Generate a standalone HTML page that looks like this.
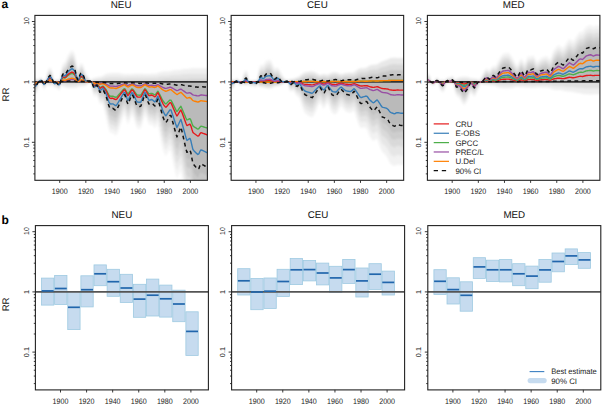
<!DOCTYPE html><html><head><meta charset="utf-8"><style>html,body{margin:0;padding:0;background:#fff;width:602px;height:404px;overflow:hidden}svg{display:block}svg text{font-family:"Liberation Sans",sans-serif;text-rendering:geometricPrecision}</style></head><body>
<svg width="602" height="404" viewBox="0 0 602 404">
<rect width="602" height="404" fill="#fff"/>
<defs>
<clipPath id="ca0"><rect x="34.9" y="15.4" width="172.5" height="164.9"/></clipPath>
<clipPath id="ca1"><rect x="231.15" y="15.4" width="172.5" height="164.9"/></clipPath>
<clipPath id="ca2"><rect x="427.4" y="15.4" width="172.5" height="164.9"/></clipPath>
<filter id="bl" x="-5%" y="-5%" width="110%" height="110%"><feGaussianBlur stdDeviation="0.8"/></filter>
</defs>
<g font-family='"Liberation Sans", sans-serif'>
<g clip-path="url(#ca0)"><g filter="url(#bl)">
<polygon fill="#f0f0f0" points="30.9,78.44 31.9,78.44 32.9,78.44 33.9,78.44 34.9,78.44 35.9,78.46 36.9,78.52 37.9,78.66 38.9,83.39 39.9,83.48 40.9,83.52 41.9,83.57 42.9,79.5 43.9,79.5 44.9,79.54 45.9,79.64 46.9,85.46 47.9,85.65 48.9,85.72 49.9,85.75 50.9,85.73 51.9,85.67 52.9,85.49 53.9,79.94 54.9,79.73 55.9,79.51 56.9,79.36 57.9,79.29 58.9,79.26 59.9,79.29 60.9,86.1 61.9,86.34 62.9,86.6 63.9,86.93 64.9,87.3 65.9,87.63 66.9,87.91 67.9,88.11 68.9,88.25 69.9,88.32 70.9,88.35 71.9,88.36 72.9,88.35 73.9,88.32 74.9,88.25 75.9,88.07 76.9,87.78 77.9,87.38 78.9,86.98 79.9,86.7 80.9,86.56 81.9,86.51 82.9,86.48 83.9,86.4 84.9,86.19 85.9,85.78 86.9,85.16 87.9,84.37 88.9,83.6 89.9,83.07 90.9,82.82 91.9,78.4 92.9,78.22 93.9,78.07 94.9,77.82 95.9,77.49 96.9,77.17 97.9,76.95 98.9,76.84 99.9,76.74 100.9,76.56 101.9,76.21 102.9,75.7 103.9,75.09 104.9,74.48 105.9,73.99 106.9,73.65 107.9,73.46 108.9,73.36 109.9,73.3 110.9,73.23 111.9,73.16 112.9,73.1 113.9,73.06 114.9,73.04 115.9,73.04 116.9,73.05 117.9,73.08 118.9,73.17 119.9,73.34 120.9,73.59 121.9,73.87 122.9,74.12 123.9,74.23 124.9,74.23 125.9,74.18 126.9,74.14 127.9,74.12 128.9,74.13 129.9,74.16 130.9,74.2 131.9,74.2 132.9,74.11 133.9,73.96 134.9,73.83 135.9,73.75 136.9,73.71 137.9,73.7 138.9,73.7 139.9,73.7 140.9,73.7 141.9,73.73 142.9,73.79 143.9,73.91 144.9,74.03 145.9,74.12 146.9,74.14 147.9,74.14 148.9,74.11 149.9,74.04 150.9,73.96 151.9,73.87 152.9,73.82 153.9,73.79 154.9,73.75 155.9,73.65 156.9,73.42 157.9,73.07 158.9,72.65 159.9,72.25 160.9,71.93 161.9,71.7 162.9,71.56 163.9,71.49 164.9,71.47 165.9,71.46 166.9,71.45 167.9,71.44 168.9,71.38 169.9,71.24 170.9,71.01 171.9,70.73 172.9,70.47 173.9,70.29 174.9,70.19 175.9,70.15 176.9,70.13 177.9,70.12 178.9,70.08 179.9,69.97 180.9,69.8 181.9,69.57 182.9,69.36 183.9,69.21 184.9,69.11 185.9,69.06 186.9,69 187.9,68.89 188.9,68.73 189.9,68.58 190.9,68.45 191.9,68.37 192.9,68.31 193.9,68.26 194.9,68.23 195.9,68.21 196.9,68.2 197.9,68.2 198.9,68.2 199.9,68.21 200.9,68.23 201.9,68.25 202.9,68.28 203.9,68.29 204.9,68.29 205.9,68.29 206.9,68.29 207.9,68.29 208.9,68.29 209.9,68.29 210.9,68.29 210.9,73.43 209.9,73.43 208.9,73.43 207.9,73.43 206.9,73.43 205.9,73.43 204.9,73.43 203.9,73.43 202.9,73.42 201.9,73.41 200.9,73.39 199.9,73.38 198.9,73.38 197.9,73.38 196.9,73.38 195.9,73.38 194.9,73.39 193.9,73.41 192.9,73.44 191.9,73.48 190.9,73.53 189.9,73.61 188.9,73.71 187.9,73.8 186.9,73.87 185.9,73.91 184.9,73.94 183.9,74 182.9,74.1 181.9,74.23 180.9,74.37 179.9,74.48 178.9,74.54 177.9,74.57 176.9,74.58 175.9,74.59 174.9,74.61 173.9,74.68 172.9,74.79 171.9,74.95 170.9,75.12 169.9,75.27 168.9,75.35 167.9,75.39 166.9,75.4 165.9,75.4 164.9,75.41 163.9,75.42 162.9,75.47 161.9,75.56 160.9,75.7 159.9,75.9 158.9,76.14 157.9,76.4 156.9,76.63 155.9,76.77 154.9,76.83 153.9,76.85 152.9,76.87 151.9,76.9 150.9,76.96 149.9,77.01 148.9,77.05 147.9,77.07 146.9,77.07 145.9,77.06 144.9,77 143.9,76.93 142.9,76.86 141.9,76.82 140.9,76.8 139.9,76.8 138.9,76.8 137.9,76.8 136.9,76.81 135.9,76.83 134.9,76.88 133.9,76.96 132.9,77.05 131.9,77.11 130.9,77.11 129.9,77.09 128.9,77.07 127.9,77.06 126.9,77.07 125.9,77.09 124.9,77.13 123.9,77.13 122.9,77.06 121.9,76.91 120.9,76.73 119.9,76.57 118.9,76.47 117.9,76.41 116.9,76.39 115.9,76.39 114.9,76.39 113.9,76.4 112.9,76.42 111.9,76.46 110.9,76.51 109.9,76.55 108.9,76.59 107.9,76.65 106.9,76.77 105.9,76.98 104.9,77.29 103.9,77.66 102.9,78.04 101.9,78.36 100.9,78.58 99.9,78.69 98.9,78.75 97.9,78.82 96.9,78.95 95.9,79.15 94.9,79.36 93.9,79.51 92.9,79.61 91.9,79.72 90.9,82.47 89.9,82.63 88.9,82.96 87.9,83.44 86.9,83.93 85.9,84.31 84.9,84.57 83.9,84.7 82.9,84.75 81.9,84.77 80.9,84.8 79.9,84.89 78.9,85.06 77.9,85.31 76.9,85.56 75.9,85.74 74.9,85.85 73.9,85.9 72.9,85.91 71.9,85.92 70.9,85.91 69.9,85.89 68.9,85.85 67.9,85.77 66.9,85.64 65.9,85.47 64.9,85.26 63.9,85.03 62.9,84.82 61.9,84.66 60.9,84.51 59.9,80.27 58.9,80.25 57.9,80.27 56.9,80.32 55.9,80.42 54.9,80.55 53.9,80.68 52.9,84.13 51.9,84.24 50.9,84.28 49.9,84.3 48.9,84.28 47.9,84.23 46.9,84.12 45.9,80.5 44.9,80.43 43.9,80.41 42.9,80.41 41.9,82.94 40.9,82.91 39.9,82.88 38.9,82.83 37.9,79.88 36.9,79.79 35.9,79.76 34.9,79.75 33.9,79.75 32.9,79.75 31.9,79.75 30.9,79.75"/>
<polygon fill="#e3e3e3" points="30.9,79.75 31.9,79.75 32.9,79.75 33.9,79.75 34.9,79.75 35.9,79.76 36.9,79.79 37.9,79.88 38.9,82.83 39.9,82.88 40.9,82.91 41.9,82.94 42.9,80.41 43.9,80.41 44.9,80.43 45.9,80.5 46.9,84.12 47.9,84.23 48.9,84.28 49.9,84.3 50.9,84.28 51.9,84.24 52.9,84.13 53.9,80.68 54.9,80.55 55.9,80.42 56.9,80.32 57.9,80.27 58.9,80.25 59.9,80.27 60.9,84.51 61.9,84.66 62.9,84.82 63.9,85.03 64.9,85.26 65.9,85.47 66.9,85.64 67.9,85.77 68.9,85.85 69.9,85.89 70.9,85.91 71.9,85.92 72.9,85.91 73.9,85.9 74.9,85.85 75.9,85.74 76.9,85.56 77.9,85.31 78.9,85.06 79.9,84.89 80.9,84.8 81.9,84.77 82.9,84.75 83.9,84.7 84.9,84.57 85.9,84.31 86.9,83.93 87.9,83.44 88.9,82.96 89.9,82.63 90.9,82.47 91.9,79.72 92.9,79.61 93.9,79.51 94.9,79.36 95.9,79.15 96.9,78.95 97.9,78.82 98.9,78.75 99.9,78.69 100.9,78.58 101.9,78.36 102.9,78.04 103.9,77.66 104.9,77.29 105.9,76.98 106.9,76.77 107.9,76.65 108.9,76.59 109.9,76.55 110.9,76.51 111.9,76.46 112.9,76.42 113.9,76.4 114.9,76.39 115.9,76.39 116.9,76.39 117.9,76.41 118.9,76.47 119.9,76.57 120.9,76.73 121.9,76.91 122.9,77.06 123.9,77.13 124.9,77.13 125.9,77.09 126.9,77.07 127.9,77.06 128.9,77.07 129.9,77.09 130.9,77.11 131.9,77.11 132.9,77.05 133.9,76.96 134.9,76.88 135.9,76.83 136.9,76.81 137.9,76.8 138.9,76.8 139.9,76.8 140.9,76.8 141.9,76.82 142.9,76.86 143.9,76.93 144.9,77 145.9,77.06 146.9,77.07 147.9,77.07 148.9,77.05 149.9,77.01 150.9,76.96 151.9,76.9 152.9,76.87 153.9,76.85 154.9,76.83 155.9,76.77 156.9,76.63 157.9,76.4 158.9,76.14 159.9,75.9 160.9,75.7 161.9,75.56 162.9,75.47 163.9,75.42 164.9,75.41 165.9,75.4 166.9,75.4 167.9,75.39 168.9,75.35 169.9,75.27 170.9,75.12 171.9,74.95 172.9,74.79 173.9,74.68 174.9,74.61 175.9,74.59 176.9,74.58 177.9,74.57 178.9,74.54 179.9,74.48 180.9,74.37 181.9,74.23 182.9,74.1 183.9,74 184.9,73.94 185.9,73.91 186.9,73.87 187.9,73.8 188.9,73.71 189.9,73.61 190.9,73.53 191.9,73.48 192.9,73.44 193.9,73.41 194.9,73.39 195.9,73.38 196.9,73.38 197.9,73.38 198.9,73.38 199.9,73.38 200.9,73.39 201.9,73.41 202.9,73.42 203.9,73.43 204.9,73.43 205.9,73.43 206.9,73.43 207.9,73.43 208.9,73.43 209.9,73.43 210.9,73.43 210.9,78.27 209.9,78.27 208.9,78.27 207.9,78.27 206.9,78.27 205.9,78.27 204.9,78.27 203.9,78.27 202.9,78.27 201.9,78.26 200.9,78.25 199.9,78.25 198.9,78.25 197.9,78.25 196.9,78.25 195.9,78.25 194.9,78.25 193.9,78.26 192.9,78.27 191.9,78.29 190.9,78.31 189.9,78.35 188.9,78.39 187.9,78.43 186.9,78.46 185.9,78.48 184.9,78.49 183.9,78.51 182.9,78.56 181.9,78.61 180.9,78.67 179.9,78.72 178.9,78.75 177.9,78.76 176.9,78.76 175.9,78.77 174.9,78.78 173.9,78.8 172.9,78.85 171.9,78.92 170.9,79 169.9,79.06 168.9,79.09 167.9,79.11 166.9,79.11 165.9,79.12 164.9,79.12 163.9,79.12 162.9,79.14 161.9,79.18 160.9,79.24 159.9,79.33 158.9,79.43 157.9,79.54 156.9,79.64 155.9,79.7 154.9,79.73 153.9,79.74 152.9,79.74 151.9,79.76 150.9,79.78 149.9,79.81 148.9,79.82 147.9,79.83 146.9,79.83 145.9,79.82 144.9,79.8 143.9,79.77 142.9,79.74 141.9,79.72 140.9,79.71 139.9,79.71 138.9,79.71 137.9,79.71 136.9,79.72 135.9,79.73 134.9,79.75 133.9,79.78 132.9,79.82 131.9,79.85 130.9,79.85 129.9,79.84 128.9,79.83 127.9,79.82 126.9,79.83 125.9,79.84 124.9,79.85 123.9,79.86 122.9,79.82 121.9,79.76 120.9,79.68 119.9,79.62 118.9,79.57 117.9,79.55 116.9,79.54 115.9,79.54 114.9,79.54 113.9,79.54 112.9,79.55 111.9,79.57 110.9,79.59 109.9,79.61 108.9,79.62 107.9,79.65 106.9,79.7 105.9,79.79 104.9,79.92 103.9,80.08 102.9,80.25 101.9,80.38 100.9,80.48 99.9,80.53 98.9,80.55 97.9,80.58 96.9,80.64 95.9,80.72 94.9,80.81 93.9,80.88 92.9,80.92 91.9,80.97 90.9,82.15 89.9,82.21 88.9,82.35 87.9,82.56 86.9,82.77 85.9,82.93 84.9,83.04 83.9,83.1 82.9,83.12 81.9,83.13 80.9,83.14 79.9,83.18 78.9,83.26 77.9,83.36 76.9,83.47 75.9,83.55 74.9,83.59 73.9,83.61 72.9,83.62 71.9,83.62 70.9,83.62 69.9,83.61 68.9,83.59 67.9,83.56 66.9,83.5 65.9,83.43 64.9,83.34 63.9,83.24 62.9,83.15 61.9,83.08 60.9,83.02 59.9,81.2 58.9,81.19 57.9,81.2 56.9,81.22 55.9,81.26 54.9,81.32 53.9,81.38 52.9,82.86 51.9,82.9 50.9,82.92 49.9,82.93 48.9,82.92 47.9,82.9 46.9,82.85 45.9,81.3 44.9,81.27 43.9,81.26 42.9,81.26 41.9,82.35 40.9,82.33 39.9,82.32 38.9,82.3 37.9,81.04 36.9,81 35.9,80.98 34.9,80.98 33.9,80.98 32.9,80.98 31.9,80.98 30.9,80.98"/>
<polygon fill="#d5d5d5" points="30.9,80.98 31.9,80.98 32.9,80.98 33.9,80.98 34.9,80.98 35.9,80.98 36.9,81 37.9,81.04 38.9,82.3 39.9,82.32 40.9,82.33 41.9,82.35 42.9,81.26 43.9,81.26 44.9,81.27 45.9,81.3 46.9,82.85 47.9,82.9 48.9,82.92 49.9,82.93 50.9,82.92 51.9,82.9 52.9,82.86 53.9,81.38 54.9,81.32 55.9,81.26 56.9,81.22 57.9,81.2 58.9,81.19 59.9,81.2 60.9,83.02 61.9,83.08 62.9,83.15 63.9,83.24 64.9,83.34 65.9,83.43 66.9,83.5 67.9,83.56 68.9,83.59 69.9,83.61 70.9,83.62 71.9,83.62 72.9,83.62 73.9,83.61 74.9,83.59 75.9,83.55 76.9,83.47 77.9,83.36 78.9,83.26 79.9,83.18 80.9,83.14 81.9,83.13 82.9,83.12 83.9,83.1 84.9,83.04 85.9,82.93 86.9,82.77 87.9,82.56 88.9,82.35 89.9,82.21 90.9,82.15 91.9,80.97 92.9,80.92 93.9,80.88 94.9,80.81 95.9,80.72 96.9,80.64 97.9,80.58 98.9,80.55 99.9,80.53 100.9,80.48 101.9,80.38 102.9,80.25 103.9,80.08 104.9,79.92 105.9,79.79 106.9,79.7 107.9,79.65 108.9,79.62 109.9,79.61 110.9,79.59 111.9,79.57 112.9,79.55 113.9,79.54 114.9,79.54 115.9,79.54 116.9,79.54 117.9,79.55 118.9,79.57 119.9,79.62 120.9,79.68 121.9,79.76 122.9,79.82 123.9,79.86 124.9,79.85 125.9,79.84 126.9,79.83 127.9,79.82 128.9,79.83 129.9,79.84 130.9,79.85 131.9,79.85 132.9,79.82 133.9,79.78 134.9,79.75 135.9,79.73 136.9,79.72 137.9,79.71 138.9,79.71 139.9,79.71 140.9,79.71 141.9,79.72 142.9,79.74 143.9,79.77 144.9,79.8 145.9,79.82 146.9,79.83 147.9,79.83 148.9,79.82 149.9,79.81 150.9,79.78 151.9,79.76 152.9,79.74 153.9,79.74 154.9,79.73 155.9,79.7 156.9,79.64 157.9,79.54 158.9,79.43 159.9,79.33 160.9,79.24 161.9,79.18 162.9,79.14 163.9,79.12 164.9,79.12 165.9,79.12 166.9,79.11 167.9,79.11 168.9,79.09 169.9,79.06 170.9,79 171.9,78.92 172.9,78.85 173.9,78.8 174.9,78.78 175.9,78.77 176.9,78.76 177.9,78.76 178.9,78.75 179.9,78.72 180.9,78.67 181.9,78.61 182.9,78.56 183.9,78.51 184.9,78.49 185.9,78.48 186.9,78.46 187.9,78.43 188.9,78.39 189.9,78.35 190.9,78.31 191.9,78.29 192.9,78.27 193.9,78.26 194.9,78.25 195.9,78.25 196.9,78.25 197.9,78.25 198.9,78.25 199.9,78.25 200.9,78.25 201.9,78.26 202.9,78.27 203.9,78.27 204.9,78.27 205.9,78.27 206.9,78.27 207.9,78.27 208.9,78.27 209.9,78.27 210.9,78.27 210.9,81.9 209.9,81.9 208.9,81.9 207.9,81.9 206.9,81.9 205.9,81.9 204.9,81.9 203.9,81.9 202.9,81.9 201.9,81.9 200.9,81.9 199.9,81.9 198.9,81.9 197.9,81.9 196.9,81.9 195.9,81.9 194.9,81.9 193.9,81.9 192.9,81.9 191.9,81.9 190.9,81.9 189.9,81.9 188.9,81.9 187.9,81.9 186.9,81.9 185.9,81.9 184.9,81.9 183.9,81.9 182.9,81.9 181.9,81.9 180.9,81.9 179.9,81.9 178.9,81.9 177.9,81.9 176.9,81.9 175.9,81.9 174.9,81.9 173.9,81.9 172.9,81.9 171.9,81.9 170.9,81.9 169.9,81.9 168.9,81.9 167.9,81.9 166.9,81.9 165.9,81.9 164.9,81.9 163.9,81.9 162.9,81.9 161.9,81.9 160.9,81.9 159.9,81.9 158.9,81.9 157.9,81.9 156.9,81.9 155.9,81.9 154.9,81.9 153.9,81.9 152.9,81.9 151.9,81.9 150.9,81.9 149.9,81.9 148.9,81.9 147.9,81.9 146.9,81.9 145.9,81.9 144.9,81.9 143.9,81.9 142.9,81.9 141.9,81.9 140.9,81.9 139.9,81.9 138.9,81.9 137.9,81.9 136.9,81.9 135.9,81.9 134.9,81.9 133.9,81.9 132.9,81.9 131.9,81.9 130.9,81.9 129.9,81.9 128.9,81.9 127.9,81.9 126.9,81.9 125.9,81.9 124.9,81.9 123.9,81.9 122.9,81.9 121.9,81.9 120.9,81.9 119.9,81.9 118.9,81.9 117.9,81.9 116.9,81.9 115.9,81.9 114.9,81.9 113.9,81.9 112.9,81.9 111.9,81.9 110.9,81.9 109.9,81.9 108.9,81.9 107.9,81.9 106.9,81.9 105.9,81.9 104.9,81.9 103.9,81.9 102.9,81.9 101.9,81.9 100.9,81.9 99.9,81.9 98.9,81.9 97.9,81.9 96.9,81.9 95.9,81.9 94.9,81.9 93.9,81.9 92.9,81.9 91.9,81.9 90.9,81.9 89.9,81.9 88.9,81.9 87.9,81.9 86.9,81.9 85.9,81.9 84.9,81.9 83.9,81.9 82.9,81.9 81.9,81.9 80.9,81.9 79.9,81.9 78.9,81.9 77.9,81.9 76.9,81.9 75.9,81.9 74.9,81.9 73.9,81.9 72.9,81.9 71.9,81.9 70.9,81.9 69.9,81.9 68.9,81.9 67.9,81.9 66.9,81.9 65.9,81.9 64.9,81.9 63.9,81.9 62.9,81.9 61.9,81.9 60.9,81.9 59.9,81.9 58.9,81.9 57.9,81.9 56.9,81.9 55.9,81.9 54.9,81.9 53.9,81.9 52.9,81.9 51.9,81.9 50.9,81.9 49.9,81.9 48.9,81.9 47.9,81.9 46.9,81.9 45.9,81.9 44.9,81.9 43.9,81.9 42.9,81.9 41.9,81.9 40.9,81.9 39.9,81.9 38.9,81.9 37.9,81.9 36.9,81.9 35.9,81.9 34.9,81.9 33.9,81.9 32.9,81.9 31.9,81.9 30.9,81.9"/>
<polygon fill="#bababa" points="30.9,81.9 31.9,81.9 32.9,81.9 33.9,81.9 34.9,81.9 35.9,81.9 36.9,81.9 37.9,81.9 38.9,81.9 39.9,81.9 40.9,81.9 41.9,81.9 42.9,81.9 43.9,81.9 44.9,81.9 45.9,81.9 46.9,81.9 47.9,81.9 48.9,81.9 49.9,81.9 50.9,81.9 51.9,81.9 52.9,81.9 53.9,81.9 54.9,81.9 55.9,81.9 56.9,81.9 57.9,81.9 58.9,81.9 59.9,81.9 60.9,81.9 61.9,81.9 62.9,81.9 63.9,81.9 64.9,81.9 65.9,81.9 66.9,81.9 67.9,81.9 68.9,81.9 69.9,81.9 70.9,81.9 71.9,81.9 72.9,81.9 73.9,81.9 74.9,81.9 75.9,81.9 76.9,81.9 77.9,81.9 78.9,81.9 79.9,81.9 80.9,81.9 81.9,81.9 82.9,81.9 83.9,81.9 84.9,81.9 85.9,81.9 86.9,81.9 87.9,81.9 88.9,81.9 89.9,81.9 90.9,81.9 91.9,81.9 92.9,81.9 93.9,81.9 94.9,81.9 95.9,81.9 96.9,81.9 97.9,81.9 98.9,81.9 99.9,81.9 100.9,81.9 101.9,81.9 102.9,81.9 103.9,81.9 104.9,81.9 105.9,81.9 106.9,81.9 107.9,81.9 108.9,81.9 109.9,81.9 110.9,81.9 111.9,81.9 112.9,81.9 113.9,81.9 114.9,81.9 115.9,81.9 116.9,81.9 117.9,81.9 118.9,81.9 119.9,81.9 120.9,81.9 121.9,81.9 122.9,81.9 123.9,81.9 124.9,81.9 125.9,81.9 126.9,81.9 127.9,81.9 128.9,81.9 129.9,81.9 130.9,81.9 131.9,81.9 132.9,81.9 133.9,81.9 134.9,81.9 135.9,81.9 136.9,81.9 137.9,81.9 138.9,81.9 139.9,81.9 140.9,81.9 141.9,81.9 142.9,81.9 143.9,81.9 144.9,81.9 145.9,81.9 146.9,81.9 147.9,81.9 148.9,81.9 149.9,81.9 150.9,81.9 151.9,81.9 152.9,81.9 153.9,81.9 154.9,81.9 155.9,81.9 156.9,81.9 157.9,81.9 158.9,81.9 159.9,81.9 160.9,81.9 161.9,81.9 162.9,81.9 163.9,81.9 164.9,81.9 165.9,81.9 166.9,81.9 167.9,81.9 168.9,81.9 169.9,81.9 170.9,81.9 171.9,81.9 172.9,81.9 173.9,81.9 174.9,81.9 175.9,81.9 176.9,81.9 177.9,81.9 178.9,81.9 179.9,81.9 180.9,81.9 181.9,81.9 182.9,81.9 183.9,81.9 184.9,81.9 185.9,81.9 186.9,81.9 187.9,81.9 188.9,81.9 189.9,81.9 190.9,81.9 191.9,81.9 192.9,81.9 193.9,81.9 194.9,81.9 195.9,81.9 196.9,81.9 197.9,81.9 198.9,81.9 199.9,81.9 200.9,81.9 201.9,81.9 202.9,81.9 203.9,81.9 204.9,81.9 205.9,81.9 206.9,81.9 207.9,81.9 208.9,81.9 209.9,81.9 210.9,81.9 210.9,167.44 209.9,167.44 208.9,167.44 207.9,167.42 206.9,167.13 205.9,166.57 204.9,165.98 203.9,165.4 202.9,164.81 201.9,164.23 200.9,163.82 199.9,165.65 198.9,168.43 197.9,169.35 196.9,168.32 195.9,167.13 194.9,165.95 193.9,164.77 192.9,163.29 191.9,158.32 190.9,152.86 189.9,149.94 188.9,150.65 187.9,151.65 186.9,152.29 185.9,148.72 184.9,144.32 183.9,139.89 182.9,135.46 181.9,131.03 180.9,127.11 179.9,129.28 178.9,131.96 177.9,134.64 176.9,136.86 175.9,133.65 174.9,129.98 173.9,126.31 172.9,122.63 171.9,118.96 170.9,115.57 169.9,115.62 168.9,117.37 167.9,119.23 166.9,121.1 165.9,122.73 164.9,121.46 163.9,119.23 162.9,116.86 161.9,113.39 160.9,109.71 159.9,106.03 158.9,102.34 157.9,99.11 156.9,101.33 155.9,104.48 154.9,105.98 153.9,105.11 152.9,104.05 151.9,103.09 150.9,103.39 149.9,103.79 148.9,103.97 147.9,101.5 146.9,98.81 145.9,96.17 144.9,94.39 143.9,97.08 142.9,100.15 141.9,103.22 140.9,106.09 139.9,106.49 138.9,106.42 137.9,106.3 136.9,105.81 135.9,103.37 134.9,100.76 133.9,98.15 132.9,95.65 131.9,94.72 130.9,96.98 129.9,99.5 128.9,102.02 127.9,104.14 126.9,101.53 125.9,98 124.9,94.71 123.9,94.93 122.9,96.89 121.9,98.98 120.9,101.07 119.9,103.15 118.9,105.24 117.9,107.35 116.9,109.4 115.9,110.55 114.9,109.89 113.9,109.09 112.9,108.34 111.9,108.32 110.9,108.59 109.9,108.08 108.9,105.89 107.9,102.62 106.9,98.92 105.9,95.8 104.9,93.55 103.9,91.39 102.9,89.71 101.9,90.54 100.9,91.57 99.9,92.34 98.9,90.01 97.9,87.41 96.9,85.09 95.9,86.07 94.9,87.98 93.9,88.03 92.9,85.36 91.9,82.61 90.9,81.48 89.9,80.92 88.9,81 87.9,81.02 86.9,80.94 85.9,80.77 84.9,79.5 83.9,76.73 82.9,74.49 81.9,73.03 80.9,73.19 79.9,74.99 78.9,78.44 77.9,80.05 76.9,77.55 75.9,73.61 74.9,69.51 73.9,67.88 72.9,66.52 71.9,66.05 70.9,66.81 69.9,67.69 68.9,68.77 67.9,70.12 66.9,71.66 65.9,73.66 64.9,74.81 63.9,74.16 62.9,73.91 61.9,76.45 60.9,79.83 59.9,84.73 58.9,85.56 57.9,84.3 56.9,82.96 55.9,82.63 54.9,84.16 53.9,83.44 52.9,80.69 51.9,78.26 50.9,76.08 49.9,75.35 48.9,76.64 47.9,78.15 46.9,80.21 45.9,82.24 44.9,84.04 43.9,85.1 42.9,82.59 41.9,80.99 40.9,79.95 39.9,80.7 38.9,81.61 37.9,82.6 36.9,84.67 35.9,86.82 34.9,87.37 33.9,87.4 32.9,87.4 31.9,87.4 30.9,87.4"/>
<polygon fill="#bebebe" points="30.9,87.4 31.9,87.4 32.9,87.4 33.9,87.4 34.9,87.37 35.9,86.82 36.9,84.67 37.9,82.6 38.9,81.61 39.9,80.7 40.9,79.95 41.9,80.99 42.9,82.59 43.9,85.1 44.9,84.04 45.9,82.24 46.9,80.21 47.9,78.15 48.9,76.64 49.9,75.35 50.9,76.08 51.9,78.26 52.9,80.69 53.9,83.44 54.9,84.16 55.9,82.63 56.9,82.96 57.9,84.3 58.9,85.56 59.9,84.73 60.9,79.83 61.9,76.45 62.9,73.91 63.9,74.16 64.9,74.81 65.9,73.66 66.9,71.66 67.9,70.12 68.9,68.77 69.9,67.69 70.9,66.81 71.9,66.05 72.9,66.52 73.9,67.88 74.9,69.51 75.9,73.61 76.9,77.55 77.9,80.05 78.9,78.44 79.9,74.99 80.9,73.19 81.9,73.03 82.9,74.49 83.9,76.73 84.9,79.5 85.9,80.77 86.9,80.94 87.9,81.02 88.9,81 89.9,80.92 90.9,81.48 91.9,82.61 92.9,85.36 93.9,88.03 94.9,87.98 95.9,86.07 96.9,85.09 97.9,87.41 98.9,90.01 99.9,92.34 100.9,91.57 101.9,90.54 102.9,89.71 103.9,91.39 104.9,93.55 105.9,95.8 106.9,98.92 107.9,102.62 108.9,105.89 109.9,108.08 110.9,108.59 111.9,108.32 112.9,108.34 113.9,109.09 114.9,109.89 115.9,110.55 116.9,109.4 117.9,107.35 118.9,105.24 119.9,103.15 120.9,101.07 121.9,98.98 122.9,96.89 123.9,94.93 124.9,94.71 125.9,98 126.9,101.53 127.9,104.14 128.9,102.02 129.9,99.5 130.9,96.98 131.9,94.72 132.9,95.65 133.9,98.15 134.9,100.76 135.9,103.37 136.9,105.81 137.9,106.3 138.9,106.42 139.9,106.49 140.9,106.09 141.9,103.22 142.9,100.15 143.9,97.08 144.9,94.39 145.9,96.17 146.9,98.81 147.9,101.5 148.9,103.97 149.9,103.79 150.9,103.39 151.9,103.09 152.9,104.05 153.9,105.11 154.9,105.98 155.9,104.48 156.9,101.33 157.9,99.11 158.9,102.34 159.9,106.03 160.9,109.71 161.9,113.39 162.9,116.86 163.9,119.23 164.9,121.46 165.9,122.73 166.9,121.1 167.9,119.23 168.9,117.37 169.9,115.62 170.9,115.57 171.9,118.96 172.9,122.63 173.9,126.31 174.9,129.98 175.9,133.65 176.9,136.86 177.9,134.64 178.9,131.96 179.9,129.28 180.9,127.11 181.9,131.03 182.9,135.46 183.9,139.89 184.9,144.32 185.9,148.72 186.9,152.29 187.9,151.65 188.9,150.65 189.9,149.94 190.9,152.86 191.9,158.32 192.9,163.29 193.9,164.77 194.9,165.95 195.9,167.13 196.9,168.32 197.9,169.35 198.9,168.43 199.9,165.65 200.9,163.82 201.9,164.23 202.9,164.81 203.9,165.4 204.9,165.98 205.9,166.57 206.9,167.13 207.9,167.42 208.9,167.44 209.9,167.44 210.9,167.44 210.9,176.88 209.9,176.88 208.9,176.88 207.9,176.86 206.9,176.56 205.9,176 204.9,175.41 203.9,174.83 202.9,174.26 201.9,173.72 200.9,173.36 199.9,175.21 198.9,178.01 197.9,178.93 196.9,177.89 195.9,176.69 194.9,175.48 193.9,174.25 192.9,172.7 191.9,167.62 190.9,162.03 189.9,158.92 188.9,159.39 187.9,160.16 186.9,160.65 185.9,156.99 184.9,152.53 183.9,147.97 182.9,143.33 181.9,138.62 180.9,134.43 179.9,136.38 178.9,138.94 177.9,141.57 176.9,143.78 175.9,140.55 174.9,136.83 173.9,133.04 172.9,129.17 171.9,125.22 170.9,121.55 169.9,121.36 168.9,122.98 167.9,124.79 166.9,126.64 165.9,128.27 164.9,126.99 163.9,124.74 162.9,122.29 161.9,118.7 160.9,114.82 159.9,110.86 158.9,106.85 157.9,103.3 156.9,105.26 155.9,108.24 154.9,109.68 153.9,108.78 152.9,107.7 151.9,106.71 150.9,106.95 149.9,107.29 148.9,107.42 147.9,104.94 146.9,102.25 145.9,99.62 144.9,97.9 143.9,100.68 142.9,103.82 141.9,106.94 140.9,109.82 139.9,110.22 138.9,110.15 137.9,110.04 136.9,109.54 135.9,107.07 134.9,104.4 133.9,101.7 132.9,99.1 131.9,98.12 130.9,100.38 129.9,102.92 128.9,105.46 127.9,107.59 126.9,104.97 125.9,101.41 124.9,98.09 123.9,98.31 122.9,100.35 121.9,102.59 120.9,104.88 119.9,107.14 118.9,109.36 117.9,111.53 116.9,113.6 115.9,114.76 114.9,114.1 113.9,113.28 112.9,112.51 111.9,112.43 110.9,112.65 109.9,112.1 108.9,109.87 107.9,106.52 106.9,102.68 105.9,99.33 104.9,96.76 103.9,94.24 102.9,92.23 101.9,92.78 100.9,93.63 99.9,94.31 98.9,91.94 97.9,89.29 96.9,86.87 95.9,87.7 94.9,89.47 93.9,89.41 92.9,86.68 91.9,83.86 90.9,81.17 89.9,80.53 88.9,80.42 87.9,80.17 86.9,79.79 85.9,79.37 84.9,77.92 83.9,75.05 82.9,72.78 81.9,71.31 80.9,71.44 79.9,73.18 78.9,76.5 77.9,77.91 76.9,75.21 75.9,71.11 74.9,66.92 73.9,65.24 72.9,63.87 71.9,63.39 70.9,64.17 69.9,65.06 68.9,66.18 67.9,67.6 66.9,69.26 65.9,71.4 64.9,72.71 63.9,72.24 62.9,72.14 61.9,74.8 60.9,78.29 59.9,85.64 58.9,86.48 57.9,85.21 56.9,83.84 55.9,83.46 54.9,84.91 53.9,84.11 52.9,79.41 51.9,76.91 50.9,74.7 49.9,73.96 48.9,75.26 47.9,76.8 46.9,78.93 45.9,83.02 44.9,84.85 43.9,85.93 42.9,83.41 41.9,80.42 40.9,79.4 39.9,80.17 38.9,81.1 37.9,83.75 36.9,85.87 35.9,88.04 34.9,88.6 33.9,88.63 32.9,88.63 31.9,88.63 30.9,88.63"/>
<polygon fill="#c8c8c8" points="30.9,88.63 31.9,88.63 32.9,88.63 33.9,88.63 34.9,88.6 35.9,88.04 36.9,85.87 37.9,83.75 38.9,81.1 39.9,80.17 40.9,79.4 41.9,80.42 42.9,83.41 43.9,85.93 44.9,84.85 45.9,83.02 46.9,78.93 47.9,76.8 48.9,75.26 49.9,73.96 50.9,74.7 51.9,76.91 52.9,79.41 53.9,84.11 54.9,84.91 55.9,83.46 56.9,83.84 57.9,85.21 58.9,86.48 59.9,85.64 60.9,78.29 61.9,74.8 62.9,72.14 63.9,72.24 64.9,72.71 65.9,71.4 66.9,69.26 67.9,67.6 68.9,66.18 69.9,65.06 70.9,64.17 71.9,63.39 72.9,63.87 73.9,65.24 74.9,66.92 75.9,71.11 76.9,75.21 77.9,77.91 78.9,76.5 79.9,73.18 80.9,71.44 81.9,71.31 82.9,72.78 83.9,75.05 84.9,77.92 85.9,79.37 86.9,79.79 87.9,80.17 88.9,80.42 89.9,80.53 90.9,81.17 91.9,83.86 92.9,86.68 93.9,89.41 94.9,89.47 95.9,87.7 96.9,86.87 97.9,89.29 98.9,91.94 99.9,94.31 100.9,93.63 101.9,92.78 102.9,92.23 103.9,94.24 104.9,96.76 105.9,99.33 106.9,102.68 107.9,106.52 108.9,109.87 109.9,112.1 110.9,112.65 111.9,112.43 112.9,112.51 113.9,113.28 114.9,114.1 115.9,114.76 116.9,113.6 117.9,111.53 118.9,109.36 119.9,107.14 120.9,104.88 121.9,102.59 122.9,100.35 123.9,98.31 124.9,98.09 125.9,101.41 126.9,104.97 127.9,107.59 128.9,105.46 129.9,102.92 130.9,100.38 131.9,98.12 132.9,99.1 133.9,101.7 134.9,104.4 135.9,107.07 136.9,109.54 137.9,110.04 138.9,110.15 139.9,110.22 140.9,109.82 141.9,106.94 142.9,103.82 143.9,100.68 144.9,97.9 145.9,99.62 146.9,102.25 147.9,104.94 148.9,107.42 149.9,107.29 150.9,106.95 151.9,106.71 152.9,107.7 153.9,108.78 154.9,109.68 155.9,108.24 156.9,105.26 157.9,103.3 158.9,106.85 159.9,110.86 160.9,114.82 161.9,118.7 162.9,122.29 163.9,124.74 164.9,126.99 165.9,128.27 166.9,126.64 167.9,124.79 168.9,122.98 169.9,121.36 170.9,121.55 171.9,125.22 172.9,129.17 173.9,133.04 174.9,136.83 175.9,140.55 176.9,143.78 177.9,141.57 178.9,138.94 179.9,136.38 180.9,134.43 181.9,138.62 182.9,143.33 183.9,147.97 184.9,152.53 185.9,156.99 186.9,160.65 187.9,160.16 188.9,159.39 189.9,158.92 190.9,162.03 191.9,167.62 192.9,172.7 193.9,174.25 194.9,175.48 195.9,176.69 196.9,177.89 197.9,178.93 198.9,178.01 199.9,175.21 200.9,173.36 201.9,173.72 202.9,174.26 203.9,174.83 204.9,175.41 205.9,176 206.9,176.56 207.9,176.86 208.9,176.88 209.9,176.88 210.9,176.88 210.9,186.32 209.9,186.32 208.9,186.32 207.9,186.3 206.9,186 205.9,185.43 204.9,184.84 203.9,184.26 202.9,183.72 201.9,183.21 200.9,182.89 199.9,184.77 198.9,187.58 197.9,188.5 196.9,187.46 195.9,186.26 194.9,185.01 193.9,183.73 192.9,182.1 191.9,176.93 190.9,171.2 189.9,167.9 188.9,168.14 187.9,168.68 186.9,169.01 185.9,165.26 184.9,160.73 183.9,156.05 182.9,151.2 181.9,146.21 180.9,141.74 179.9,143.48 178.9,145.92 177.9,148.51 176.9,150.7 175.9,147.45 174.9,143.68 173.9,139.78 172.9,135.7 171.9,131.48 170.9,127.52 169.9,127.11 168.9,128.59 167.9,130.35 166.9,132.18 165.9,133.8 164.9,132.51 163.9,130.24 162.9,127.73 161.9,124.01 160.9,119.93 159.9,115.69 158.9,111.37 157.9,107.49 156.9,109.18 155.9,112.01 154.9,113.38 153.9,112.46 152.9,111.35 151.9,110.32 150.9,110.51 149.9,110.79 148.9,110.88 147.9,108.38 146.9,105.68 145.9,103.08 144.9,101.41 143.9,104.27 142.9,107.49 141.9,110.65 140.9,113.54 139.9,113.96 138.9,113.89 137.9,113.77 136.9,113.26 135.9,110.77 134.9,108.05 133.9,105.26 132.9,102.56 131.9,101.52 130.9,103.78 129.9,106.35 128.9,108.9 127.9,111.05 126.9,108.41 125.9,104.83 124.9,101.47 123.9,101.68 122.9,103.8 121.9,106.21 120.9,108.69 119.9,111.13 118.9,113.47 117.9,115.7 116.9,117.8 115.9,118.96 114.9,118.3 113.9,117.47 112.9,116.67 111.9,116.55 110.9,116.71 109.9,116.11 108.9,113.84 107.9,110.42 106.9,106.45 105.9,102.87 104.9,99.98 103.9,97.1 102.9,94.74 101.9,95.02 100.9,95.7 99.9,96.29 98.9,93.87 97.9,91.17 96.9,88.65 95.9,89.33 94.9,90.95 93.9,90.8 92.9,88 91.9,85.11 90.9,80.86 89.9,80.13 88.9,79.84 87.9,79.31 86.9,78.64 85.9,77.96 84.9,76.34 83.9,73.38 82.9,71.07 81.9,69.59 80.9,69.7 79.9,71.37 78.9,74.56 77.9,75.78 76.9,72.87 75.9,68.62 74.9,64.33 73.9,62.61 72.9,61.22 71.9,60.74 70.9,61.52 69.9,62.43 68.9,63.58 67.9,65.09 66.9,66.85 65.9,69.14 64.9,70.62 63.9,70.33 62.9,70.38 61.9,73.16 60.9,76.76 59.9,86.55 58.9,87.4 57.9,86.11 56.9,84.72 55.9,84.28 54.9,85.65 53.9,84.78 52.9,78.13 51.9,75.55 50.9,73.32 49.9,72.56 48.9,73.88 47.9,75.45 46.9,77.66 45.9,83.8 44.9,85.66 43.9,86.75 42.9,84.24 41.9,79.85 40.9,78.85 39.9,79.63 38.9,80.59 37.9,84.89 36.9,87.07 35.9,89.27 34.9,89.83 33.9,89.86 32.9,89.86 31.9,89.86 30.9,89.86"/>
<polygon fill="#d4d4d4" points="30.9,89.86 31.9,89.86 32.9,89.86 33.9,89.86 34.9,89.83 35.9,89.27 36.9,87.07 37.9,84.89 38.9,80.59 39.9,79.63 40.9,78.85 41.9,79.85 42.9,84.24 43.9,86.75 44.9,85.66 45.9,83.8 46.9,77.66 47.9,75.45 48.9,73.88 49.9,72.56 50.9,73.32 51.9,75.55 52.9,78.13 53.9,84.78 54.9,85.65 55.9,84.28 56.9,84.72 57.9,86.11 58.9,87.4 59.9,86.55 60.9,76.76 61.9,73.16 62.9,70.38 63.9,70.33 64.9,70.62 65.9,69.14 66.9,66.85 67.9,65.09 68.9,63.58 69.9,62.43 70.9,61.52 71.9,60.74 72.9,61.22 73.9,62.61 74.9,64.33 75.9,68.62 76.9,72.87 77.9,75.78 78.9,74.56 79.9,71.37 80.9,69.7 81.9,69.59 82.9,71.07 83.9,73.38 84.9,76.34 85.9,77.96 86.9,78.64 87.9,79.31 88.9,79.84 89.9,80.13 90.9,80.86 91.9,85.11 92.9,88 93.9,90.8 94.9,90.95 95.9,89.33 96.9,88.65 97.9,91.17 98.9,93.87 99.9,96.29 100.9,95.7 101.9,95.02 102.9,94.74 103.9,97.1 104.9,99.98 105.9,102.87 106.9,106.45 107.9,110.42 108.9,113.84 109.9,116.11 110.9,116.71 111.9,116.55 112.9,116.67 113.9,117.47 114.9,118.3 115.9,118.96 116.9,117.8 117.9,115.7 118.9,113.47 119.9,111.13 120.9,108.69 121.9,106.21 122.9,103.8 123.9,101.68 124.9,101.47 125.9,104.83 126.9,108.41 127.9,111.05 128.9,108.9 129.9,106.35 130.9,103.78 131.9,101.52 132.9,102.56 133.9,105.26 134.9,108.05 135.9,110.77 136.9,113.26 137.9,113.77 138.9,113.89 139.9,113.96 140.9,113.54 141.9,110.65 142.9,107.49 143.9,104.27 144.9,101.41 145.9,103.08 146.9,105.68 147.9,108.38 148.9,110.88 149.9,110.79 150.9,110.51 151.9,110.32 152.9,111.35 153.9,112.46 154.9,113.38 155.9,112.01 156.9,109.18 157.9,107.49 158.9,111.37 159.9,115.69 160.9,119.93 161.9,124.01 162.9,127.73 163.9,130.24 164.9,132.51 165.9,133.8 166.9,132.18 167.9,130.35 168.9,128.59 169.9,127.11 170.9,127.52 171.9,131.48 172.9,135.7 173.9,139.78 174.9,143.68 175.9,147.45 176.9,150.7 177.9,148.51 178.9,145.92 179.9,143.48 180.9,141.74 181.9,146.21 182.9,151.2 183.9,156.05 184.9,160.73 185.9,165.26 186.9,169.01 187.9,168.68 188.9,168.14 189.9,167.9 190.9,171.2 191.9,176.93 192.9,182.1 193.9,183.73 194.9,185.01 195.9,186.26 196.9,187.46 197.9,188.5 198.9,187.58 199.9,184.77 200.9,182.89 201.9,183.21 202.9,183.72 203.9,184.26 204.9,184.84 205.9,185.43 206.9,186 207.9,186.3 208.9,186.32 209.9,186.32 210.9,186.32 210.9,195.75 209.9,195.75 208.9,195.75 207.9,195.73 206.9,195.44 205.9,194.86 204.9,194.27 203.9,193.69 202.9,193.17 201.9,192.7 200.9,192.42 199.9,194.34 198.9,197.15 197.9,198.08 196.9,197.04 195.9,195.82 194.9,194.54 193.9,193.2 192.9,191.5 191.9,186.24 190.9,180.37 189.9,176.89 188.9,176.88 187.9,177.2 186.9,177.37 185.9,173.54 184.9,168.93 183.9,164.13 182.9,159.07 181.9,153.81 180.9,149.06 179.9,150.59 178.9,152.91 177.9,155.44 176.9,157.61 175.9,154.35 174.9,150.54 173.9,146.52 172.9,142.23 171.9,137.74 170.9,133.49 169.9,132.86 168.9,134.2 167.9,135.9 166.9,137.72 165.9,139.34 164.9,138.04 163.9,135.74 162.9,133.17 161.9,129.32 160.9,125.03 159.9,120.53 158.9,115.88 157.9,111.67 156.9,113.11 155.9,115.78 154.9,117.08 153.9,116.13 152.9,115.01 151.9,113.94 150.9,114.06 149.9,114.29 148.9,114.34 147.9,111.82 146.9,109.12 145.9,106.53 144.9,104.92 143.9,107.86 142.9,111.16 141.9,114.36 140.9,117.27 139.9,117.69 138.9,117.62 137.9,117.5 136.9,116.98 135.9,114.47 134.9,111.7 133.9,108.81 132.9,106.02 131.9,104.92 130.9,107.17 129.9,109.77 128.9,112.35 127.9,114.5 126.9,111.85 125.9,108.24 124.9,104.85 123.9,105.06 122.9,107.25 121.9,109.82 120.9,112.5 119.9,115.12 118.9,117.58 117.9,119.88 116.9,122 115.9,123.17 114.9,122.5 113.9,121.67 112.9,120.84 111.9,120.67 110.9,120.78 109.9,120.13 108.9,117.81 107.9,114.33 106.9,110.22 105.9,106.41 104.9,103.2 103.9,99.95 102.9,97.25 101.9,97.26 100.9,97.77 99.9,98.27 98.9,95.8 97.9,93.05 96.9,90.43 95.9,90.97 94.9,92.44 93.9,92.18 92.9,89.33 91.9,86.35 90.9,80.55 89.9,79.73 88.9,79.27 87.9,78.46 86.9,77.49 85.9,76.56 84.9,74.76 83.9,71.71 82.9,69.36 81.9,67.86 80.9,67.95 79.9,69.57 78.9,72.62 77.9,73.64 76.9,70.53 75.9,66.12 74.9,61.74 73.9,59.98 72.9,58.57 71.9,58.09 70.9,58.87 69.9,59.8 68.9,60.99 67.9,62.57 66.9,64.44 65.9,66.87 64.9,68.52 63.9,68.41 62.9,68.62 61.9,71.51 60.9,75.22 59.9,87.45 58.9,88.32 57.9,87.02 56.9,85.6 55.9,85.1 54.9,86.4 53.9,85.45 52.9,76.84 51.9,74.2 50.9,71.93 49.9,71.17 48.9,72.5 47.9,74.1 46.9,76.39 45.9,84.57 44.9,86.48 43.9,87.58 42.9,85.07 41.9,79.28 40.9,78.3 39.9,79.09 38.9,80.09 37.9,86.04 36.9,88.27 35.9,90.49 34.9,91.06 33.9,91.09 32.9,91.09 31.9,91.09 30.9,91.09"/>
<polygon fill="#e0e0e0" points="30.9,91.09 31.9,91.09 32.9,91.09 33.9,91.09 34.9,91.06 35.9,90.49 36.9,88.27 37.9,86.04 38.9,80.09 39.9,79.09 40.9,78.3 41.9,79.28 42.9,85.07 43.9,87.58 44.9,86.48 45.9,84.57 46.9,76.39 47.9,74.1 48.9,72.5 49.9,71.17 50.9,71.93 51.9,74.2 52.9,76.84 53.9,85.45 54.9,86.4 55.9,85.1 56.9,85.6 57.9,87.02 58.9,88.32 59.9,87.45 60.9,75.22 61.9,71.51 62.9,68.62 63.9,68.41 64.9,68.52 65.9,66.87 66.9,64.44 67.9,62.57 68.9,60.99 69.9,59.8 70.9,58.87 71.9,58.09 72.9,58.57 73.9,59.98 74.9,61.74 75.9,66.12 76.9,70.53 77.9,73.64 78.9,72.62 79.9,69.57 80.9,67.95 81.9,67.86 82.9,69.36 83.9,71.71 84.9,74.76 85.9,76.56 86.9,77.49 87.9,78.46 88.9,79.27 89.9,79.73 90.9,80.55 91.9,86.35 92.9,89.33 93.9,92.18 94.9,92.44 95.9,90.97 96.9,90.43 97.9,93.05 98.9,95.8 99.9,98.27 100.9,97.77 101.9,97.26 102.9,97.25 103.9,99.95 104.9,103.2 105.9,106.41 106.9,110.22 107.9,114.33 108.9,117.81 109.9,120.13 110.9,120.78 111.9,120.67 112.9,120.84 113.9,121.67 114.9,122.5 115.9,123.17 116.9,122 117.9,119.88 118.9,117.58 119.9,115.12 120.9,112.5 121.9,109.82 122.9,107.25 123.9,105.06 124.9,104.85 125.9,108.24 126.9,111.85 127.9,114.5 128.9,112.35 129.9,109.77 130.9,107.17 131.9,104.92 132.9,106.02 133.9,108.81 134.9,111.7 135.9,114.47 136.9,116.98 137.9,117.5 138.9,117.62 139.9,117.69 140.9,117.27 141.9,114.36 142.9,111.16 143.9,107.86 144.9,104.92 145.9,106.53 146.9,109.12 147.9,111.82 148.9,114.34 149.9,114.29 150.9,114.06 151.9,113.94 152.9,115.01 153.9,116.13 154.9,117.08 155.9,115.78 156.9,113.11 157.9,111.67 158.9,115.88 159.9,120.53 160.9,125.03 161.9,129.32 162.9,133.17 163.9,135.74 164.9,138.04 165.9,139.34 166.9,137.72 167.9,135.9 168.9,134.2 169.9,132.86 170.9,133.49 171.9,137.74 172.9,142.23 173.9,146.52 174.9,150.54 175.9,154.35 176.9,157.61 177.9,155.44 178.9,152.91 179.9,150.59 180.9,149.06 181.9,153.81 182.9,159.07 183.9,164.13 184.9,168.93 185.9,173.54 186.9,177.37 187.9,177.2 188.9,176.88 189.9,176.89 190.9,180.37 191.9,186.24 192.9,191.5 193.9,193.2 194.9,194.54 195.9,195.82 196.9,197.04 197.9,198.08 198.9,197.15 199.9,194.34 200.9,192.42 201.9,192.7 202.9,193.17 203.9,193.69 204.9,194.27 205.9,194.86 206.9,195.44 207.9,195.73 208.9,195.75 209.9,195.75 210.9,195.75 210.9,205.19 209.9,205.19 208.9,205.19 207.9,205.17 206.9,204.87 205.9,204.3 204.9,203.7 203.9,203.12 202.9,202.62 201.9,202.19 200.9,201.96 199.9,203.9 198.9,206.72 197.9,207.66 196.9,206.61 195.9,205.38 194.9,204.08 193.9,202.68 192.9,200.91 191.9,195.54 190.9,189.55 189.9,185.87 188.9,185.63 187.9,185.72 186.9,185.74 185.9,181.81 184.9,177.13 183.9,172.2 182.9,166.93 181.9,161.4 180.9,156.37 179.9,157.69 178.9,159.89 177.9,162.37 176.9,164.53 175.9,161.25 174.9,157.39 173.9,153.25 172.9,148.76 171.9,143.99 170.9,139.46 169.9,138.6 168.9,139.81 167.9,141.46 166.9,143.26 165.9,144.88 164.9,143.57 163.9,141.24 162.9,138.61 161.9,134.63 160.9,130.14 159.9,125.36 158.9,120.39 157.9,115.86 156.9,117.03 155.9,119.54 154.9,120.77 153.9,119.8 152.9,118.66 151.9,117.55 150.9,117.62 149.9,117.79 148.9,117.8 147.9,115.25 146.9,112.55 145.9,109.98 144.9,108.43 143.9,111.45 142.9,114.83 141.9,118.07 140.9,121 139.9,121.43 138.9,121.35 137.9,121.23 136.9,120.71 135.9,118.17 134.9,115.34 133.9,112.37 132.9,109.47 131.9,108.31 130.9,110.57 129.9,113.19 128.9,115.79 127.9,117.95 126.9,115.29 125.9,111.65 124.9,108.23 123.9,108.44 122.9,110.71 121.9,113.44 120.9,116.31 119.9,119.11 118.9,121.69 117.9,124.05 116.9,126.2 115.9,127.38 114.9,126.71 113.9,125.86 112.9,125 111.9,124.79 110.9,124.84 109.9,124.15 108.9,121.78 107.9,118.23 106.9,113.99 105.9,109.95 104.9,106.42 103.9,102.81 102.9,99.76 101.9,99.5 100.9,99.84 99.9,100.25 98.9,97.73 97.9,94.92 96.9,92.21 95.9,92.6 94.9,93.93 93.9,93.57 92.9,90.65 91.9,87.6 90.9,80.24 89.9,79.34 88.9,78.69 87.9,77.6 86.9,76.34 85.9,75.16 84.9,73.18 83.9,70.04 82.9,67.65 81.9,66.14 80.9,66.21 79.9,67.76 78.9,70.67 77.9,71.5 76.9,68.19 75.9,63.62 74.9,59.15 73.9,57.34 72.9,55.93 71.9,55.43 70.9,56.22 69.9,57.17 68.9,58.4 67.9,60.05 66.9,62.04 65.9,64.61 64.9,66.43 63.9,66.49 62.9,66.86 61.9,69.87 60.9,73.68 59.9,88.36 58.9,89.23 57.9,87.93 56.9,86.48 55.9,85.92 54.9,87.14 53.9,86.12 52.9,75.56 51.9,72.84 50.9,70.55 49.9,69.78 48.9,71.12 47.9,72.75 46.9,75.12 45.9,85.35 44.9,87.29 43.9,88.41 42.9,85.89 41.9,78.71 40.9,77.75 39.9,78.56 38.9,79.58 37.9,87.18 36.9,89.48 35.9,91.71 34.9,92.28 33.9,92.32 32.9,92.32 31.9,92.32 30.9,92.32"/>
<polygon fill="#ebebeb" points="30.9,92.32 31.9,92.32 32.9,92.32 33.9,92.32 34.9,92.28 35.9,91.71 36.9,89.48 37.9,87.18 38.9,79.58 39.9,78.56 40.9,77.75 41.9,78.71 42.9,85.89 43.9,88.41 44.9,87.29 45.9,85.35 46.9,75.12 47.9,72.75 48.9,71.12 49.9,69.78 50.9,70.55 51.9,72.84 52.9,75.56 53.9,86.12 54.9,87.14 55.9,85.92 56.9,86.48 57.9,87.93 58.9,89.23 59.9,88.36 60.9,73.68 61.9,69.87 62.9,66.86 63.9,66.49 64.9,66.43 65.9,64.61 66.9,62.04 67.9,60.05 68.9,58.4 69.9,57.17 70.9,56.22 71.9,55.43 72.9,55.93 73.9,57.34 74.9,59.15 75.9,63.62 76.9,68.19 77.9,71.5 78.9,70.67 79.9,67.76 80.9,66.21 81.9,66.14 82.9,67.65 83.9,70.04 84.9,73.18 85.9,75.16 86.9,76.34 87.9,77.6 88.9,78.69 89.9,79.34 90.9,80.24 91.9,87.6 92.9,90.65 93.9,93.57 94.9,93.93 95.9,92.6 96.9,92.21 97.9,94.92 98.9,97.73 99.9,100.25 100.9,99.84 101.9,99.5 102.9,99.76 103.9,102.81 104.9,106.42 105.9,109.95 106.9,113.99 107.9,118.23 108.9,121.78 109.9,124.15 110.9,124.84 111.9,124.79 112.9,125 113.9,125.86 114.9,126.71 115.9,127.38 116.9,126.2 117.9,124.05 118.9,121.69 119.9,119.11 120.9,116.31 121.9,113.44 122.9,110.71 123.9,108.44 124.9,108.23 125.9,111.65 126.9,115.29 127.9,117.95 128.9,115.79 129.9,113.19 130.9,110.57 131.9,108.31 132.9,109.47 133.9,112.37 134.9,115.34 135.9,118.17 136.9,120.71 137.9,121.23 138.9,121.35 139.9,121.43 140.9,121 141.9,118.07 142.9,114.83 143.9,111.45 144.9,108.43 145.9,109.98 146.9,112.55 147.9,115.25 148.9,117.8 149.9,117.79 150.9,117.62 151.9,117.55 152.9,118.66 153.9,119.8 154.9,120.77 155.9,119.54 156.9,117.03 157.9,115.86 158.9,120.39 159.9,125.36 160.9,130.14 161.9,134.63 162.9,138.61 163.9,141.24 164.9,143.57 165.9,144.88 166.9,143.26 167.9,141.46 168.9,139.81 169.9,138.6 170.9,139.46 171.9,143.99 172.9,148.76 173.9,153.25 174.9,157.39 175.9,161.25 176.9,164.53 177.9,162.37 178.9,159.89 179.9,157.69 180.9,156.37 181.9,161.4 182.9,166.93 183.9,172.2 184.9,177.13 185.9,181.81 186.9,185.74 187.9,185.72 188.9,185.63 189.9,185.87 190.9,189.55 191.9,195.54 192.9,200.91 193.9,202.68 194.9,204.08 195.9,205.38 196.9,206.61 197.9,207.66 198.9,206.72 199.9,203.9 200.9,201.96 201.9,202.19 202.9,202.62 203.9,203.12 204.9,203.7 205.9,204.3 206.9,204.87 207.9,205.17 208.9,205.19 209.9,205.19 210.9,205.19 210.9,214.63 209.9,214.63 208.9,214.63 207.9,214.61 206.9,214.31 205.9,213.73 204.9,213.12 203.9,212.55 202.9,212.07 201.9,211.69 200.9,211.49 199.9,213.46 198.9,216.3 197.9,217.23 196.9,216.18 195.9,214.94 194.9,213.61 193.9,212.16 192.9,210.31 191.9,204.85 190.9,198.72 189.9,194.85 188.9,194.38 187.9,194.24 186.9,194.1 185.9,190.09 184.9,185.33 183.9,180.28 182.9,174.8 181.9,168.99 180.9,163.69 179.9,164.79 178.9,166.87 177.9,169.31 176.9,171.45 175.9,168.15 174.9,164.24 173.9,159.99 172.9,155.29 171.9,150.25 170.9,145.44 169.9,144.35 168.9,145.42 167.9,147.01 166.9,148.8 165.9,150.41 164.9,149.1 163.9,146.75 162.9,144.04 161.9,139.93 160.9,135.24 159.9,130.2 158.9,124.9 157.9,120.05 156.9,120.96 155.9,123.31 154.9,124.47 153.9,123.48 152.9,122.31 151.9,121.17 150.9,121.18 149.9,121.29 148.9,121.26 147.9,118.69 146.9,115.99 145.9,113.44 144.9,111.93 143.9,115.04 142.9,118.49 141.9,121.79 140.9,124.73 139.9,125.16 138.9,125.09 137.9,124.96 136.9,124.43 135.9,121.87 134.9,118.99 133.9,115.93 132.9,112.93 131.9,111.71 130.9,113.97 129.9,116.61 128.9,119.23 127.9,121.4 126.9,118.73 125.9,115.07 124.9,111.61 123.9,111.81 122.9,114.16 121.9,117.05 120.9,120.12 119.9,123.09 118.9,125.8 117.9,128.23 116.9,130.4 115.9,131.59 114.9,130.91 113.9,130.05 112.9,129.17 111.9,128.91 110.9,128.91 109.9,128.16 108.9,125.75 107.9,122.13 106.9,117.76 105.9,113.48 104.9,109.64 103.9,105.67 102.9,102.28 101.9,101.74 100.9,101.9 99.9,102.22 98.9,99.66 97.9,96.8 96.9,93.98 95.9,94.23 94.9,95.41 93.9,94.95 92.9,91.97 91.9,88.85 90.9,79.93 89.9,78.94 88.9,78.11 87.9,76.75 86.9,75.19 85.9,73.75 84.9,71.6 83.9,68.36 82.9,65.94 81.9,64.42 80.9,64.46 79.9,65.95 78.9,68.73 77.9,69.36 76.9,65.85 75.9,61.13 74.9,56.56 73.9,54.71 72.9,53.28 71.9,52.78 70.9,53.57 69.9,54.54 68.9,55.81 67.9,57.53 66.9,59.63 65.9,62.34 64.9,64.33 63.9,64.57 62.9,65.09 61.9,68.22 60.9,72.14 59.9,89.26 58.9,90.15 57.9,88.83 56.9,87.36 55.9,86.75 54.9,87.89 53.9,86.79 52.9,74.28 51.9,71.49 50.9,69.17 49.9,68.39 48.9,69.74 47.9,71.4 46.9,73.85 45.9,86.13 44.9,88.11 43.9,89.23 42.9,86.72 41.9,78.14 40.9,77.2 39.9,78.02 38.9,79.07 37.9,88.33 36.9,90.68 35.9,92.94 34.9,93.51 33.9,93.55 32.9,93.55 31.9,93.55 30.9,93.55"/>
<polygon fill="#f5f5f5" points="30.9,93.55 31.9,93.55 32.9,93.55 33.9,93.55 34.9,93.51 35.9,92.94 36.9,90.68 37.9,88.33 38.9,79.07 39.9,78.02 40.9,77.2 41.9,78.14 42.9,86.72 43.9,89.23 44.9,88.11 45.9,86.13 46.9,73.85 47.9,71.4 48.9,69.74 49.9,68.39 50.9,69.17 51.9,71.49 52.9,74.28 53.9,86.79 54.9,87.89 55.9,86.75 56.9,87.36 57.9,88.83 58.9,90.15 59.9,89.26 60.9,72.14 61.9,68.22 62.9,65.09 63.9,64.57 64.9,64.33 65.9,62.34 66.9,59.63 67.9,57.53 68.9,55.81 69.9,54.54 70.9,53.57 71.9,52.78 72.9,53.28 73.9,54.71 74.9,56.56 75.9,61.13 76.9,65.85 77.9,69.36 78.9,68.73 79.9,65.95 80.9,64.46 81.9,64.42 82.9,65.94 83.9,68.36 84.9,71.6 85.9,73.75 86.9,75.19 87.9,76.75 88.9,78.11 89.9,78.94 90.9,79.93 91.9,88.85 92.9,91.97 93.9,94.95 94.9,95.41 95.9,94.23 96.9,93.98 97.9,96.8 98.9,99.66 99.9,102.22 100.9,101.9 101.9,101.74 102.9,102.28 103.9,105.67 104.9,109.64 105.9,113.48 106.9,117.76 107.9,122.13 108.9,125.75 109.9,128.16 110.9,128.91 111.9,128.91 112.9,129.17 113.9,130.05 114.9,130.91 115.9,131.59 116.9,130.4 117.9,128.23 118.9,125.8 119.9,123.09 120.9,120.12 121.9,117.05 122.9,114.16 123.9,111.81 124.9,111.61 125.9,115.07 126.9,118.73 127.9,121.4 128.9,119.23 129.9,116.61 130.9,113.97 131.9,111.71 132.9,112.93 133.9,115.93 134.9,118.99 135.9,121.87 136.9,124.43 137.9,124.96 138.9,125.09 139.9,125.16 140.9,124.73 141.9,121.79 142.9,118.49 143.9,115.04 144.9,111.93 145.9,113.44 146.9,115.99 147.9,118.69 148.9,121.26 149.9,121.29 150.9,121.18 151.9,121.17 152.9,122.31 153.9,123.48 154.9,124.47 155.9,123.31 156.9,120.96 157.9,120.05 158.9,124.9 159.9,130.2 160.9,135.24 161.9,139.93 162.9,144.04 163.9,146.75 164.9,149.1 165.9,150.41 166.9,148.8 167.9,147.01 168.9,145.42 169.9,144.35 170.9,145.44 171.9,150.25 172.9,155.29 173.9,159.99 174.9,164.24 175.9,168.15 176.9,171.45 177.9,169.31 178.9,166.87 179.9,164.79 180.9,163.69 181.9,168.99 182.9,174.8 183.9,180.28 184.9,185.33 185.9,190.09 186.9,194.1 187.9,194.24 188.9,194.38 189.9,194.85 190.9,198.72 191.9,204.85 192.9,210.31 193.9,212.16 194.9,213.61 195.9,214.94 196.9,216.18 197.9,217.23 198.9,216.3 199.9,213.46 200.9,211.49 201.9,211.69 202.9,212.07 203.9,212.55 204.9,213.12 205.9,213.73 206.9,214.31 207.9,214.61 208.9,214.63 209.9,214.63 210.9,214.63 210.9,224.07 209.9,224.07 208.9,224.07 207.9,224.04 206.9,223.74 205.9,223.16 204.9,222.55 203.9,221.98 202.9,221.52 201.9,221.18 200.9,221.02 199.9,223.02 198.9,225.87 197.9,226.81 196.9,225.75 195.9,224.5 194.9,223.14 193.9,221.64 192.9,219.72 191.9,214.16 190.9,207.89 189.9,203.83 188.9,203.12 187.9,202.76 186.9,202.46 185.9,198.36 184.9,193.53 183.9,188.36 182.9,182.67 181.9,176.58 180.9,171 179.9,171.89 178.9,173.85 177.9,176.24 176.9,178.36 175.9,175.05 174.9,171.09 173.9,166.73 172.9,161.82 171.9,156.51 170.9,151.41 169.9,150.09 168.9,151.04 167.9,152.57 166.9,154.34 165.9,155.95 164.9,154.63 163.9,152.25 162.9,149.48 161.9,145.24 160.9,140.35 159.9,135.03 158.9,129.41 157.9,124.24 156.9,124.88 155.9,127.08 154.9,128.17 153.9,127.15 152.9,125.96 151.9,124.79 150.9,124.74 149.9,124.79 148.9,124.72 147.9,122.13 146.9,119.42 145.9,116.89 144.9,115.44 143.9,118.64 142.9,122.16 141.9,125.5 140.9,128.46 139.9,128.9 138.9,128.82 137.9,128.7 136.9,128.16 135.9,125.57 134.9,122.64 133.9,119.48 132.9,116.39 131.9,115.11 130.9,117.36 129.9,120.04 128.9,122.67 127.9,124.86 126.9,122.17 125.9,118.48 124.9,114.99 123.9,115.19 122.9,117.62 121.9,120.67 120.9,123.93 119.9,127.08 118.9,129.91 117.9,132.4 116.9,134.6 115.9,135.8 114.9,135.12 113.9,134.24 112.9,133.33 111.9,133.02 110.9,132.97 109.9,132.18 108.9,129.72 107.9,126.03 106.9,121.52 105.9,117.02 104.9,112.85 103.9,108.52 102.9,104.79 101.9,103.99 100.9,103.97 99.9,104.2 98.9,101.59 97.9,98.68 96.9,95.76 95.9,95.87 94.9,96.9 93.9,96.33 92.9,93.29 91.9,90.1 90.9,79.62 89.9,78.55 88.9,77.53 87.9,75.89 86.9,74.04 85.9,72.35 84.9,70.02 83.9,66.69 82.9,64.23 81.9,62.69 80.9,62.72 79.9,64.14 78.9,66.79 77.9,67.22 76.9,63.51 75.9,58.63 74.9,53.97 73.9,52.07 72.9,50.63 71.9,50.13 70.9,50.93 69.9,51.9 68.9,53.22 67.9,55.02 66.9,57.22 65.9,60.08 64.9,62.24 63.9,62.66 62.9,63.33 61.9,66.57 60.9,70.6 59.9,90.17 58.9,91.07 57.9,89.74 56.9,88.24 55.9,87.57 54.9,88.63 53.9,87.46 52.9,73 51.9,70.13 50.9,67.79 49.9,67 48.9,68.36 47.9,70.06 46.9,72.58 45.9,86.9 44.9,88.92 43.9,90.06 42.9,87.55 41.9,77.57 40.9,76.65 39.9,77.48 38.9,78.56 37.9,89.47 36.9,91.88 35.9,94.16 34.9,94.74 33.9,94.78 32.9,94.78 31.9,94.78 30.9,94.78"/>
</g></g>
<g clip-path="url(#ca0)" fill="none" stroke-linejoin="round">
<line x1="34.9" y1="81.9" x2="207.4" y2="81.9" stroke="#333" stroke-width="1.6"/>
<polyline stroke="#4daf4a" stroke-width="1.4" points="30.9,84.87 31.9,84.87 32.9,84.87 33.9,84.87 34.9,84.85 35.9,84.56 36.9,83.4 37.9,82.28 38.9,81.74 39.9,81.25 40.9,80.85 41.9,81.41 42.9,82.27 43.9,83.63 44.9,83.05 45.9,82.09 46.9,80.99 47.9,79.87 48.9,79.06 49.9,78.36 50.9,78.76 51.9,79.94 52.9,81.25 53.9,82.73 54.9,83.12 55.9,82.3 56.9,82.47 57.9,83.2 58.9,83.88 59.9,83.43 60.9,80.78 61.9,78.96 62.9,77.58 63.9,77.72 64.9,78.07 65.9,77.45 66.9,76.37 67.9,75.54 68.9,74.81 69.9,74.23 70.9,73.75 71.9,73.34 72.9,73.59 73.9,74.33 74.9,75.21 75.9,77.42 76.9,79.55 77.9,80.9 78.9,80.03 79.9,78.17 80.9,77.2 81.9,77.11 82.9,77.9 83.9,79.11 84.9,80.6 85.9,81.29 86.9,81.38 87.9,81.43 88.9,81.42 89.9,81.37 90.9,81.67 91.9,82.28 92.9,83.77 93.9,85.21 94.9,85.18 95.9,84.15 96.9,83.62 97.9,84.88 98.9,86.28 99.9,87.54 100.9,87.12 101.9,86.56 102.9,86.12 103.9,87.02 104.9,88.19 105.9,89.4 106.9,91.09 107.9,93.09 108.9,94.86 109.9,96.04 110.9,96.31 111.9,96.16 112.9,96.18 113.9,96.58 114.9,97.02 115.9,97.37 116.9,96.75 117.9,95.64 118.9,94.51 119.9,93.38 120.9,92.25 121.9,91.12 122.9,90 123.9,88.94 124.9,88.82 125.9,90.59 126.9,92.5 127.9,93.91 128.9,92.76 129.9,91.4 130.9,90.04 131.9,88.82 132.9,89.32 133.9,90.67 134.9,92.08 135.9,93.49 136.9,94.81 137.9,95.08 138.9,95.14 139.9,95.18 140.9,94.96 141.9,93.41 142.9,91.76 143.9,90.1 144.9,88.64 145.9,89.6 146.9,91.03 147.9,92.48 148.9,93.82 149.9,93.72 150.9,93.5 151.9,93.34 152.9,93.86 153.9,94.43 154.9,94.9 155.9,94.09 156.9,92.39 157.9,91.19 158.9,92.94 159.9,94.93 160.9,96.92 161.9,98.91 162.9,100.78 163.9,102.06 164.9,103.26 165.9,103.95 166.9,103.07 167.9,102.06 168.9,101.05 169.9,100.11 170.9,100.08 171.9,101.91 172.9,103.9 173.9,105.88 174.9,107.86 175.9,109.84 176.9,111.58 177.9,110.38 178.9,108.93 179.9,107.49 180.9,106.32 181.9,108.43 182.9,110.82 183.9,113.22 184.9,115.61 185.9,117.98 186.9,119.91 187.9,119.56 188.9,119.02 189.9,118.64 190.9,120.22 191.9,123.16 192.9,125.85 193.9,126.65 194.9,127.29 195.9,127.93 196.9,128.57 197.9,129.12 198.9,128.63 199.9,127.13 200.9,126.14 201.9,126.36 202.9,126.67 203.9,126.99 204.9,127.3 205.9,127.62 206.9,127.92 207.9,128.08 208.9,128.09 209.9,128.09 210.9,128.09"/>
<polyline stroke="#e41a1c" stroke-width="1.4" points="30.9,85.31 31.9,85.31 32.9,85.31 33.9,85.31 34.9,85.29 35.9,84.95 36.9,83.62 37.9,82.33 38.9,81.72 39.9,81.16 40.9,80.69 41.9,81.34 42.9,82.33 43.9,83.88 44.9,83.22 45.9,82.11 46.9,80.85 47.9,79.57 48.9,78.64 49.9,77.84 50.9,78.29 51.9,79.65 52.9,81.15 53.9,82.86 54.9,83.3 55.9,82.36 56.9,82.56 57.9,83.39 58.9,84.17 59.9,83.66 60.9,80.62 61.9,78.52 62.9,76.94 63.9,77.1 64.9,77.5 65.9,76.79 66.9,75.55 67.9,74.6 68.9,73.76 69.9,73.09 70.9,72.55 71.9,72.07 72.9,72.36 73.9,73.21 74.9,74.22 75.9,76.76 76.9,79.21 77.9,80.75 78.9,79.76 79.9,77.62 80.9,76.5 81.9,76.4 82.9,77.3 83.9,78.69 84.9,80.41 85.9,81.2 86.9,81.31 87.9,81.36 88.9,81.34 89.9,81.29 90.9,81.64 91.9,82.34 92.9,84.05 93.9,85.7 94.9,85.67 95.9,84.48 96.9,83.88 97.9,85.32 98.9,86.93 99.9,88.37 100.9,87.89 101.9,87.25 102.9,86.74 103.9,87.78 104.9,89.12 105.9,90.52 106.9,92.45 107.9,94.75 108.9,96.78 109.9,98.13 110.9,98.45 111.9,98.28 112.9,98.3 113.9,98.76 114.9,99.25 115.9,99.66 116.9,98.95 117.9,97.68 118.9,96.37 119.9,95.08 120.9,93.78 121.9,92.49 122.9,91.2 123.9,89.98 124.9,89.84 125.9,91.88 126.9,94.07 127.9,95.69 128.9,94.37 129.9,92.81 130.9,91.25 131.9,89.85 132.9,90.42 133.9,91.97 134.9,93.59 135.9,95.21 136.9,96.73 137.9,97.03 138.9,97.1 139.9,97.15 140.9,96.89 141.9,95.12 142.9,93.22 143.9,91.31 144.9,89.64 145.9,90.75 146.9,92.39 147.9,94.05 148.9,95.58 149.9,95.47 150.9,95.22 151.9,95.04 152.9,95.63 153.9,96.29 154.9,96.83 155.9,95.9 156.9,93.95 157.9,92.57 158.9,94.57 159.9,96.86 160.9,99.14 161.9,101.42 162.9,103.57 163.9,105.05 164.9,106.43 165.9,107.22 166.9,106.21 167.9,105.05 168.9,103.89 169.9,102.81 170.9,102.78 171.9,104.88 172.9,107.16 173.9,109.43 174.9,111.71 175.9,113.98 176.9,115.98 177.9,114.6 178.9,112.94 179.9,111.28 180.9,109.93 181.9,112.36 182.9,115.11 183.9,117.86 184.9,120.6 185.9,123.33 186.9,125.54 187.9,125.14 188.9,124.52 189.9,124.08 190.9,125.89 191.9,129.28 192.9,132.36 193.9,133.28 194.9,134.01 195.9,134.75 196.9,135.48 197.9,136.12 198.9,135.55 199.9,133.83 200.9,132.69 201.9,132.94 202.9,133.3 203.9,133.67 204.9,134.03 205.9,134.39 206.9,134.74 207.9,134.92 208.9,134.94 209.9,134.94 210.9,134.94"/>
<polyline stroke="#984ea3" stroke-width="1.4" points="30.9,82.78 31.9,82.78 32.9,82.78 33.9,82.78 34.9,82.77 35.9,82.69 36.9,82.34 37.9,82.01 38.9,81.85 39.9,81.71 40.9,81.59 41.9,81.75 42.9,82.01 43.9,82.41 44.9,82.24 45.9,81.96 46.9,81.63 47.9,81.3 48.9,81.06 49.9,80.85 50.9,80.97 51.9,81.32 52.9,81.71 53.9,82.15 54.9,82.26 55.9,82.02 56.9,82.07 57.9,82.28 58.9,82.49 59.9,82.35 60.9,81.57 61.9,81.03 62.9,80.62 63.9,80.66 64.9,80.76 65.9,80.58 66.9,80.26 67.9,80.02 68.9,79.8 69.9,79.63 70.9,79.49 71.9,79.36 72.9,79.44 73.9,79.66 74.9,79.92 75.9,80.57 76.9,81.2 77.9,81.6 78.9,81.35 79.9,80.79 80.9,80.51 81.9,80.48 82.9,80.71 83.9,81.07 84.9,81.52 85.9,81.72 86.9,81.75 87.9,81.76 88.9,81.76 89.9,81.74 90.9,81.83 91.9,82.01 92.9,82.45 93.9,82.88 94.9,82.87 95.9,82.57 96.9,82.41 97.9,82.78 98.9,83.2 99.9,83.57 100.9,83.45 101.9,83.28 102.9,83.15 103.9,83.42 104.9,83.76 105.9,84.12 106.9,84.62 107.9,85.21 108.9,85.74 109.9,86.09 110.9,86.17 111.9,86.13 112.9,86.13 113.9,86.25 114.9,86.38 115.9,86.48 116.9,86.3 117.9,85.97 118.9,85.64 119.9,85.3 120.9,84.97 121.9,84.63 122.9,84.3 123.9,83.98 124.9,83.95 125.9,84.48 126.9,85.04 127.9,85.46 128.9,85.12 129.9,84.72 130.9,84.31 131.9,83.95 132.9,84.1 133.9,84.5 134.9,84.92 135.9,85.33 136.9,85.73 137.9,85.8 138.9,85.82 139.9,85.83 140.9,85.77 141.9,85.31 142.9,84.82 143.9,84.33 144.9,83.9 145.9,84.18 146.9,84.61 147.9,85.04 148.9,85.43 149.9,85.4 150.9,85.34 151.9,85.29 152.9,85.44 153.9,85.61 154.9,85.75 155.9,85.51 156.9,85.01 157.9,84.65 158.9,85.17 159.9,85.76 160.9,86.35 161.9,86.94 162.9,87.49 163.9,87.87 164.9,88.23 165.9,88.43 166.9,88.17 167.9,87.87 168.9,87.57 169.9,87.29 170.9,87.29 171.9,87.83 172.9,88.42 173.9,89 174.9,89.59 175.9,90.18 176.9,90.69 177.9,90.34 178.9,89.91 179.9,89.48 180.9,89.13 181.9,89.76 182.9,90.47 183.9,91.18 184.9,91.89 185.9,92.59 186.9,93.16 187.9,93.06 188.9,92.9 189.9,92.79 190.9,93.25 191.9,94.13 192.9,94.92 193.9,95.16 194.9,95.35 195.9,95.54 196.9,95.73 197.9,95.89 198.9,95.75 199.9,95.3 200.9,95.01 201.9,95.07 202.9,95.17 203.9,95.26 204.9,95.35 205.9,95.45 206.9,95.54 207.9,95.58 208.9,95.59 209.9,95.59 210.9,95.59"/>
<polyline stroke="#ff7f00" stroke-width="1.4" points="30.9,83.17 31.9,83.17 32.9,83.17 33.9,83.16 34.9,83.16 35.9,83.03 36.9,82.54 37.9,82.06 38.9,81.83 39.9,81.62 40.9,81.45 41.9,81.69 42.9,82.06 43.9,82.64 44.9,82.39 45.9,81.98 46.9,81.51 47.9,81.04 48.9,80.69 49.9,80.39 50.9,80.56 51.9,81.06 52.9,81.62 53.9,82.25 54.9,82.42 55.9,82.07 56.9,82.14 57.9,82.45 58.9,82.74 59.9,82.55 60.9,81.42 61.9,80.65 62.9,80.06 63.9,80.12 64.9,80.27 65.9,80.01 66.9,79.55 67.9,79.19 68.9,78.88 69.9,78.63 70.9,78.43 71.9,78.25 72.9,78.36 73.9,78.67 74.9,79.05 75.9,79.99 76.9,80.9 77.9,81.47 78.9,81.1 79.9,80.31 80.9,79.9 81.9,79.86 82.9,80.2 83.9,80.71 84.9,81.35 85.9,81.64 86.9,81.68 87.9,81.7 88.9,81.69 89.9,81.68 90.9,81.8 91.9,82.06 92.9,82.7 93.9,83.31 94.9,83.3 95.9,82.86 96.9,82.63 97.9,83.17 98.9,83.76 99.9,84.3 100.9,84.12 101.9,83.89 102.9,83.7 103.9,84.08 104.9,84.58 105.9,85.1 106.9,85.81 107.9,86.67 108.9,87.42 109.9,87.92 110.9,88.04 111.9,87.98 112.9,87.98 113.9,88.15 114.9,88.34 115.9,88.49 116.9,88.22 117.9,87.75 118.9,87.27 119.9,86.79 120.9,86.31 121.9,85.83 122.9,85.35 123.9,84.9 124.9,84.85 125.9,85.6 126.9,86.41 127.9,87.02 128.9,86.53 129.9,85.95 130.9,85.37 131.9,84.85 132.9,85.06 133.9,85.64 134.9,86.24 135.9,86.84 136.9,87.4 137.9,87.51 138.9,87.54 139.9,87.56 140.9,87.46 141.9,86.8 142.9,86.1 143.9,85.39 144.9,84.77 145.9,85.18 146.9,85.79 147.9,86.41 148.9,86.98 149.9,86.93 150.9,86.84 151.9,86.77 152.9,86.99 153.9,87.24 154.9,87.44 155.9,87.09 156.9,86.37 157.9,85.86 158.9,86.6 159.9,87.45 160.9,88.3 161.9,89.14 162.9,89.94 163.9,90.49 164.9,91 165.9,91.29 166.9,90.92 167.9,90.49 168.9,90.06 169.9,89.66 170.9,89.64 171.9,90.42 172.9,91.27 173.9,92.11 174.9,92.96 175.9,93.8 176.9,94.54 177.9,94.03 178.9,93.41 179.9,92.8 180.9,92.3 181.9,93.2 182.9,94.22 183.9,95.24 184.9,96.26 185.9,97.27 186.9,98.09 187.9,97.94 188.9,97.71 189.9,97.55 190.9,98.22 191.9,99.48 192.9,100.62 193.9,100.96 194.9,101.23 195.9,101.5 196.9,101.78 197.9,102.01 198.9,101.8 199.9,101.16 200.9,100.74 201.9,100.84 202.9,100.97 203.9,101.1 204.9,101.24 205.9,101.37 206.9,101.5 207.9,101.57 208.9,101.57 209.9,101.57 210.9,101.57"/>
<polyline stroke="#377eb8" stroke-width="1.4" points="30.9,86.47 31.9,86.47 32.9,86.47 33.9,86.46 34.9,86.44 35.9,85.98 36.9,84.2 37.9,82.48 38.9,81.66 39.9,80.91 40.9,80.28 41.9,81.15 42.9,82.47 43.9,84.56 44.9,83.67 45.9,82.19 46.9,80.49 47.9,78.79 48.9,77.54 49.9,76.46 50.9,77.07 51.9,78.88 52.9,80.9 53.9,83.18 54.9,83.78 55.9,82.51 56.9,82.78 57.9,83.89 58.9,84.94 59.9,84.25 60.9,80.19 61.9,77.38 62.9,75.26 63.9,75.48 64.9,76.01 65.9,75.06 66.9,73.4 67.9,72.12 68.9,71 69.9,70.11 70.9,69.38 71.9,68.74 72.9,69.13 73.9,70.26 74.9,71.62 75.9,75.02 76.9,78.29 77.9,80.37 78.9,79.03 79.9,76.16 80.9,74.67 81.9,74.54 82.9,75.75 83.9,77.6 84.9,79.91 85.9,80.96 86.9,81.1 87.9,81.17 88.9,81.15 89.9,81.09 90.9,81.55 91.9,82.49 92.9,84.77 93.9,86.99 94.9,86.95 95.9,85.36 96.9,84.55 97.9,86.48 98.9,88.63 99.9,90.56 100.9,89.92 101.9,89.07 102.9,88.38 103.9,89.77 104.9,91.57 105.9,93.43 106.9,96.02 107.9,99.1 108.9,101.82 109.9,103.63 110.9,104.05 111.9,103.83 112.9,103.85 113.9,104.47 114.9,105.13 115.9,105.68 116.9,104.72 117.9,103.02 118.9,101.28 119.9,99.54 120.9,97.81 121.9,96.08 122.9,94.34 123.9,92.71 124.9,92.53 125.9,95.26 126.9,98.19 127.9,100.36 128.9,98.6 129.9,96.51 130.9,94.42 131.9,92.54 132.9,93.31 133.9,95.38 134.9,97.55 135.9,99.72 136.9,101.75 137.9,102.16 138.9,102.25 139.9,102.31 140.9,101.97 141.9,99.6 142.9,97.05 143.9,94.5 144.9,92.27 145.9,93.74 146.9,95.94 147.9,98.17 148.9,100.21 149.9,100.07 150.9,99.73 151.9,99.49 152.9,100.28 153.9,101.16 154.9,101.89 155.9,100.64 156.9,98.03 157.9,96.19 158.9,98.87 159.9,101.93 160.9,104.99 161.9,108.04 162.9,110.91 163.9,112.89 164.9,114.73 165.9,115.79 166.9,114.44 167.9,112.89 168.9,111.34 169.9,109.89 170.9,109.85 171.9,112.66 172.9,115.71 173.9,118.76 174.9,121.8 175.9,124.85 176.9,127.52 177.9,125.67 178.9,123.45 179.9,121.23 180.9,119.43 181.9,122.68 182.9,126.36 183.9,130.03 184.9,133.71 185.9,137.36 186.9,140.32 187.9,139.79 188.9,138.96 189.9,138.37 190.9,140.79 191.9,145.32 192.9,149.45 193.9,150.68 194.9,151.66 195.9,152.64 196.9,153.63 197.9,154.48 198.9,153.72 199.9,151.41 200.9,149.9 201.9,150.23 202.9,150.72 203.9,151.2 204.9,151.69 205.9,152.17 206.9,152.64 207.9,152.88 208.9,152.9 209.9,152.9 210.9,152.9"/>
<polyline stroke="#111" stroke-width="1.5" stroke-dasharray="3.8,3.4" points="30.9,82.23 31.9,82.23 32.9,82.23 33.9,82.23 34.9,82.23 35.9,82.2 36.9,82.07 37.9,81.94 38.9,81.88 39.9,81.83 40.9,81.78 41.9,81.85 42.9,81.94 43.9,82.09 44.9,82.03 45.9,81.92 46.9,81.8 47.9,81.67 48.9,81.58 49.9,81.51 50.9,81.55 51.9,81.68 52.9,81.83 53.9,81.99 54.9,82.04 55.9,81.94 56.9,81.96 57.9,82.04 58.9,82.12 59.9,82.07 60.9,81.78 61.9,81.57 62.9,81.42 63.9,81.44 64.9,81.47 65.9,81.41 66.9,81.29 67.9,81.19 68.9,81.11 69.9,81.05 70.9,80.99 71.9,80.95 72.9,80.98 73.9,81.06 74.9,81.16 75.9,81.4 76.9,81.64 77.9,81.79 78.9,81.69 79.9,81.49 80.9,81.38 81.9,81.37 82.9,81.46 83.9,81.59 84.9,81.76 85.9,81.83 86.9,81.84 87.9,81.85 88.9,81.85 89.9,81.84 90.9,81.87 91.9,81.94 92.9,82.11 93.9,82.27 94.9,82.26 95.9,82.15 96.9,82.09 97.9,82.23 98.9,82.39 99.9,82.53 100.9,82.48 101.9,82.42 102.9,82.37 103.9,82.47 104.9,82.6 105.9,82.73 106.9,82.92 107.9,83.14 108.9,83.34 109.9,83.47 110.9,83.5 111.9,83.48 112.9,83.49 113.9,83.53 114.9,83.58 115.9,83.62 116.9,83.55 117.9,83.43 118.9,83.3 119.9,83.18 120.9,83.05 121.9,82.92 122.9,82.8 123.9,82.68 124.9,82.67 125.9,82.87 126.9,83.08 127.9,83.23 128.9,83.11 129.9,82.96 130.9,82.8 131.9,82.67 132.9,82.72 133.9,82.87 134.9,83.03 135.9,83.19 136.9,83.33 137.9,83.36 138.9,83.37 139.9,83.38 140.9,83.35 141.9,83.18 142.9,83 143.9,82.81 144.9,82.65 145.9,82.76 146.9,82.91 147.9,83.08 148.9,83.22 149.9,83.21 150.9,83.19 151.9,83.17 152.9,83.23 153.9,83.29 154.9,83.34 155.9,83.25 156.9,83.07 157.9,82.93 158.9,83.13 159.9,83.35 160.9,83.57 161.9,83.79 162.9,84 163.9,84.14 164.9,84.27 165.9,84.35 166.9,84.25 167.9,84.14 168.9,84.03 169.9,83.92 170.9,83.92 171.9,84.12 172.9,84.34 173.9,84.56 174.9,84.78 175.9,85 176.9,85.2 177.9,85.06 178.9,84.9 179.9,84.74 180.9,84.61 181.9,84.85 182.9,85.11 183.9,85.38 184.9,85.65 185.9,85.91 186.9,86.12 187.9,86.08 188.9,86.02 189.9,85.98 190.9,86.16 191.9,86.48 192.9,86.78 193.9,86.87 194.9,86.94 195.9,87.01 196.9,87.09 197.9,87.15 198.9,87.09 199.9,86.93 200.9,86.82 201.9,86.84 202.9,86.87 203.9,86.91 204.9,86.94 205.9,86.98 206.9,87.01 207.9,87.03 208.9,87.03 209.9,87.03 210.9,87.03"/>
<polyline stroke="#111" stroke-width="1.5" stroke-dasharray="3.8,3.4" points="30.9,87.4 31.9,87.4 32.9,87.4 33.9,87.4 34.9,87.37 35.9,86.82 36.9,84.67 37.9,82.6 38.9,81.61 39.9,80.7 40.9,79.95 41.9,80.99 42.9,82.59 43.9,85.1 44.9,84.04 45.9,82.24 46.9,80.21 47.9,78.15 48.9,76.64 49.9,75.35 50.9,76.08 51.9,78.26 52.9,80.69 53.9,83.44 54.9,84.16 55.9,82.63 56.9,82.96 57.9,84.3 58.9,85.56 59.9,84.73 60.9,79.83 61.9,76.45 62.9,73.91 63.9,74.16 64.9,74.81 65.9,73.66 66.9,71.66 67.9,70.12 68.9,68.77 69.9,67.69 70.9,66.81 71.9,66.05 72.9,66.52 73.9,67.88 74.9,69.51 75.9,73.61 76.9,77.55 77.9,80.05 78.9,78.44 79.9,74.99 80.9,73.19 81.9,73.03 82.9,74.49 83.9,76.73 84.9,79.5 85.9,80.77 86.9,80.94 87.9,81.02 88.9,81 89.9,80.92 90.9,81.48 91.9,82.61 92.9,85.36 93.9,88.03 94.9,87.98 95.9,86.07 96.9,85.09 97.9,87.41 98.9,90.01 99.9,92.34 100.9,91.57 101.9,90.54 102.9,89.71 103.9,91.39 104.9,93.55 105.9,95.8 106.9,98.92 107.9,102.62 108.9,105.89 109.9,108.08 110.9,108.59 111.9,108.32 112.9,108.34 113.9,109.09 114.9,109.89 115.9,110.55 116.9,109.4 117.9,107.35 118.9,105.24 119.9,103.15 120.9,101.07 121.9,98.98 122.9,96.89 123.9,94.93 124.9,94.71 125.9,98 126.9,101.53 127.9,104.14 128.9,102.02 129.9,99.5 130.9,96.98 131.9,94.72 132.9,95.65 133.9,98.15 134.9,100.76 135.9,103.37 136.9,105.81 137.9,106.3 138.9,106.42 139.9,106.49 140.9,106.09 141.9,103.22 142.9,100.15 143.9,97.08 144.9,94.39 145.9,96.17 146.9,98.81 147.9,101.5 148.9,103.97 149.9,103.79 150.9,103.39 151.9,103.09 152.9,104.05 153.9,105.11 154.9,105.98 155.9,104.48 156.9,101.33 157.9,99.11 158.9,102.34 159.9,106.03 160.9,109.71 161.9,113.39 162.9,116.86 163.9,119.23 164.9,121.46 165.9,122.73 166.9,121.1 167.9,119.23 168.9,117.37 169.9,115.62 170.9,115.57 171.9,118.96 172.9,122.63 173.9,126.31 174.9,129.98 175.9,133.65 176.9,136.86 177.9,134.64 178.9,131.96 179.9,129.28 180.9,127.11 181.9,131.03 182.9,135.46 183.9,139.89 184.9,144.32 185.9,148.72 186.9,152.29 187.9,151.65 188.9,150.65 189.9,149.94 190.9,152.86 191.9,158.32 192.9,163.29 193.9,164.77 194.9,165.95 195.9,167.13 196.9,168.32 197.9,169.35 198.9,168.43 199.9,165.65 200.9,163.82 201.9,164.23 202.9,164.81 203.9,165.4 204.9,165.98 205.9,166.57 206.9,167.13 207.9,167.42 208.9,167.44 209.9,167.44 210.9,167.44"/>
</g>
<rect x="34.9" y="15.4" width="172.5" height="164.9" fill="none" stroke="#222" stroke-width="1.1"/>
<line x1="33.3" y1="173.88" x2="34.9" y2="173.88" stroke="#222" stroke-width="0.9"/><line x1="33.3" y1="166.34" x2="34.9" y2="166.34" stroke="#222" stroke-width="0.9"/><line x1="33.3" y1="160.48" x2="34.9" y2="160.48" stroke="#222" stroke-width="0.9"/><line x1="33.3" y1="155.7" x2="34.9" y2="155.7" stroke="#222" stroke-width="0.9"/><line x1="33.3" y1="151.66" x2="34.9" y2="151.66" stroke="#222" stroke-width="0.9"/><line x1="33.3" y1="148.15" x2="34.9" y2="148.15" stroke="#222" stroke-width="0.9"/><line x1="33.3" y1="145.06" x2="34.9" y2="145.06" stroke="#222" stroke-width="0.9"/><line x1="31.9" y1="142.3" x2="34.9" y2="142.3" stroke="#222" stroke-width="0.9"/><line x1="33.3" y1="124.12" x2="34.9" y2="124.12" stroke="#222" stroke-width="0.9"/><line x1="33.3" y1="113.48" x2="34.9" y2="113.48" stroke="#222" stroke-width="0.9"/><line x1="33.3" y1="105.94" x2="34.9" y2="105.94" stroke="#222" stroke-width="0.9"/><line x1="33.3" y1="100.08" x2="34.9" y2="100.08" stroke="#222" stroke-width="0.9"/><line x1="33.3" y1="95.3" x2="34.9" y2="95.3" stroke="#222" stroke-width="0.9"/><line x1="33.3" y1="91.26" x2="34.9" y2="91.26" stroke="#222" stroke-width="0.9"/><line x1="33.3" y1="87.75" x2="34.9" y2="87.75" stroke="#222" stroke-width="0.9"/><line x1="33.3" y1="84.66" x2="34.9" y2="84.66" stroke="#222" stroke-width="0.9"/><line x1="31.9" y1="81.9" x2="34.9" y2="81.9" stroke="#222" stroke-width="0.9"/><line x1="33.3" y1="63.72" x2="34.9" y2="63.72" stroke="#222" stroke-width="0.9"/><line x1="33.3" y1="53.08" x2="34.9" y2="53.08" stroke="#222" stroke-width="0.9"/><line x1="33.3" y1="45.54" x2="34.9" y2="45.54" stroke="#222" stroke-width="0.9"/><line x1="33.3" y1="39.68" x2="34.9" y2="39.68" stroke="#222" stroke-width="0.9"/><line x1="33.3" y1="34.9" x2="34.9" y2="34.9" stroke="#222" stroke-width="0.9"/><line x1="33.3" y1="30.86" x2="34.9" y2="30.86" stroke="#222" stroke-width="0.9"/><line x1="33.3" y1="27.35" x2="34.9" y2="27.35" stroke="#222" stroke-width="0.9"/><line x1="33.3" y1="24.26" x2="34.9" y2="24.26" stroke="#222" stroke-width="0.9"/><line x1="31.9" y1="21.5" x2="34.9" y2="21.5" stroke="#222" stroke-width="0.9"/><text transform="translate(28.5,20.9) rotate(-90)" text-anchor="middle" font-size="7.3" fill="#222" textLength="7.6" lengthAdjust="spacingAndGlyphs">10</text><text transform="translate(28.5,81.9) rotate(-90)" text-anchor="middle" font-size="7.3" fill="#222">1</text><text transform="translate(28.5,142.3) rotate(-90)" text-anchor="middle" font-size="7.3" fill="#222">0.1</text>
<line x1="59.7" y1="180.3" x2="59.7" y2="182.9" stroke="#222" stroke-width="0.9"/>
<text x="59.7" y="193.9" text-anchor="middle" font-size="8" textLength="15.8" lengthAdjust="spacingAndGlyphs" fill="#222">1900</text>
<line x1="85.84" y1="180.3" x2="85.84" y2="182.9" stroke="#222" stroke-width="0.9"/>
<text x="85.84" y="193.9" text-anchor="middle" font-size="8" textLength="15.8" lengthAdjust="spacingAndGlyphs" fill="#222">1920</text>
<line x1="111.98" y1="180.3" x2="111.98" y2="182.9" stroke="#222" stroke-width="0.9"/>
<text x="111.98" y="193.9" text-anchor="middle" font-size="8" textLength="15.8" lengthAdjust="spacingAndGlyphs" fill="#222">1940</text>
<line x1="138.12" y1="180.3" x2="138.12" y2="182.9" stroke="#222" stroke-width="0.9"/>
<text x="138.12" y="193.9" text-anchor="middle" font-size="8" textLength="15.8" lengthAdjust="spacingAndGlyphs" fill="#222">1960</text>
<line x1="164.26" y1="180.3" x2="164.26" y2="182.9" stroke="#222" stroke-width="0.9"/>
<text x="164.26" y="193.9" text-anchor="middle" font-size="8" textLength="15.8" lengthAdjust="spacingAndGlyphs" fill="#222">1980</text>
<line x1="190.4" y1="180.3" x2="190.4" y2="182.9" stroke="#222" stroke-width="0.9"/>
<text x="190.4" y="193.9" text-anchor="middle" font-size="8" textLength="15.8" lengthAdjust="spacingAndGlyphs" fill="#222">2000</text>
<text x="121.15" y="7.8" text-anchor="middle" font-size="9.8" fill="#111">NEU</text>
<g clip-path="url(#ca1)"><g filter="url(#bl)">
<polygon fill="#e8e8e8" points="227.15,80.24 228.15,80.11 229.15,79.96 230.15,79.85 231.15,79.78 232.15,79.65 233.15,79.79 234.15,79.99 235.15,82.92 236.15,83.11 237.15,83.19 238.15,83.11 239.15,80.78 240.15,80.66 241.15,80.6 242.15,80.73 243.15,84.58 244.15,85.01 245.15,85.32 246.15,85.44 247.15,85.14 248.15,84.73 249.15,80.68 250.15,80.51 251.15,80.47 252.15,80.46 253.15,80.43 254.15,80.33 255.15,80.23 256.15,80.24 257.15,80.41 258.15,85.67 259.15,86.33 260.15,86.86 261.15,87.14 262.15,87.16 263.15,87.22 264.15,87.6 265.15,87.96 266.15,88.25 267.15,88.34 268.15,88.4 269.15,88.44 270.15,88.46 271.15,88.24 272.15,87.88 273.15,87.4 274.15,86.81 275.15,86.45 276.15,86.27 277.15,86.22 278.15,86.15 279.15,85.88 280.15,85.54 281.15,85.06 282.15,84.54 283.15,83.89 284.15,83.28 285.15,82.91 286.15,82.78 287.15,82.75 288.15,82.61 289.15,79.23 290.15,78.9 291.15,78.91 292.15,78.89 293.15,78.82 294.15,78.61 295.15,78.24 296.15,77.85 297.15,77.48 298.15,77.1 299.15,76.58 300.15,75.77 301.15,74.83 302.15,74.02 303.15,73.37 304.15,72.9 305.15,72.51 306.15,72.27 307.15,72.06 308.15,71.87 309.15,71.72 310.15,71.61 311.15,71.52 312.15,71.46 313.15,71.67 314.15,71.97 315.15,72.38 316.15,72.93 317.15,73.58 318.15,74.24 319.15,74.77 320.15,74.95 321.15,74.72 322.15,74.42 323.15,74.14 324.15,74.12 325.15,74.4 326.15,74.67 327.15,74.86 328.15,74.67 329.15,74.09 330.15,73.51 331.15,73 332.15,72.61 333.15,72.48 334.15,72.4 335.15,72.34 336.15,72.38 337.15,72.64 338.15,72.98 339.15,73.41 340.15,73.89 341.15,74.2 342.15,74.08 343.15,73.81 344.15,73.51 345.15,73.22 346.15,73.01 347.15,72.92 348.15,72.85 349.15,72.8 350.15,72.76 351.15,72.79 352.15,72.89 353.15,72.85 354.15,72.59 355.15,71.79 356.15,70.85 357.15,70.01 358.15,69.35 359.15,68.85 360.15,68.47 361.15,68.34 362.15,68.39 363.15,68.42 364.15,68.37 365.15,68.19 366.15,67.87 367.15,67.36 368.15,66.64 369.15,65.97 370.15,65.48 371.15,65.15 372.15,64.9 373.15,64.7 374.15,64.76 375.15,64.86 376.15,64.82 377.15,64.61 378.15,63.87 379.15,63.13 380.15,62.49 381.15,61.96 382.15,61.51 383.15,61.26 384.15,60.95 385.15,60.56 386.15,60.11 387.15,59.65 388.15,59.18 389.15,58.67 390.15,58.24 391.15,58.04 392.15,57.9 393.15,57.79 394.15,57.7 395.15,57.73 396.15,57.9 397.15,58 398.15,58.01 399.15,58.03 400.15,58.03 401.15,58.02 402.15,58.02 403.15,58.02 404.15,58.02 405.15,58.02 406.15,58.02 407.15,58.02 407.15,64.26 406.15,64.26 405.15,64.26 404.15,64.26 403.15,64.26 402.15,64.26 401.15,64.26 400.15,64.28 399.15,64.29 398.15,64.3 397.15,64.3 396.15,64.21 395.15,64.05 394.15,64.01 393.15,64.1 392.15,64.21 391.15,64.33 390.15,64.49 389.15,64.86 388.15,65.31 387.15,65.67 386.15,66 385.15,66.31 384.15,66.58 383.15,66.79 382.15,66.98 381.15,67.37 380.15,67.83 379.15,68.36 378.15,68.96 377.15,69.53 376.15,69.6 375.15,69.54 374.15,69.41 373.15,69.34 372.15,69.53 371.15,69.76 370.15,70.04 369.15,70.44 368.15,70.98 367.15,71.55 366.15,71.9 365.15,72.07 364.15,72.16 363.15,72.17 362.15,72.12 361.15,72.07 360.15,72.2 359.15,72.55 358.15,72.99 357.15,73.54 356.15,74.19 355.15,74.9 354.15,75.49 353.15,75.58 352.15,75.53 351.15,75.39 350.15,75.36 349.15,75.39 348.15,75.43 347.15,75.49 346.15,75.56 345.15,75.74 344.15,75.99 343.15,76.25 342.15,76.49 341.15,76.62 340.15,76.38 339.15,75.99 338.15,75.63 337.15,75.33 336.15,75.08 335.15,75.04 334.15,75.1 333.15,75.17 332.15,75.28 331.15,75.63 330.15,76.07 329.15,76.57 328.15,77.04 327.15,77.15 326.15,76.93 325.15,76.64 324.15,76.35 323.15,76.37 322.15,76.65 321.15,76.95 320.15,77.2 319.15,77.06 318.15,76.65 317.15,76.14 316.15,75.65 315.15,75.21 314.15,74.87 313.15,74.59 312.15,74.39 311.15,74.45 310.15,74.53 309.15,74.62 308.15,74.74 307.15,74.89 306.15,75.05 305.15,75.22 304.15,75.55 303.15,75.94 302.15,76.47 301.15,77.11 300.15,77.83 299.15,78.38 298.15,78.66 297.15,78.85 296.15,79.11 295.15,79.44 294.15,79.76 293.15,79.91 292.15,79.9 291.15,79.86 290.15,79.83 289.15,80.13 288.15,82.35 287.15,82.48 286.15,82.49 285.15,82.56 284.15,82.77 283.15,83.16 282.15,83.57 281.15,83.93 280.15,84.31 279.15,84.61 278.15,84.86 277.15,84.9 276.15,84.87 275.15,84.93 274.15,85.14 273.15,85.61 272.15,86.01 271.15,86.34 270.15,86.55 269.15,86.53 268.15,86.49 267.15,86.44 266.15,86.36 265.15,86.11 264.15,85.8 263.15,85.5 262.15,85.52 261.15,85.57 260.15,85.34 259.15,84.86 258.15,84.29 257.15,80.92 256.15,80.76 255.15,80.76 254.15,80.85 253.15,80.94 252.15,80.94 251.15,80.93 250.15,80.95 249.15,81.11 248.15,83.72 247.15,84.08 246.15,84.36 245.15,84.25 244.15,83.96 243.15,83.6 242.15,81.13 241.15,81.01 240.15,81.07 239.15,81.19 238.15,82.69 237.15,82.78 236.15,82.71 235.15,82.54 234.15,80.66 233.15,80.48 232.15,80.35 231.15,80.48 230.15,80.52 229.15,80.59 228.15,80.69 227.15,80.77"/>
<polygon fill="#d8d8d8" points="227.15,80.77 228.15,80.69 229.15,80.59 230.15,80.52 231.15,80.48 232.15,80.35 233.15,80.48 234.15,80.66 235.15,82.54 236.15,82.71 237.15,82.78 238.15,82.69 239.15,81.19 240.15,81.07 241.15,81.01 242.15,81.13 243.15,83.6 244.15,83.96 245.15,84.25 246.15,84.36 247.15,84.08 248.15,83.72 249.15,81.11 250.15,80.95 251.15,80.93 252.15,80.94 253.15,80.94 254.15,80.85 255.15,80.76 256.15,80.76 257.15,80.92 258.15,84.29 259.15,84.86 260.15,85.34 261.15,85.57 262.15,85.52 263.15,85.5 264.15,85.8 265.15,86.11 266.15,86.36 267.15,86.44 268.15,86.49 269.15,86.53 270.15,86.55 271.15,86.34 272.15,86.01 273.15,85.61 274.15,85.14 275.15,84.93 276.15,84.87 277.15,84.9 278.15,84.86 279.15,84.61 280.15,84.31 281.15,83.93 282.15,83.57 283.15,83.16 284.15,82.77 285.15,82.56 286.15,82.49 287.15,82.48 288.15,82.35 289.15,80.13 290.15,79.83 291.15,79.86 292.15,79.9 293.15,79.91 294.15,79.76 295.15,79.44 296.15,79.11 297.15,78.85 298.15,78.66 299.15,78.38 300.15,77.83 301.15,77.11 302.15,76.47 303.15,75.94 304.15,75.55 305.15,75.22 306.15,75.05 307.15,74.89 308.15,74.74 309.15,74.62 310.15,74.53 311.15,74.45 312.15,74.39 313.15,74.59 314.15,74.87 315.15,75.21 316.15,75.65 317.15,76.14 318.15,76.65 319.15,77.06 320.15,77.2 321.15,76.95 322.15,76.65 323.15,76.37 324.15,76.35 325.15,76.64 326.15,76.93 327.15,77.15 328.15,77.04 329.15,76.57 330.15,76.07 331.15,75.63 332.15,75.28 333.15,75.17 334.15,75.1 335.15,75.04 336.15,75.08 337.15,75.33 338.15,75.63 339.15,75.99 340.15,76.38 341.15,76.62 342.15,76.49 343.15,76.25 344.15,75.99 345.15,75.74 346.15,75.56 347.15,75.49 348.15,75.43 349.15,75.39 350.15,75.36 351.15,75.39 352.15,75.53 353.15,75.58 354.15,75.49 355.15,74.9 356.15,74.19 357.15,73.54 358.15,72.99 359.15,72.55 360.15,72.2 361.15,72.07 362.15,72.12 363.15,72.17 364.15,72.16 365.15,72.07 366.15,71.9 367.15,71.55 368.15,70.98 369.15,70.44 370.15,70.04 371.15,69.76 372.15,69.53 373.15,69.34 374.15,69.41 375.15,69.54 376.15,69.6 377.15,69.53 378.15,68.96 379.15,68.36 380.15,67.83 381.15,67.37 382.15,66.98 383.15,66.79 384.15,66.58 385.15,66.31 386.15,66 387.15,65.67 388.15,65.31 389.15,64.86 390.15,64.49 391.15,64.33 392.15,64.21 393.15,64.1 394.15,64.01 395.15,64.05 396.15,64.21 397.15,64.3 398.15,64.3 399.15,64.29 400.15,64.28 401.15,64.26 402.15,64.26 403.15,64.26 404.15,64.26 405.15,64.26 406.15,64.26 407.15,64.26 407.15,69.77 406.15,69.77 405.15,69.77 404.15,69.77 403.15,69.77 402.15,69.77 401.15,69.77 400.15,69.8 399.15,69.82 398.15,69.85 397.15,69.86 396.15,69.78 395.15,69.62 394.15,69.59 393.15,69.67 392.15,69.77 391.15,69.88 390.15,70.01 389.15,70.33 388.15,70.71 387.15,70.98 386.15,71.2 385.15,71.39 384.15,71.54 383.15,71.67 382.15,71.8 381.15,72.14 380.15,72.54 379.15,72.98 378.15,73.44 377.15,73.87 376.15,73.82 375.15,73.68 374.15,73.52 373.15,73.44 372.15,73.62 371.15,73.83 370.15,74.06 369.15,74.39 368.15,74.82 367.15,75.25 366.15,75.45 365.15,75.51 364.15,75.51 363.15,75.47 362.15,75.42 361.15,75.36 360.15,75.48 359.15,75.82 358.15,76.21 357.15,76.64 356.15,77.13 355.15,77.64 354.15,78.04 353.15,78 352.15,77.86 351.15,77.69 350.15,77.64 349.15,77.67 348.15,77.71 347.15,77.76 346.15,77.82 345.15,77.97 344.15,78.18 343.15,78.4 342.15,78.61 341.15,78.76 340.15,78.58 339.15,78.27 338.15,77.97 337.15,77.7 336.15,77.46 335.15,77.43 334.15,77.48 333.15,77.55 332.15,77.64 331.15,77.95 330.15,78.34 329.15,78.75 328.15,79.14 327.15,79.18 326.15,78.92 325.15,78.61 324.15,78.33 323.15,78.34 322.15,78.62 321.15,78.92 320.15,79.17 319.15,79.09 318.15,78.77 317.15,78.41 316.15,78.04 315.15,77.71 314.15,77.42 313.15,77.16 312.15,76.98 311.15,77.03 310.15,77.1 309.15,77.18 308.15,77.28 307.15,77.38 306.15,77.49 305.15,77.62 304.15,77.88 303.15,78.2 302.15,78.63 301.15,79.12 300.15,79.64 299.15,79.98 298.15,80.04 297.15,80.06 296.15,80.22 295.15,80.5 294.15,80.77 293.15,80.86 292.15,80.8 291.15,80.71 290.15,80.64 289.15,80.92 288.15,82.13 287.15,82.24 286.15,82.23 285.15,82.24 284.15,82.32 283.15,82.51 282.15,82.73 281.15,82.93 280.15,83.23 279.15,83.5 278.15,83.73 277.15,83.74 276.15,83.64 275.15,83.58 274.15,83.66 273.15,84.02 272.15,84.36 271.15,84.66 270.15,84.86 269.15,84.84 268.15,84.81 267.15,84.77 266.15,84.71 265.15,84.48 264.15,84.21 263.15,83.97 262.15,84.07 261.15,84.18 260.15,84 259.15,83.56 258.15,83.08 257.15,81.37 256.15,81.22 255.15,81.22 254.15,81.3 253.15,81.39 252.15,81.37 251.15,81.34 250.15,81.33 249.15,81.48 248.15,82.82 247.15,83.14 246.15,83.4 245.15,83.3 244.15,83.03 243.15,82.73 242.15,81.48 241.15,81.37 240.15,81.43 239.15,81.55 238.15,82.33 237.15,82.43 236.15,82.36 235.15,82.21 234.15,81.24 233.15,81.09 232.15,80.97 231.15,81.09 230.15,81.12 229.15,81.15 228.15,81.19 227.15,81.23"/>
<polygon fill="#c8c8c8" points="227.15,81.23 228.15,81.19 229.15,81.15 230.15,81.12 231.15,81.09 232.15,80.97 233.15,81.09 234.15,81.24 235.15,82.21 236.15,82.36 237.15,82.43 238.15,82.33 239.15,81.55 240.15,81.43 241.15,81.37 242.15,81.48 243.15,82.73 244.15,83.03 245.15,83.3 246.15,83.4 247.15,83.14 248.15,82.82 249.15,81.48 250.15,81.33 251.15,81.34 252.15,81.37 253.15,81.39 254.15,81.3 255.15,81.22 256.15,81.22 257.15,81.37 258.15,83.08 259.15,83.56 260.15,84 261.15,84.18 262.15,84.07 263.15,83.97 264.15,84.21 265.15,84.48 266.15,84.71 267.15,84.77 268.15,84.81 269.15,84.84 270.15,84.86 271.15,84.66 272.15,84.36 273.15,84.02 274.15,83.66 275.15,83.58 276.15,83.64 277.15,83.74 278.15,83.73 279.15,83.5 280.15,83.23 281.15,82.93 282.15,82.73 283.15,82.51 284.15,82.32 285.15,82.24 286.15,82.23 287.15,82.24 288.15,82.13 289.15,80.92 290.15,80.64 291.15,80.71 292.15,80.8 293.15,80.86 294.15,80.77 295.15,80.5 296.15,80.22 297.15,80.06 298.15,80.04 299.15,79.98 300.15,79.64 301.15,79.12 302.15,78.63 303.15,78.2 304.15,77.88 305.15,77.62 306.15,77.49 307.15,77.38 308.15,77.28 309.15,77.18 310.15,77.1 311.15,77.03 312.15,76.98 313.15,77.16 314.15,77.42 315.15,77.71 316.15,78.04 317.15,78.41 318.15,78.77 319.15,79.09 320.15,79.17 321.15,78.92 322.15,78.62 323.15,78.34 324.15,78.33 325.15,78.61 326.15,78.92 327.15,79.18 328.15,79.14 329.15,78.75 330.15,78.34 331.15,77.95 332.15,77.64 333.15,77.55 334.15,77.48 335.15,77.43 336.15,77.46 337.15,77.7 338.15,77.97 339.15,78.27 340.15,78.58 341.15,78.76 342.15,78.61 343.15,78.4 344.15,78.18 345.15,77.97 346.15,77.82 347.15,77.76 348.15,77.71 349.15,77.67 350.15,77.64 351.15,77.69 352.15,77.86 353.15,78 354.15,78.04 355.15,77.64 356.15,77.13 357.15,76.64 358.15,76.21 359.15,75.82 360.15,75.48 361.15,75.36 362.15,75.42 363.15,75.47 364.15,75.51 365.15,75.51 366.15,75.45 367.15,75.25 368.15,74.82 369.15,74.39 370.15,74.06 371.15,73.83 372.15,73.62 373.15,73.44 374.15,73.52 375.15,73.68 376.15,73.82 377.15,73.87 378.15,73.44 379.15,72.98 380.15,72.54 381.15,72.14 382.15,71.8 383.15,71.67 384.15,71.54 385.15,71.39 386.15,71.2 387.15,70.98 388.15,70.71 389.15,70.33 390.15,70.01 391.15,69.88 392.15,69.77 393.15,69.67 394.15,69.59 395.15,69.62 396.15,69.78 397.15,69.86 398.15,69.85 399.15,69.82 400.15,69.8 401.15,69.77 402.15,69.77 403.15,69.77 404.15,69.77 405.15,69.77 406.15,69.77 407.15,69.77 407.15,74.77 406.15,74.77 405.15,74.77 404.15,74.77 403.15,74.77 402.15,74.77 401.15,74.77 400.15,74.8 399.15,74.84 398.15,74.87 397.15,74.9 396.15,74.83 395.15,74.67 394.15,74.64 393.15,74.73 392.15,74.82 391.15,74.91 390.15,75.01 389.15,75.29 388.15,75.61 387.15,75.8 386.15,75.91 385.15,75.99 384.15,76.04 383.15,76.1 382.15,76.17 381.15,76.46 380.15,76.81 379.15,77.16 378.15,77.51 377.15,77.8 376.15,77.64 375.15,77.43 374.15,77.24 373.15,77.15 372.15,77.32 371.15,77.52 370.15,77.71 369.15,77.97 368.15,78.29 367.15,78.6 366.15,78.68 365.15,78.62 364.15,78.55 363.15,78.47 362.15,78.4 361.15,78.34 360.15,78.46 359.15,78.78 358.15,79.12 357.15,79.46 356.15,79.8 355.15,80.13 354.15,80.36 353.15,80.18 352.15,79.97 351.15,79.77 350.15,79.72 349.15,79.75 348.15,79.78 347.15,79.82 346.15,79.86 345.15,79.99 344.15,80.17 343.15,80.35 342.15,80.54 341.15,80.7 340.15,80.58 339.15,80.34 338.15,80.09 337.15,79.85 336.15,79.62 335.15,79.59 334.15,79.64 333.15,79.7 332.15,79.78 331.15,80.06 330.15,80.39 329.15,80.72 328.15,81.03 327.15,81.02 326.15,80.72 325.15,80.41 324.15,80.11 323.15,80.13 322.15,80.4 321.15,80.7 320.15,80.97 319.15,80.93 318.15,80.7 317.15,80.46 316.15,80.22 315.15,79.98 314.15,79.74 313.15,79.5 312.15,79.32 311.15,79.37 310.15,79.44 309.15,79.5 308.15,79.57 307.15,79.64 306.15,79.71 305.15,79.79 304.15,80 303.15,80.25 302.15,80.58 301.15,80.94 300.15,81.29 299.15,81.42 298.15,81.29 297.15,81.16 296.15,81.23 295.15,81.46 294.15,81.69 293.15,81.73 292.15,81.61 291.15,81.47 290.15,81.39 289.15,81.65 288.15,81.92 287.15,82.03 286.15,82 285.15,81.96 284.15,81.92 283.15,81.92 282.15,81.96 281.15,82.03 280.15,82.25 279.15,82.49 278.15,82.7 277.15,82.68 276.15,82.52 275.15,82.36 274.15,82.32 273.15,82.58 272.15,82.86 271.15,83.14 270.15,83.33 269.15,83.32 268.15,83.28 267.15,83.25 266.15,83.2 265.15,83 264.15,82.77 263.15,82.59 262.15,82.76 261.15,82.92 260.15,82.78 259.15,82.38 258.15,81.98 257.15,81.78 256.15,81.64 255.15,81.64 254.15,81.72 253.15,81.8 252.15,81.76 251.15,81.71 250.15,81.69 249.15,81.81 248.15,82.01 247.15,82.28 246.15,82.54 245.15,82.44 244.15,82.19 243.15,81.95 242.15,81.8 241.15,81.7 240.15,81.75 239.15,81.87 238.15,81.99 237.15,82.1 236.15,82.04 235.15,81.91 234.15,81.78 233.15,81.64 232.15,81.53 231.15,81.64 230.15,81.65 229.15,81.65 228.15,81.65 227.15,81.65"/>
<polygon fill="#bababa" points="227.15,81.65 228.15,81.65 229.15,81.65 230.15,81.65 231.15,81.64 232.15,81.53 233.15,81.64 234.15,81.78 235.15,81.91 236.15,82.04 237.15,82.1 238.15,81.99 239.15,81.87 240.15,81.75 241.15,81.7 242.15,81.8 243.15,81.95 244.15,82.19 245.15,82.44 246.15,82.54 247.15,82.28 248.15,82.01 249.15,81.81 250.15,81.69 251.15,81.71 252.15,81.76 253.15,81.8 254.15,81.72 255.15,81.64 256.15,81.64 257.15,81.78 258.15,81.98 259.15,82.38 260.15,82.78 261.15,82.92 262.15,82.76 263.15,82.59 264.15,82.77 265.15,83 266.15,83.2 267.15,83.25 268.15,83.28 269.15,83.32 270.15,83.33 271.15,83.14 272.15,82.86 273.15,82.58 274.15,82.32 275.15,82.36 276.15,82.52 277.15,82.68 278.15,82.7 279.15,82.49 280.15,82.25 281.15,82.03 282.15,81.96 283.15,81.92 284.15,81.92 285.15,81.96 286.15,82 287.15,82.03 288.15,81.92 289.15,81.65 290.15,81.39 291.15,81.47 292.15,81.61 293.15,81.73 294.15,81.69 295.15,81.46 296.15,81.23 297.15,81.16 298.15,81.29 299.15,81.42 300.15,81.29 301.15,80.94 302.15,80.58 303.15,80.25 304.15,80 305.15,79.79 306.15,79.71 307.15,79.64 308.15,79.57 309.15,79.5 310.15,79.44 311.15,79.37 312.15,79.32 313.15,79.5 314.15,79.74 315.15,79.98 316.15,80.22 317.15,80.46 318.15,80.7 319.15,80.93 320.15,80.97 321.15,80.7 322.15,80.4 323.15,80.13 324.15,80.11 325.15,80.41 326.15,80.72 327.15,81.02 328.15,81.03 329.15,80.72 330.15,80.39 331.15,80.06 332.15,79.78 333.15,79.7 334.15,79.64 335.15,79.59 336.15,79.62 337.15,79.85 338.15,80.09 339.15,80.34 340.15,80.58 341.15,80.7 342.15,80.54 343.15,80.35 344.15,80.17 345.15,79.99 346.15,79.86 347.15,79.82 348.15,79.78 349.15,79.75 350.15,79.72 351.15,79.77 352.15,79.97 353.15,80.18 354.15,80.36 355.15,80.13 356.15,79.8 357.15,79.46 358.15,79.12 359.15,78.78 360.15,78.46 361.15,78.34 362.15,78.4 363.15,78.47 364.15,78.55 365.15,78.62 366.15,78.68 367.15,78.6 368.15,78.29 369.15,77.97 370.15,77.71 371.15,77.52 372.15,77.32 373.15,77.15 374.15,77.24 375.15,77.43 376.15,77.64 377.15,77.8 378.15,77.51 379.15,77.16 380.15,76.81 381.15,76.46 382.15,76.17 383.15,76.1 384.15,76.04 385.15,75.99 386.15,75.91 387.15,75.8 388.15,75.61 389.15,75.29 390.15,75.01 391.15,74.91 392.15,74.82 393.15,74.73 394.15,74.64 395.15,74.67 396.15,74.83 397.15,74.9 398.15,74.87 399.15,74.84 400.15,74.8 401.15,74.77 402.15,74.77 403.15,74.77 404.15,74.77 405.15,74.77 406.15,74.77 407.15,74.77 407.15,125.4 406.15,125.4 405.15,125.4 404.15,125.4 403.15,125.4 402.15,125.4 401.15,125.39 400.15,125.2 399.15,124.97 398.15,124.74 397.15,124.56 396.15,125.02 395.15,125.96 394.15,126.14 393.15,125.64 392.15,125.09 391.15,124.54 390.15,123.89 389.15,122.18 388.15,120.26 387.15,119.09 386.15,118.4 385.15,117.94 384.15,117.61 383.15,117.28 382.15,116.84 381.15,115.06 380.15,112.93 379.15,110.78 378.15,108.65 377.15,106.89 376.15,107.9 375.15,109.14 374.15,110.33 373.15,110.87 372.15,109.82 371.15,108.64 370.15,107.42 369.15,105.87 368.15,103.9 367.15,102.01 366.15,101.54 365.15,101.92 364.15,102.35 363.15,102.79 362.15,103.22 361.15,103.58 360.15,102.87 359.15,100.91 358.15,98.84 357.15,96.78 356.15,94.72 355.15,92.69 354.15,91.3 353.15,92.38 352.15,93.66 351.15,94.88 350.15,95.22 349.15,95.04 348.15,94.82 347.15,94.6 346.15,94.33 345.15,93.55 344.15,92.45 343.15,91.33 342.15,90.2 341.15,89.22 340.15,89.97 339.15,91.43 338.15,92.93 337.15,94.42 336.15,95.82 335.15,96 334.15,95.67 333.15,95.31 332.15,94.85 331.15,93.14 330.15,91.11 329.15,89.07 328.15,87.18 327.15,87.29 326.15,89.08 325.15,91.01 324.15,92.79 323.15,92.69 322.15,91.02 321.15,89.22 320.15,87.58 319.15,87.84 318.15,89.22 317.15,90.69 316.15,92.15 315.15,93.62 314.15,95.09 313.15,96.53 312.15,97.62 311.15,97.33 310.15,96.92 309.15,96.51 308.15,96.09 307.15,95.68 306.15,95.27 305.15,94.79 304.15,93.49 303.15,91.94 302.15,89.93 301.15,87.73 300.15,85.62 299.15,84.83 298.15,85.6 297.15,86.4 296.15,86 295.15,84.58 294.15,83.17 293.15,82.93 292.15,83.68 291.15,84.5 290.15,85.03 289.15,83.45 288.15,81.77 287.15,81.11 286.15,81.3 285.15,81.55 284.15,81.79 283.15,81.76 282.15,81.56 281.15,81.11 280.15,79.76 279.15,78.33 278.15,77.02 277.15,77.13 276.15,78.1 275.15,79.08 274.15,79.32 273.15,77.74 272.15,76.02 271.15,74.33 270.15,73.16 269.15,73.26 268.15,73.47 267.15,73.68 266.15,73.97 265.15,75.21 264.15,76.58 263.15,77.67 262.15,76.68 261.15,75.67 260.15,76.53 259.15,78.96 258.15,81.42 257.15,82.65 256.15,83.51 255.15,83.52 254.15,83.02 253.15,82.54 252.15,82.72 251.15,83.07 250.15,83.2 249.15,82.42 248.15,81.25 247.15,79.56 246.15,78.01 245.15,78.62 244.15,80.12 243.15,81.62 242.15,82.5 241.15,83.14 240.15,82.81 239.15,82.09 238.15,81.34 237.15,80.67 236.15,81.04 235.15,81.83 234.15,82.64 233.15,83.46 232.15,84.15 231.15,83.46 230.15,83.4 229.15,83.4 228.15,83.4 227.15,83.4"/>
<polygon fill="#c2c2c2" points="227.15,83.4 228.15,83.4 229.15,83.4 230.15,83.4 231.15,83.46 232.15,84.15 233.15,83.46 234.15,82.64 235.15,81.83 236.15,81.04 237.15,80.67 238.15,81.34 239.15,82.09 240.15,82.81 241.15,83.14 242.15,82.5 243.15,81.62 244.15,80.12 245.15,78.62 246.15,78.01 247.15,79.56 248.15,81.25 249.15,82.42 250.15,83.2 251.15,83.07 252.15,82.72 253.15,82.54 254.15,83.02 255.15,83.52 256.15,83.51 257.15,82.65 258.15,81.42 259.15,78.96 260.15,76.53 261.15,75.67 262.15,76.68 263.15,77.67 264.15,76.58 265.15,75.21 266.15,73.97 267.15,73.68 268.15,73.47 269.15,73.26 270.15,73.16 271.15,74.33 272.15,76.02 273.15,77.74 274.15,79.32 275.15,79.08 276.15,78.1 277.15,77.13 278.15,77.02 279.15,78.33 280.15,79.76 281.15,81.11 282.15,81.56 283.15,81.76 284.15,81.79 285.15,81.55 286.15,81.3 287.15,81.11 288.15,81.77 289.15,83.45 290.15,85.03 291.15,84.5 292.15,83.68 293.15,82.93 294.15,83.17 295.15,84.58 296.15,86 297.15,86.4 298.15,85.6 299.15,84.83 300.15,85.62 301.15,87.73 302.15,89.93 303.15,91.94 304.15,93.49 305.15,94.79 306.15,95.27 307.15,95.68 308.15,96.09 309.15,96.51 310.15,96.92 311.15,97.33 312.15,97.62 313.15,96.53 314.15,95.09 315.15,93.62 316.15,92.15 317.15,90.69 318.15,89.22 319.15,87.84 320.15,87.58 321.15,89.22 322.15,91.02 323.15,92.69 324.15,92.79 325.15,91.01 326.15,89.08 327.15,87.29 328.15,87.18 329.15,89.07 330.15,91.11 331.15,93.14 332.15,94.85 333.15,95.31 334.15,95.67 335.15,96 336.15,95.82 337.15,94.42 338.15,92.93 339.15,91.43 340.15,89.97 341.15,89.22 342.15,90.2 343.15,91.33 344.15,92.45 345.15,93.55 346.15,94.33 347.15,94.6 348.15,94.82 349.15,95.04 350.15,95.22 351.15,94.88 352.15,93.66 353.15,92.38 354.15,91.3 355.15,92.69 356.15,94.72 357.15,96.78 358.15,98.84 359.15,100.91 360.15,102.87 361.15,103.58 362.15,103.22 363.15,102.79 364.15,102.35 365.15,101.92 366.15,101.54 367.15,102.01 368.15,103.9 369.15,105.87 370.15,107.42 371.15,108.64 372.15,109.82 373.15,110.87 374.15,110.33 375.15,109.14 376.15,107.9 377.15,106.89 378.15,108.65 379.15,110.78 380.15,112.93 381.15,115.06 382.15,116.84 383.15,117.28 384.15,117.61 385.15,117.94 386.15,118.4 387.15,119.09 388.15,120.26 389.15,122.18 390.15,123.89 391.15,124.54 392.15,125.09 393.15,125.64 394.15,126.14 395.15,125.96 396.15,125.02 397.15,124.56 398.15,124.74 399.15,124.97 400.15,125.2 401.15,125.39 402.15,125.4 403.15,125.4 404.15,125.4 405.15,125.4 406.15,125.4 407.15,125.4 407.15,132.59 406.15,132.59 405.15,132.59 404.15,132.59 403.15,132.59 402.15,132.59 401.15,132.57 400.15,132.4 399.15,132.18 398.15,131.97 397.15,131.8 396.15,132.28 395.15,133.23 394.15,133.41 393.15,132.9 392.15,132.34 391.15,131.77 390.15,131.09 389.15,129.32 388.15,127.32 387.15,126.05 386.15,125.22 385.15,124.61 384.15,124.14 383.15,123.71 382.15,123.2 381.15,121.35 380.15,119.15 379.15,116.89 378.15,114.6 377.15,112.67 376.15,113.52 375.15,114.66 374.15,115.81 373.15,116.34 372.15,115.28 371.15,114.07 370.15,112.81 369.15,111.15 368.15,109.05 367.15,107 366.15,106.35 365.15,106.57 364.15,106.9 363.15,107.28 362.15,107.7 361.15,108.05 360.15,107.34 359.15,105.35 358.15,103.22 357.15,101.02 356.15,98.75 355.15,96.47 354.15,94.84 353.15,95.74 352.15,96.92 351.15,98.09 350.15,98.42 349.15,98.23 348.15,98.01 347.15,97.78 346.15,97.49 345.15,96.67 344.15,95.53 343.15,94.35 342.15,93.19 341.15,92.23 340.15,93.06 339.15,94.62 338.15,96.19 337.15,97.73 336.15,99.14 335.15,99.32 334.15,98.99 333.15,98.62 332.15,98.14 331.15,96.39 330.15,94.28 329.15,92.13 328.15,90.13 327.15,90.15 326.15,91.9 325.15,93.81 324.15,95.58 323.15,95.49 322.15,93.81 321.15,92.01 320.15,90.38 319.15,90.7 318.15,92.21 317.15,93.86 316.15,95.5 315.15,97.09 314.15,98.63 313.15,100.1 312.15,101.2 311.15,100.9 310.15,100.49 309.15,100.06 308.15,99.61 307.15,99.15 306.15,98.67 305.15,98.13 304.15,96.76 303.15,95.11 302.15,92.96 301.15,90.57 300.15,88.21 299.15,87.13 298.15,87.62 297.15,88.2 296.15,87.66 295.15,86.16 294.15,84.69 293.15,84.37 292.15,85.04 291.15,85.79 290.15,86.28 289.15,84.66 288.15,81.42 287.15,80.74 286.15,80.9 285.15,81.07 284.15,81.1 283.15,80.77 282.15,80.27 281.15,79.61 280.15,78.14 279.15,76.66 278.15,75.33 277.15,75.4 276.15,76.27 275.15,77.1 274.15,77.17 273.15,75.45 272.15,73.64 271.15,71.92 270.15,70.73 269.15,70.84 268.15,71.05 267.15,71.27 266.15,71.58 265.15,72.86 264.15,74.29 263.15,75.46 262.15,74.57 261.15,73.64 260.15,74.55 259.15,77.05 258.15,79.62 257.15,83.35 256.15,84.23 255.15,84.23 254.15,83.72 253.15,83.23 252.15,83.39 251.15,83.7 250.15,83.8 249.15,82.99 248.15,79.89 247.15,78.14 246.15,76.57 245.15,77.19 244.15,78.72 243.15,80.3 242.15,83.05 241.15,83.7 240.15,83.37 239.15,82.64 238.15,80.77 237.15,80.12 236.15,80.5 235.15,81.31 234.15,83.55 233.15,84.4 232.15,85.11 231.15,84.4 230.15,84.31 229.15,84.26 228.15,84.18 227.15,84.12"/>
<polygon fill="#cdcdcd" points="227.15,84.12 228.15,84.18 229.15,84.26 230.15,84.31 231.15,84.4 232.15,85.11 233.15,84.4 234.15,83.55 235.15,81.31 236.15,80.5 237.15,80.12 238.15,80.77 239.15,82.64 240.15,83.37 241.15,83.7 242.15,83.05 243.15,80.3 244.15,78.72 245.15,77.19 246.15,76.57 247.15,78.14 248.15,79.89 249.15,82.99 250.15,83.8 251.15,83.7 252.15,83.39 253.15,83.23 254.15,83.72 255.15,84.23 256.15,84.23 257.15,83.35 258.15,79.62 259.15,77.05 260.15,74.55 261.15,73.64 262.15,74.57 263.15,75.46 264.15,74.29 265.15,72.86 266.15,71.58 267.15,71.27 268.15,71.05 269.15,70.84 270.15,70.73 271.15,71.92 272.15,73.64 273.15,75.45 274.15,77.17 275.15,77.1 276.15,76.27 277.15,75.4 278.15,75.33 279.15,76.66 280.15,78.14 281.15,79.61 282.15,80.27 283.15,80.77 284.15,81.1 285.15,81.07 286.15,80.9 287.15,80.74 288.15,81.42 289.15,84.66 290.15,86.28 291.15,85.79 292.15,85.04 293.15,84.37 294.15,84.69 295.15,86.16 296.15,87.66 297.15,88.2 298.15,87.62 299.15,87.13 300.15,88.21 301.15,90.57 302.15,92.96 303.15,95.11 304.15,96.76 305.15,98.13 306.15,98.67 307.15,99.15 308.15,99.61 309.15,100.06 310.15,100.49 311.15,100.9 312.15,101.2 313.15,100.1 314.15,98.63 315.15,97.09 316.15,95.5 317.15,93.86 318.15,92.21 319.15,90.7 320.15,90.38 321.15,92.01 322.15,93.81 323.15,95.49 324.15,95.58 325.15,93.81 326.15,91.9 327.15,90.15 328.15,90.13 329.15,92.13 330.15,94.28 331.15,96.39 332.15,98.14 333.15,98.62 334.15,98.99 335.15,99.32 336.15,99.14 337.15,97.73 338.15,96.19 339.15,94.62 340.15,93.06 341.15,92.23 342.15,93.19 343.15,94.35 344.15,95.53 345.15,96.67 346.15,97.49 347.15,97.78 348.15,98.01 349.15,98.23 350.15,98.42 351.15,98.09 352.15,96.92 353.15,95.74 354.15,94.84 355.15,96.47 356.15,98.75 357.15,101.02 358.15,103.22 359.15,105.35 360.15,107.34 361.15,108.05 362.15,107.7 363.15,107.28 364.15,106.9 365.15,106.57 366.15,106.35 367.15,107 368.15,109.05 369.15,111.15 370.15,112.81 371.15,114.07 372.15,115.28 373.15,116.34 374.15,115.81 375.15,114.66 376.15,113.52 377.15,112.67 378.15,114.6 379.15,116.89 380.15,119.15 381.15,121.35 382.15,123.2 383.15,123.71 384.15,124.14 385.15,124.61 386.15,125.22 387.15,126.05 388.15,127.32 389.15,129.32 390.15,131.09 391.15,131.77 392.15,132.34 393.15,132.9 394.15,133.41 395.15,133.23 396.15,132.28 397.15,131.8 398.15,131.97 399.15,132.18 400.15,132.4 401.15,132.57 402.15,132.59 403.15,132.59 404.15,132.59 405.15,132.59 406.15,132.59 407.15,132.59 407.15,139.77 406.15,139.77 405.15,139.77 404.15,139.77 403.15,139.77 402.15,139.77 401.15,139.76 400.15,139.59 399.15,139.39 398.15,139.2 397.15,139.05 396.15,139.54 395.15,140.49 394.15,140.67 393.15,140.17 392.15,139.6 391.15,139 390.15,138.28 389.15,136.46 388.15,134.38 387.15,133 386.15,132.03 385.15,131.27 384.15,130.67 383.15,130.14 382.15,129.56 381.15,127.65 380.15,125.38 379.15,123.01 378.15,120.55 377.15,118.44 376.15,119.13 375.15,120.18 374.15,121.29 373.15,121.81 372.15,120.74 371.15,119.51 370.15,118.19 369.15,116.44 368.15,114.2 367.15,111.98 366.15,111.15 365.15,111.21 364.15,111.44 363.15,111.78 362.15,112.18 361.15,112.52 360.15,111.8 359.15,109.79 358.15,107.59 357.15,105.26 356.15,102.79 355.15,100.26 354.15,98.38 353.15,99.1 352.15,100.17 351.15,101.3 350.15,101.62 349.15,101.43 348.15,101.2 347.15,100.95 346.15,100.65 345.15,99.79 344.15,98.6 343.15,97.38 342.15,96.18 341.15,95.24 340.15,96.15 339.15,97.81 338.15,99.46 337.15,101.04 336.15,102.46 335.15,102.64 334.15,102.31 333.15,101.94 332.15,101.43 331.15,99.63 330.15,97.45 329.15,95.2 328.15,93.08 327.15,93.02 326.15,94.72 325.15,96.61 324.15,98.38 323.15,98.28 322.15,96.6 321.15,94.8 320.15,93.19 319.15,93.57 318.15,95.21 317.15,97.03 316.15,98.84 315.15,100.56 314.15,102.17 313.15,103.67 312.15,104.78 311.15,104.48 310.15,104.06 309.15,103.61 308.15,103.12 307.15,102.61 306.15,102.08 305.15,101.47 304.15,100.02 303.15,98.28 302.15,96 301.15,93.42 300.15,90.8 299.15,89.43 298.15,89.64 297.15,89.99 296.15,89.32 295.15,87.75 294.15,86.22 293.15,85.82 292.15,86.39 291.15,87.07 290.15,87.52 289.15,85.88 288.15,81.07 287.15,80.37 286.15,80.5 285.15,80.58 284.15,80.4 283.15,79.77 282.15,78.98 281.15,78.11 280.15,76.52 279.15,75 278.15,73.64 277.15,73.67 276.15,74.45 275.15,75.12 274.15,75.02 273.15,73.16 272.15,71.26 271.15,69.5 270.15,68.31 269.15,68.41 268.15,68.63 267.15,68.86 266.15,69.19 265.15,70.51 264.15,71.99 263.15,73.25 262.15,72.45 261.15,71.61 260.15,72.58 259.15,75.13 258.15,77.82 257.15,84.04 256.15,84.94 255.15,84.94 254.15,84.43 253.15,83.92 252.15,84.06 251.15,84.33 250.15,84.4 249.15,83.57 248.15,78.54 247.15,76.72 246.15,75.13 245.15,75.76 244.15,77.32 243.15,78.99 242.15,83.59 241.15,84.26 240.15,83.92 239.15,83.19 238.15,80.2 237.15,79.56 236.15,79.95 235.15,80.8 234.15,84.45 233.15,85.34 232.15,86.06 231.15,85.34 230.15,85.23 229.15,85.11 228.15,84.96 227.15,84.84"/>
<polygon fill="#d9d9d9" points="227.15,84.84 228.15,84.96 229.15,85.11 230.15,85.23 231.15,85.34 232.15,86.06 233.15,85.34 234.15,84.45 235.15,80.8 236.15,79.95 237.15,79.56 238.15,80.2 239.15,83.19 240.15,83.92 241.15,84.26 242.15,83.59 243.15,78.99 244.15,77.32 245.15,75.76 246.15,75.13 247.15,76.72 248.15,78.54 249.15,83.57 250.15,84.4 251.15,84.33 252.15,84.06 253.15,83.92 254.15,84.43 255.15,84.94 256.15,84.94 257.15,84.04 258.15,77.82 259.15,75.13 260.15,72.58 261.15,71.61 262.15,72.45 263.15,73.25 264.15,71.99 265.15,70.51 266.15,69.19 267.15,68.86 268.15,68.63 269.15,68.41 270.15,68.31 271.15,69.5 272.15,71.26 273.15,73.16 274.15,75.02 275.15,75.12 276.15,74.45 277.15,73.67 278.15,73.64 279.15,75 280.15,76.52 281.15,78.11 282.15,78.98 283.15,79.77 284.15,80.4 285.15,80.58 286.15,80.5 287.15,80.37 288.15,81.07 289.15,85.88 290.15,87.52 291.15,87.07 292.15,86.39 293.15,85.82 294.15,86.22 295.15,87.75 296.15,89.32 297.15,89.99 298.15,89.64 299.15,89.43 300.15,90.8 301.15,93.42 302.15,96 303.15,98.28 304.15,100.02 305.15,101.47 306.15,102.08 307.15,102.61 308.15,103.12 309.15,103.61 310.15,104.06 311.15,104.48 312.15,104.78 313.15,103.67 314.15,102.17 315.15,100.56 316.15,98.84 317.15,97.03 318.15,95.21 319.15,93.57 320.15,93.19 321.15,94.8 322.15,96.6 323.15,98.28 324.15,98.38 325.15,96.61 326.15,94.72 327.15,93.02 328.15,93.08 329.15,95.2 330.15,97.45 331.15,99.63 332.15,101.43 333.15,101.94 334.15,102.31 335.15,102.64 336.15,102.46 337.15,101.04 338.15,99.46 339.15,97.81 340.15,96.15 341.15,95.24 342.15,96.18 343.15,97.38 344.15,98.6 345.15,99.79 346.15,100.65 347.15,100.95 348.15,101.2 349.15,101.43 350.15,101.62 351.15,101.3 352.15,100.17 353.15,99.1 354.15,98.38 355.15,100.26 356.15,102.79 357.15,105.26 358.15,107.59 359.15,109.79 360.15,111.8 361.15,112.52 362.15,112.18 363.15,111.78 364.15,111.44 365.15,111.21 366.15,111.15 367.15,111.98 368.15,114.2 369.15,116.44 370.15,118.19 371.15,119.51 372.15,120.74 373.15,121.81 374.15,121.29 375.15,120.18 376.15,119.13 377.15,118.44 378.15,120.55 379.15,123.01 380.15,125.38 381.15,127.65 382.15,129.56 383.15,130.14 384.15,130.67 385.15,131.27 386.15,132.03 387.15,133 388.15,134.38 389.15,136.46 390.15,138.28 391.15,139 392.15,139.6 393.15,140.17 394.15,140.67 395.15,140.49 396.15,139.54 397.15,139.05 398.15,139.2 399.15,139.39 400.15,139.59 401.15,139.76 402.15,139.77 403.15,139.77 404.15,139.77 405.15,139.77 406.15,139.77 407.15,139.77 407.15,146.96 406.15,146.96 405.15,146.96 404.15,146.96 403.15,146.96 402.15,146.96 401.15,146.95 400.15,146.79 399.15,146.6 398.15,146.43 397.15,146.3 396.15,146.8 395.15,147.75 394.15,147.94 393.15,147.43 392.15,146.85 391.15,146.23 390.15,145.48 389.15,143.6 388.15,141.44 387.15,139.95 386.15,138.84 385.15,137.94 384.15,137.21 383.15,136.58 382.15,135.92 381.15,133.95 380.15,131.6 379.15,129.12 378.15,126.51 377.15,124.21 376.15,124.75 375.15,125.7 374.15,126.77 373.15,127.28 372.15,126.2 371.15,124.95 370.15,123.58 369.15,121.73 368.15,119.35 367.15,116.96 366.15,115.95 365.15,115.86 364.15,115.99 363.15,116.27 362.15,116.66 361.15,117 360.15,116.27 359.15,114.23 358.15,111.97 357.15,109.5 356.15,106.82 355.15,104.04 354.15,101.92 353.15,102.45 352.15,103.43 351.15,104.52 350.15,104.82 349.15,104.63 348.15,104.39 347.15,104.13 346.15,103.81 345.15,102.92 344.15,101.68 343.15,100.4 342.15,99.17 341.15,98.25 340.15,99.24 339.15,101 338.15,102.73 337.15,104.34 336.15,105.78 335.15,105.97 334.15,105.63 333.15,105.25 332.15,104.72 331.15,102.88 330.15,100.62 329.15,98.26 328.15,96.04 327.15,95.88 326.15,97.54 325.15,99.41 324.15,101.17 323.15,101.07 322.15,99.39 321.15,97.59 320.15,95.99 319.15,96.43 318.15,98.2 317.15,100.19 316.15,102.18 315.15,104.03 314.15,105.71 313.15,107.24 312.15,108.36 311.15,108.06 310.15,107.63 309.15,107.15 308.15,106.64 307.15,106.07 306.15,105.48 305.15,104.8 304.15,103.28 303.15,101.45 302.15,99.03 301.15,96.26 300.15,93.4 299.15,91.74 298.15,91.66 297.15,91.79 296.15,90.98 295.15,89.33 294.15,87.74 293.15,87.26 292.15,87.74 291.15,88.35 290.15,88.76 289.15,87.09 288.15,80.72 287.15,80 286.15,80.11 285.15,80.09 284.15,79.71 283.15,78.78 282.15,77.69 281.15,76.61 280.15,74.91 279.15,73.33 278.15,71.95 277.15,71.94 276.15,72.62 275.15,73.15 274.15,72.87 273.15,70.86 272.15,68.88 271.15,67.09 270.15,65.88 269.15,65.99 268.15,66.21 267.15,66.45 266.15,66.8 265.15,68.15 264.15,69.7 263.15,71.04 262.15,70.34 261.15,69.58 260.15,70.61 259.15,73.22 258.15,76.02 257.15,84.74 256.15,85.65 255.15,85.65 254.15,85.14 253.15,84.61 252.15,84.72 251.15,84.97 250.15,85.01 249.15,84.15 248.15,77.18 247.15,75.3 246.15,73.69 245.15,74.33 244.15,75.92 243.15,77.67 242.15,84.14 241.15,84.82 240.15,84.48 239.15,83.75 238.15,79.63 237.15,79.01 236.15,79.41 235.15,80.29 234.15,85.36 233.15,86.28 232.15,87.01 231.15,86.28 230.15,86.14 229.15,85.97 228.15,85.75 227.15,85.55"/>
<polygon fill="#e6e6e6" points="227.15,85.55 228.15,85.75 229.15,85.97 230.15,86.14 231.15,86.28 232.15,87.01 233.15,86.28 234.15,85.36 235.15,80.29 236.15,79.41 237.15,79.01 238.15,79.63 239.15,83.75 240.15,84.48 241.15,84.82 242.15,84.14 243.15,77.67 244.15,75.92 245.15,74.33 246.15,73.69 247.15,75.3 248.15,77.18 249.15,84.15 250.15,85.01 251.15,84.97 252.15,84.72 253.15,84.61 254.15,85.14 255.15,85.65 256.15,85.65 257.15,84.74 258.15,76.02 259.15,73.22 260.15,70.61 261.15,69.58 262.15,70.34 263.15,71.04 264.15,69.7 265.15,68.15 266.15,66.8 267.15,66.45 268.15,66.21 269.15,65.99 270.15,65.88 271.15,67.09 272.15,68.88 273.15,70.86 274.15,72.87 275.15,73.15 276.15,72.62 277.15,71.94 278.15,71.95 279.15,73.33 280.15,74.91 281.15,76.61 282.15,77.69 283.15,78.78 284.15,79.71 285.15,80.09 286.15,80.11 287.15,80 288.15,80.72 289.15,87.09 290.15,88.76 291.15,88.35 292.15,87.74 293.15,87.26 294.15,87.74 295.15,89.33 296.15,90.98 297.15,91.79 298.15,91.66 299.15,91.74 300.15,93.4 301.15,96.26 302.15,99.03 303.15,101.45 304.15,103.28 305.15,104.8 306.15,105.48 307.15,106.07 308.15,106.64 309.15,107.15 310.15,107.63 311.15,108.06 312.15,108.36 313.15,107.24 314.15,105.71 315.15,104.03 316.15,102.18 317.15,100.19 318.15,98.2 319.15,96.43 320.15,95.99 321.15,97.59 322.15,99.39 323.15,101.07 324.15,101.17 325.15,99.41 326.15,97.54 327.15,95.88 328.15,96.04 329.15,98.26 330.15,100.62 331.15,102.88 332.15,104.72 333.15,105.25 334.15,105.63 335.15,105.97 336.15,105.78 337.15,104.34 338.15,102.73 339.15,101 340.15,99.24 341.15,98.25 342.15,99.17 343.15,100.4 344.15,101.68 345.15,102.92 346.15,103.81 347.15,104.13 348.15,104.39 349.15,104.63 350.15,104.82 351.15,104.52 352.15,103.43 353.15,102.45 354.15,101.92 355.15,104.04 356.15,106.82 357.15,109.5 358.15,111.97 359.15,114.23 360.15,116.27 361.15,117 362.15,116.66 363.15,116.27 364.15,115.99 365.15,115.86 366.15,115.95 367.15,116.96 368.15,119.35 369.15,121.73 370.15,123.58 371.15,124.95 372.15,126.2 373.15,127.28 374.15,126.77 375.15,125.7 376.15,124.75 377.15,124.21 378.15,126.51 379.15,129.12 380.15,131.6 381.15,133.95 382.15,135.92 383.15,136.58 384.15,137.21 385.15,137.94 386.15,138.84 387.15,139.95 388.15,141.44 389.15,143.6 390.15,145.48 391.15,146.23 392.15,146.85 393.15,147.43 394.15,147.94 395.15,147.75 396.15,146.8 397.15,146.3 398.15,146.43 399.15,146.6 400.15,146.79 401.15,146.95 402.15,146.96 403.15,146.96 404.15,146.96 405.15,146.96 406.15,146.96 407.15,146.96 407.15,155.94 406.15,155.94 405.15,155.94 404.15,155.94 403.15,155.94 402.15,155.94 401.15,155.94 400.15,155.78 399.15,155.61 398.15,155.47 397.15,155.36 396.15,155.87 395.15,156.83 394.15,157.02 393.15,156.51 392.15,155.92 391.15,155.28 390.15,154.47 389.15,152.53 388.15,150.27 387.15,148.64 386.15,147.36 385.15,146.27 384.15,145.37 383.15,144.62 382.15,143.87 381.15,141.82 380.15,139.38 379.15,136.75 378.15,133.95 377.15,131.42 376.15,131.77 375.15,132.61 374.15,133.63 373.15,134.11 372.15,133.03 371.15,131.75 370.15,130.31 369.15,128.34 368.15,125.78 367.15,123.18 366.15,121.95 365.15,121.67 364.15,121.67 363.15,121.89 362.15,122.25 361.15,122.59 360.15,121.85 359.15,119.78 358.15,117.44 357.15,114.81 356.15,111.86 355.15,108.77 354.15,106.35 353.15,106.65 352.15,107.5 351.15,108.53 350.15,108.82 349.15,108.62 348.15,108.38 347.15,108.11 346.15,107.75 345.15,106.82 344.15,105.53 343.15,104.19 342.15,102.91 341.15,102.01 340.15,103.1 339.15,104.99 338.15,106.82 337.15,108.48 336.15,109.93 335.15,110.12 334.15,109.78 333.15,109.39 332.15,108.83 331.15,106.93 330.15,104.58 329.15,102.09 328.15,99.73 327.15,99.47 326.15,101.06 325.15,102.91 324.15,104.67 323.15,104.56 322.15,102.88 321.15,101.07 320.15,99.49 319.15,100.01 318.15,101.95 317.15,104.16 316.15,106.36 315.15,108.37 314.15,110.14 313.15,111.71 312.15,112.84 311.15,112.53 310.15,112.09 309.15,111.59 308.15,111.03 307.15,110.4 306.15,109.73 305.15,108.97 304.15,107.36 303.15,105.41 302.15,102.83 301.15,99.82 300.15,96.64 299.15,94.61 298.15,94.19 297.15,94.04 296.15,93.05 295.15,91.32 294.15,89.65 293.15,89.06 292.15,89.43 291.15,89.95 290.15,90.32 289.15,88.6 288.15,80.28 287.15,79.54 286.15,79.61 285.15,79.48 284.15,78.84 283.15,77.54 282.15,76.08 281.15,74.73 280.15,72.89 279.15,71.25 278.15,69.83 277.15,69.77 276.15,70.34 275.15,70.68 274.15,70.18 273.15,68 272.15,65.91 271.15,64.07 270.15,62.85 269.15,62.96 268.15,63.19 267.15,63.44 266.15,63.81 265.15,65.21 264.15,66.83 263.15,68.27 262.15,67.7 261.15,67.04 260.15,68.14 259.15,70.83 258.15,73.78 257.15,85.6 256.15,86.54 255.15,86.54 254.15,86.02 253.15,85.48 252.15,85.55 251.15,85.76 250.15,85.76 249.15,84.87 248.15,75.48 247.15,73.53 246.15,71.88 245.15,72.54 244.15,74.17 243.15,76.03 242.15,84.82 241.15,85.52 240.15,85.17 239.15,84.44 238.15,78.92 237.15,78.32 236.15,78.73 235.15,79.64 234.15,86.49 233.15,87.45 232.15,88.2 231.15,87.46 230.15,87.28 229.15,87.04 228.15,86.72 227.15,86.45"/>
<polygon fill="#f2f2f2" points="227.15,86.45 228.15,86.72 229.15,87.04 230.15,87.28 231.15,87.46 232.15,88.2 233.15,87.45 234.15,86.49 235.15,79.64 236.15,78.73 237.15,78.32 238.15,78.92 239.15,84.44 240.15,85.17 241.15,85.52 242.15,84.82 243.15,76.03 244.15,74.17 245.15,72.54 246.15,71.88 247.15,73.53 248.15,75.48 249.15,84.87 250.15,85.76 251.15,85.76 252.15,85.55 253.15,85.48 254.15,86.02 255.15,86.54 256.15,86.54 257.15,85.6 258.15,73.78 259.15,70.83 260.15,68.14 261.15,67.04 262.15,67.7 263.15,68.27 264.15,66.83 265.15,65.21 266.15,63.81 267.15,63.44 268.15,63.19 269.15,62.96 270.15,62.85 271.15,64.07 272.15,65.91 273.15,68 274.15,70.18 275.15,70.68 276.15,70.34 277.15,69.77 278.15,69.83 279.15,71.25 280.15,72.89 281.15,74.73 282.15,76.08 283.15,77.54 284.15,78.84 285.15,79.48 286.15,79.61 287.15,79.54 288.15,80.28 289.15,88.6 290.15,90.32 291.15,89.95 292.15,89.43 293.15,89.06 294.15,89.65 295.15,91.32 296.15,93.05 297.15,94.04 298.15,94.19 299.15,94.61 300.15,96.64 301.15,99.82 302.15,102.83 303.15,105.41 304.15,107.36 305.15,108.97 306.15,109.73 307.15,110.4 308.15,111.03 309.15,111.59 310.15,112.09 311.15,112.53 312.15,112.84 313.15,111.71 314.15,110.14 315.15,108.37 316.15,106.36 317.15,104.16 318.15,101.95 319.15,100.01 320.15,99.49 321.15,101.07 322.15,102.88 323.15,104.56 324.15,104.67 325.15,102.91 326.15,101.06 327.15,99.47 328.15,99.73 329.15,102.09 330.15,104.58 331.15,106.93 332.15,108.83 333.15,109.39 334.15,109.78 335.15,110.12 336.15,109.93 337.15,108.48 338.15,106.82 339.15,104.99 340.15,103.1 341.15,102.01 342.15,102.91 343.15,104.19 344.15,105.53 345.15,106.82 346.15,107.75 347.15,108.11 348.15,108.38 349.15,108.62 350.15,108.82 351.15,108.53 352.15,107.5 353.15,106.65 354.15,106.35 355.15,108.77 356.15,111.86 357.15,114.81 358.15,117.44 359.15,119.78 360.15,121.85 361.15,122.59 362.15,122.25 363.15,121.89 364.15,121.67 365.15,121.67 366.15,121.95 367.15,123.18 368.15,125.78 369.15,128.34 370.15,130.31 371.15,131.75 372.15,133.03 373.15,134.11 374.15,133.63 375.15,132.61 376.15,131.77 377.15,131.42 378.15,133.95 379.15,136.75 380.15,139.38 381.15,141.82 382.15,143.87 383.15,144.62 384.15,145.37 385.15,146.27 386.15,147.36 387.15,148.64 388.15,150.27 389.15,152.53 390.15,154.47 391.15,155.28 392.15,155.92 393.15,156.51 394.15,157.02 395.15,156.83 396.15,155.87 397.15,155.36 398.15,155.47 399.15,155.61 400.15,155.78 401.15,155.94 402.15,155.94 403.15,155.94 404.15,155.94 405.15,155.94 406.15,155.94 407.15,155.94 407.15,164.92 406.15,164.92 405.15,164.92 404.15,164.92 403.15,164.92 402.15,164.92 401.15,164.92 400.15,164.78 399.15,164.63 398.15,164.51 397.15,164.42 396.15,164.95 395.15,165.91 394.15,166.1 393.15,165.58 392.15,164.98 391.15,164.32 390.15,163.47 389.15,161.45 388.15,159.1 387.15,157.33 386.15,155.88 385.15,154.6 384.15,153.54 383.15,152.66 382.15,151.81 381.15,149.69 380.15,147.16 379.15,144.39 378.15,141.39 377.15,138.64 376.15,138.8 375.15,139.51 374.15,140.48 373.15,140.95 372.15,139.85 371.15,138.54 370.15,137.04 369.15,134.95 368.15,132.22 367.15,129.41 366.15,127.96 365.15,127.48 364.15,127.35 363.15,127.51 362.15,127.85 361.15,128.18 360.15,127.43 359.15,125.33 358.15,122.91 357.15,120.11 356.15,116.91 355.15,113.5 354.15,110.78 353.15,110.85 352.15,111.56 351.15,112.55 350.15,112.82 349.15,112.62 348.15,112.37 347.15,112.08 346.15,111.7 345.15,110.73 344.15,109.38 343.15,107.97 342.15,106.65 341.15,105.77 340.15,106.96 339.15,108.97 338.15,110.9 337.15,112.61 336.15,114.08 335.15,114.27 334.15,113.93 333.15,113.52 332.15,112.94 331.15,110.99 330.15,108.55 329.15,105.93 328.15,103.42 327.15,103.05 326.15,104.58 325.15,106.41 324.15,108.16 323.15,108.06 322.15,106.37 321.15,104.56 320.15,103 319.15,103.6 318.15,105.69 317.15,108.12 316.15,110.53 315.15,112.71 314.15,114.57 313.15,116.17 312.15,117.31 311.15,117 310.15,116.55 309.15,116.03 308.15,115.42 307.15,114.73 306.15,113.99 305.15,113.14 304.15,111.44 303.15,109.37 302.15,106.62 301.15,103.37 300.15,99.88 299.15,97.49 298.15,96.71 297.15,96.28 296.15,95.13 295.15,93.3 294.15,91.55 293.15,90.87 292.15,91.12 291.15,91.56 290.15,91.87 289.15,90.12 288.15,79.84 287.15,79.08 286.15,79.11 285.15,78.87 284.15,77.98 283.15,76.3 282.15,74.47 281.15,72.86 280.15,70.87 279.15,69.17 278.15,67.72 277.15,67.61 276.15,68.06 275.15,68.21 274.15,67.49 273.15,65.13 272.15,62.94 271.15,61.06 270.15,59.82 269.15,59.93 268.15,60.16 267.15,60.42 266.15,60.83 265.15,62.27 264.15,63.96 263.15,65.51 262.15,65.06 261.15,64.5 260.15,65.68 259.15,68.44 258.15,71.53 257.15,86.47 256.15,87.43 255.15,87.43 254.15,86.9 253.15,86.35 252.15,86.39 251.15,86.55 250.15,86.51 249.15,85.59 248.15,73.79 247.15,71.75 246.15,70.08 245.15,70.75 244.15,72.42 243.15,74.39 242.15,85.51 241.15,86.22 240.15,85.87 239.15,85.13 238.15,78.21 237.15,77.62 236.15,78.05 235.15,79 234.15,87.62 233.15,88.62 232.15,89.39 231.15,88.63 230.15,88.42 229.15,88.11 228.15,87.7 227.15,87.35"/>
</g></g>
<g clip-path="url(#ca1)" fill="none" stroke-linejoin="round">
<line x1="231.15" y1="81.9" x2="403.65" y2="81.9" stroke="#333" stroke-width="1.6"/>
<polyline stroke="#4daf4a" stroke-width="1.4" points="227.15,81.85 228.15,81.85 229.15,81.85 230.15,81.85 231.15,81.85 232.15,81.82 233.15,81.85 234.15,81.87 235.15,81.9 236.15,81.93 237.15,81.94 238.15,81.92 239.15,81.89 240.15,81.87 241.15,81.86 242.15,81.88 243.15,81.91 244.15,81.96 245.15,82.01 246.15,82.04 247.15,81.98 248.15,81.92 249.15,81.88 250.15,81.85 251.15,81.86 252.15,81.87 253.15,81.88 254.15,81.86 255.15,81.84 256.15,81.84 257.15,81.87 258.15,81.92 259.15,82 260.15,82.09 261.15,82.12 262.15,82.08 263.15,82.05 264.15,82.09 265.15,82.13 266.15,82.18 267.15,82.19 268.15,82.2 269.15,82.2 270.15,82.21 271.15,82.16 272.15,82.11 273.15,82.05 274.15,81.99 275.15,82 276.15,82.03 277.15,82.07 278.15,82.07 279.15,82.02 280.15,81.98 281.15,81.93 282.15,81.91 283.15,81.9 284.15,81.9 285.15,81.91 286.15,81.92 287.15,81.93 288.15,81.9 289.15,81.85 290.15,81.79 291.15,81.81 292.15,81.84 293.15,81.86 294.15,81.86 295.15,81.81 296.15,81.76 297.15,81.74 298.15,81.77 299.15,81.8 300.15,81.77 301.15,81.7 302.15,81.62 303.15,81.55 304.15,81.49 305.15,81.45 306.15,81.43 307.15,81.42 308.15,81.4 309.15,81.39 310.15,81.37 311.15,81.36 312.15,81.35 313.15,81.39 314.15,81.44 315.15,81.49 316.15,81.54 317.15,81.59 318.15,81.64 319.15,81.69 320.15,81.7 321.15,81.64 322.15,81.58 323.15,81.52 324.15,81.52 325.15,81.58 326.15,81.65 327.15,81.71 328.15,81.72 329.15,81.65 330.15,81.58 331.15,81.51 332.15,81.45 333.15,81.43 334.15,81.42 335.15,81.41 336.15,81.41 337.15,81.46 338.15,81.51 339.15,81.57 340.15,81.62 341.15,81.64 342.15,81.61 343.15,81.57 344.15,81.53 345.15,81.49 346.15,81.46 347.15,81.46 348.15,81.45 349.15,81.44 350.15,81.43 351.15,81.45 352.15,81.49 353.15,81.53 354.15,81.57 355.15,81.52 356.15,81.45 357.15,81.38 358.15,81.31 359.15,81.23 360.15,81.17 361.15,81.14 362.15,81.15 363.15,81.17 364.15,81.18 365.15,81.2 366.15,81.21 367.15,81.2 368.15,81.13 369.15,81.06 370.15,81.01 371.15,80.96 372.15,80.92 373.15,80.89 374.15,80.91 375.15,80.95 376.15,80.99 377.15,81.03 378.15,80.96 379.15,80.89 380.15,80.81 381.15,80.74 382.15,80.68 383.15,80.66 384.15,80.65 385.15,80.64 386.15,80.62 387.15,80.6 388.15,80.56 389.15,80.49 390.15,80.43 391.15,80.41 392.15,80.39 393.15,80.37 394.15,80.35 395.15,80.36 396.15,80.39 397.15,80.41 398.15,80.4 399.15,80.39 400.15,80.38 401.15,80.38 402.15,80.38 403.15,80.38 404.15,80.38 405.15,80.38 406.15,80.38 407.15,80.38"/>
<polyline stroke="#ff7f00" stroke-width="1.4" points="227.15,81.85 228.15,81.85 229.15,81.85 230.15,81.85 231.15,81.85 232.15,81.82 233.15,81.85 234.15,81.87 235.15,81.9 236.15,81.93 237.15,81.94 238.15,81.92 239.15,81.89 240.15,81.87 241.15,81.86 242.15,81.88 243.15,81.91 244.15,81.96 245.15,82.01 246.15,82.04 247.15,81.98 248.15,81.92 249.15,81.88 250.15,81.85 251.15,81.86 252.15,81.87 253.15,81.88 254.15,81.86 255.15,81.84 256.15,81.84 257.15,81.87 258.15,81.92 259.15,82 260.15,82.09 261.15,82.12 262.15,82.08 263.15,82.05 264.15,82.09 265.15,82.13 266.15,82.18 267.15,82.19 268.15,82.2 269.15,82.2 270.15,82.21 271.15,82.16 272.15,82.11 273.15,82.05 274.15,81.99 275.15,82 276.15,82.03 277.15,82.07 278.15,82.07 279.15,82.02 280.15,81.98 281.15,81.93 282.15,81.91 283.15,81.9 284.15,81.9 285.15,81.91 286.15,81.92 287.15,81.93 288.15,81.9 289.15,81.85 290.15,81.79 291.15,81.81 292.15,81.84 293.15,81.86 294.15,81.86 295.15,81.81 296.15,81.76 297.15,81.74 298.15,81.77 299.15,81.8 300.15,81.77 301.15,81.7 302.15,81.62 303.15,81.55 304.15,81.49 305.15,81.45 306.15,81.43 307.15,81.42 308.15,81.4 309.15,81.39 310.15,81.37 311.15,81.36 312.15,81.35 313.15,81.39 314.15,81.44 315.15,81.49 316.15,81.54 317.15,81.59 318.15,81.64 319.15,81.69 320.15,81.7 321.15,81.64 322.15,81.58 323.15,81.52 324.15,81.52 325.15,81.58 326.15,81.65 327.15,81.71 328.15,81.72 329.15,81.65 330.15,81.58 331.15,81.51 332.15,81.45 333.15,81.43 334.15,81.42 335.15,81.41 336.15,81.41 337.15,81.46 338.15,81.51 339.15,81.57 340.15,81.62 341.15,81.64 342.15,81.61 343.15,81.57 344.15,81.53 345.15,81.49 346.15,81.46 347.15,81.46 348.15,81.45 349.15,81.44 350.15,81.43 351.15,81.45 352.15,81.49 353.15,81.53 354.15,81.57 355.15,81.52 356.15,81.45 357.15,81.38 358.15,81.31 359.15,81.23 360.15,81.17 361.15,81.14 362.15,81.15 363.15,81.17 364.15,81.18 365.15,81.2 366.15,81.21 367.15,81.2 368.15,81.13 369.15,81.06 370.15,81.01 371.15,80.96 372.15,80.92 373.15,80.89 374.15,80.91 375.15,80.95 376.15,80.99 377.15,81.03 378.15,80.96 379.15,80.89 380.15,80.81 381.15,80.74 382.15,80.68 383.15,80.66 384.15,80.65 385.15,80.64 386.15,80.62 387.15,80.6 388.15,80.56 389.15,80.49 390.15,80.43 391.15,80.41 392.15,80.39 393.15,80.37 394.15,80.35 395.15,80.36 396.15,80.39 397.15,80.41 398.15,80.4 399.15,80.39 400.15,80.38 401.15,80.38 402.15,80.38 403.15,80.38 404.15,80.38 405.15,80.38 406.15,80.38 407.15,80.38"/>
<polyline stroke="#e41a1c" stroke-width="1.4" points="227.15,82.19 228.15,82.19 229.15,82.19 230.15,82.19 231.15,82.2 232.15,82.33 233.15,82.2 234.15,82.04 235.15,81.89 236.15,81.74 237.15,81.67 238.15,81.79 239.15,81.94 240.15,82.07 241.15,82.14 242.15,82.01 243.15,81.85 244.15,81.56 245.15,81.28 246.15,81.16 247.15,81.46 248.15,81.78 249.15,82 250.15,82.15 251.15,82.12 252.15,82.06 253.15,82.02 254.15,82.11 255.15,82.21 256.15,82.21 257.15,82.04 258.15,81.81 259.15,81.34 260.15,80.88 261.15,80.72 262.15,80.91 263.15,81.1 264.15,80.89 265.15,80.63 266.15,80.39 267.15,80.34 268.15,80.3 269.15,80.26 270.15,80.24 271.15,80.46 272.15,80.78 273.15,81.11 274.15,81.41 275.15,81.36 276.15,81.18 277.15,80.99 278.15,80.97 279.15,81.22 280.15,81.49 281.15,81.75 282.15,81.83 283.15,81.87 284.15,81.88 285.15,81.83 286.15,81.79 287.15,81.75 288.15,81.88 289.15,82.19 290.15,82.5 291.15,82.39 292.15,82.24 293.15,82.1 294.15,82.14 295.15,82.41 296.15,82.68 297.15,82.76 298.15,82.6 299.15,82.46 300.15,82.61 301.15,83.01 302.15,83.43 303.15,83.81 304.15,84.1 305.15,84.35 306.15,84.44 307.15,84.52 308.15,84.6 309.15,84.68 310.15,84.75 311.15,84.83 312.15,84.89 313.15,84.68 314.15,84.41 315.15,84.13 316.15,83.85 317.15,83.57 318.15,83.29 319.15,83.03 320.15,82.98 321.15,83.29 322.15,83.63 323.15,83.95 324.15,83.97 325.15,83.63 326.15,83.26 327.15,82.92 328.15,82.9 329.15,83.26 330.15,83.65 331.15,84.04 332.15,84.36 333.15,84.45 334.15,84.52 335.15,84.58 336.15,84.55 337.15,84.28 338.15,83.99 339.15,83.71 340.15,83.43 341.15,83.29 342.15,83.48 343.15,83.69 344.15,83.9 345.15,84.11 346.15,84.26 347.15,84.31 348.15,84.35 349.15,84.4 350.15,84.43 351.15,84.37 352.15,84.14 353.15,83.89 354.15,83.69 355.15,83.95 356.15,84.34 357.15,84.73 358.15,85.12 359.15,85.51 360.15,85.88 361.15,86.02 362.15,85.95 363.15,85.87 364.15,85.79 365.15,85.7 366.15,85.63 367.15,85.72 368.15,86.08 369.15,86.45 370.15,86.75 371.15,86.98 372.15,87.2 373.15,87.4 374.15,87.3 375.15,87.07 376.15,86.84 377.15,86.65 378.15,86.98 379.15,87.39 380.15,87.8 381.15,88.2 382.15,88.54 383.15,88.62 384.15,88.68 385.15,88.75 386.15,88.84 387.15,88.97 388.15,89.19 389.15,89.55 390.15,89.88 391.15,90 392.15,90.11 393.15,90.21 394.15,90.31 395.15,90.27 396.15,90.09 397.15,90 398.15,90.04 399.15,90.08 400.15,90.13 401.15,90.16 402.15,90.16 403.15,90.17 404.15,90.17 405.15,90.17 406.15,90.17 407.15,90.17"/>
<polyline stroke="#984ea3" stroke-width="1.4" points="227.15,82.35 228.15,82.35 229.15,82.35 230.15,82.35 231.15,82.37 232.15,82.58 233.15,82.37 234.15,82.12 235.15,81.88 236.15,81.64 237.15,81.53 238.15,81.73 239.15,81.96 240.15,82.17 241.15,82.27 242.15,82.08 243.15,81.81 244.15,81.36 245.15,80.92 246.15,80.73 247.15,81.2 248.15,81.71 249.15,82.06 250.15,82.29 251.15,82.25 252.15,82.15 253.15,82.09 254.15,82.23 255.15,82.38 256.15,82.38 257.15,82.13 258.15,81.75 259.15,81.02 260.15,80.29 261.15,80.03 262.15,80.33 263.15,80.63 264.15,80.3 265.15,79.89 266.15,79.52 267.15,79.43 268.15,79.37 269.15,79.31 270.15,79.28 271.15,79.63 272.15,80.14 273.15,80.65 274.15,81.13 275.15,81.05 276.15,80.76 277.15,80.47 278.15,80.43 279.15,80.83 280.15,81.26 281.15,81.66 282.15,81.8 283.15,81.86 284.15,81.87 285.15,81.8 286.15,81.72 287.15,81.66 288.15,81.86 289.15,82.37 290.15,82.84 291.15,82.68 292.15,82.44 293.15,82.21 294.15,82.28 295.15,82.7 296.15,83.13 297.15,83.25 298.15,83.01 299.15,82.78 300.15,83.02 301.15,83.65 302.15,84.31 303.15,84.91 304.15,85.38 305.15,85.77 306.15,85.91 307.15,86.04 308.15,86.16 309.15,86.28 310.15,86.4 311.15,86.53 312.15,86.62 313.15,86.29 314.15,85.86 315.15,85.42 316.15,84.98 317.15,84.54 318.15,84.1 319.15,83.68 320.15,83.6 321.15,84.1 322.15,84.64 323.15,85.14 324.15,85.17 325.15,84.63 326.15,84.06 327.15,83.52 328.15,83.48 329.15,84.05 330.15,84.66 331.15,85.27 332.15,85.78 333.15,85.92 334.15,86.03 335.15,86.13 336.15,86.08 337.15,85.66 338.15,85.21 339.15,84.76 340.15,84.32 341.15,84.1 342.15,84.39 343.15,84.73 344.15,85.06 345.15,85.39 346.15,85.63 347.15,85.71 348.15,85.78 349.15,85.84 350.15,85.9 351.15,85.79 352.15,85.43 353.15,85.04 354.15,84.72 355.15,85.14 356.15,85.75 357.15,86.36 358.15,86.98 359.15,87.6 360.15,88.19 361.15,88.4 362.15,88.3 363.15,88.17 364.15,88.04 365.15,87.91 366.15,87.79 367.15,87.93 368.15,88.5 369.15,89.09 370.15,89.56 371.15,89.92 372.15,90.28 373.15,90.59 374.15,90.43 375.15,90.07 376.15,89.7 377.15,89.4 378.15,89.93 379.15,90.57 380.15,91.21 381.15,91.85 382.15,92.38 383.15,92.51 384.15,92.61 385.15,92.71 386.15,92.85 387.15,93.06 388.15,93.41 389.15,93.99 390.15,94.5 391.15,94.69 392.15,94.86 393.15,95.02 394.15,95.17 395.15,95.12 396.15,94.84 397.15,94.7 398.15,94.75 399.15,94.82 400.15,94.89 401.15,94.95 402.15,94.95 403.15,94.95 404.15,94.95 405.15,94.95 406.15,94.95 407.15,94.95"/>
<polyline stroke="#377eb8" stroke-width="1.4" points="227.15,82.98 228.15,82.98 229.15,82.98 230.15,82.98 231.15,83.03 232.15,83.52 233.15,83.02 234.15,82.44 235.15,81.85 236.15,81.28 237.15,81.02 238.15,81.5 239.15,82.03 240.15,82.56 241.15,82.79 242.15,82.33 243.15,81.7 244.15,80.62 245.15,79.54 246.15,79.1 247.15,80.22 248.15,81.43 249.15,82.27 250.15,82.84 251.15,82.74 252.15,82.49 253.15,82.36 254.15,82.7 255.15,83.06 256.15,83.06 257.15,82.44 258.15,81.55 259.15,79.78 260.15,78.03 261.15,77.41 262.15,78.14 263.15,78.85 264.15,78.07 265.15,77.09 266.15,76.19 267.15,75.98 268.15,75.83 269.15,75.68 270.15,75.61 271.15,76.45 272.15,77.67 273.15,78.91 274.15,80.04 275.15,79.87 276.15,79.16 277.15,78.47 278.15,78.38 279.15,79.33 280.15,80.36 281.15,81.33 282.15,81.65 283.15,81.8 284.15,81.82 285.15,81.65 286.15,81.47 287.15,81.33 288.15,81.81 289.15,83.02 290.15,84.16 291.15,83.77 292.15,83.18 293.15,82.64 294.15,82.81 295.15,83.83 296.15,84.85 297.15,85.14 298.15,84.56 299.15,84.01 300.15,84.58 301.15,86.1 302.15,87.68 303.15,89.13 304.15,90.25 305.15,91.18 306.15,91.53 307.15,91.82 308.15,92.12 309.15,92.42 310.15,92.71 311.15,93.01 312.15,93.22 313.15,92.44 314.15,91.39 315.15,90.34 316.15,89.28 317.15,88.23 318.15,87.17 319.15,86.17 320.15,85.99 321.15,87.17 322.15,88.46 323.15,89.67 324.15,89.74 325.15,88.46 326.15,87.07 327.15,85.78 328.15,85.7 329.15,87.06 330.15,88.53 331.15,89.99 332.15,91.22 333.15,91.56 334.15,91.82 335.15,92.05 336.15,91.93 337.15,90.92 338.15,89.84 339.15,88.76 340.15,87.71 341.15,87.17 342.15,87.88 343.15,88.69 344.15,89.49 345.15,90.29 346.15,90.85 347.15,91.04 348.15,91.2 349.15,91.36 350.15,91.49 351.15,91.24 352.15,90.37 353.15,89.44 354.15,88.67 355.15,89.67 356.15,91.13 357.15,92.61 358.15,94.1 359.15,95.59 360.15,97 361.15,97.51 362.15,97.25 363.15,96.94 364.15,96.63 365.15,96.31 366.15,96.04 367.15,96.38 368.15,97.74 369.15,99.16 370.15,100.28 371.15,101.15 372.15,102 373.15,102.76 374.15,102.37 375.15,101.51 376.15,100.62 377.15,99.9 378.15,101.16 379.15,102.7 380.15,104.24 381.15,105.77 382.15,107.05 383.15,107.37 384.15,107.61 385.15,107.85 386.15,108.18 387.15,108.68 388.15,109.52 389.15,110.9 390.15,112.14 391.15,112.6 392.15,113 393.15,113.39 394.15,113.76 395.15,113.63 396.15,112.95 397.15,112.61 398.15,112.74 399.15,112.91 400.15,113.08 401.15,113.21 402.15,113.22 403.15,113.22 404.15,113.22 405.15,113.22 406.15,113.22 407.15,113.22"/>
<polyline stroke="#111" stroke-width="1.5" stroke-dasharray="3.8,3.4" points="227.15,81.65 228.15,81.65 229.15,81.65 230.15,81.65 231.15,81.64 232.15,81.53 233.15,81.64 234.15,81.78 235.15,81.91 236.15,82.04 237.15,82.1 238.15,81.99 239.15,81.87 240.15,81.75 241.15,81.7 242.15,81.8 243.15,81.95 244.15,82.19 245.15,82.44 246.15,82.54 247.15,82.28 248.15,82.01 249.15,81.81 250.15,81.69 251.15,81.71 252.15,81.76 253.15,81.8 254.15,81.72 255.15,81.64 256.15,81.64 257.15,81.78 258.15,81.98 259.15,82.38 260.15,82.78 261.15,82.92 262.15,82.76 263.15,82.59 264.15,82.77 265.15,83 266.15,83.2 267.15,83.25 268.15,83.28 269.15,83.32 270.15,83.33 271.15,83.14 272.15,82.86 273.15,82.58 274.15,82.32 275.15,82.36 276.15,82.52 277.15,82.68 278.15,82.7 279.15,82.49 280.15,82.25 281.15,82.03 282.15,81.96 283.15,81.92 284.15,81.92 285.15,81.96 286.15,82 287.15,82.03 288.15,81.92 289.15,81.65 290.15,81.39 291.15,81.47 292.15,81.61 293.15,81.73 294.15,81.69 295.15,81.46 296.15,81.23 297.15,81.16 298.15,81.29 299.15,81.42 300.15,81.29 301.15,80.94 302.15,80.58 303.15,80.25 304.15,80 305.15,79.79 306.15,79.71 307.15,79.64 308.15,79.57 309.15,79.5 310.15,79.44 311.15,79.37 312.15,79.32 313.15,79.5 314.15,79.74 315.15,79.98 316.15,80.22 317.15,80.46 318.15,80.7 319.15,80.93 320.15,80.97 321.15,80.7 322.15,80.4 323.15,80.13 324.15,80.11 325.15,80.41 326.15,80.72 327.15,81.02 328.15,81.03 329.15,80.72 330.15,80.39 331.15,80.06 332.15,79.78 333.15,79.7 334.15,79.64 335.15,79.59 336.15,79.62 337.15,79.85 338.15,80.09 339.15,80.34 340.15,80.58 341.15,80.7 342.15,80.54 343.15,80.35 344.15,80.17 345.15,79.99 346.15,79.86 347.15,79.82 348.15,79.78 349.15,79.75 350.15,79.72 351.15,79.77 352.15,79.97 353.15,80.18 354.15,80.36 355.15,80.13 356.15,79.8 357.15,79.46 358.15,79.12 359.15,78.78 360.15,78.46 361.15,78.34 362.15,78.4 363.15,78.47 364.15,78.55 365.15,78.62 366.15,78.68 367.15,78.6 368.15,78.29 369.15,77.97 370.15,77.71 371.15,77.52 372.15,77.32 373.15,77.15 374.15,77.24 375.15,77.43 376.15,77.64 377.15,77.8 378.15,77.51 379.15,77.16 380.15,76.81 381.15,76.46 382.15,76.17 383.15,76.1 384.15,76.04 385.15,75.99 386.15,75.91 387.15,75.8 388.15,75.61 389.15,75.29 390.15,75.01 391.15,74.91 392.15,74.82 393.15,74.73 394.15,74.64 395.15,74.67 396.15,74.83 397.15,74.9 398.15,74.87 399.15,74.84 400.15,74.8 401.15,74.77 402.15,74.77 403.15,74.77 404.15,74.77 405.15,74.77 406.15,74.77 407.15,74.77"/>
<polyline stroke="#111" stroke-width="1.5" stroke-dasharray="3.8,3.4" points="227.15,83.4 228.15,83.4 229.15,83.4 230.15,83.4 231.15,83.46 232.15,84.15 233.15,83.46 234.15,82.64 235.15,81.83 236.15,81.04 237.15,80.67 238.15,81.34 239.15,82.09 240.15,82.81 241.15,83.14 242.15,82.5 243.15,81.62 244.15,80.12 245.15,78.62 246.15,78.01 247.15,79.56 248.15,81.25 249.15,82.42 250.15,83.2 251.15,83.07 252.15,82.72 253.15,82.54 254.15,83.02 255.15,83.52 256.15,83.51 257.15,82.65 258.15,81.42 259.15,78.96 260.15,76.53 261.15,75.67 262.15,76.68 263.15,77.67 264.15,76.58 265.15,75.21 266.15,73.97 267.15,73.68 268.15,73.47 269.15,73.26 270.15,73.16 271.15,74.33 272.15,76.02 273.15,77.74 274.15,79.32 275.15,79.08 276.15,78.1 277.15,77.13 278.15,77.02 279.15,78.33 280.15,79.76 281.15,81.11 282.15,81.56 283.15,81.76 284.15,81.79 285.15,81.55 286.15,81.3 287.15,81.11 288.15,81.77 289.15,83.45 290.15,85.03 291.15,84.5 292.15,83.68 293.15,82.93 294.15,83.17 295.15,84.58 296.15,86 297.15,86.4 298.15,85.6 299.15,84.83 300.15,85.62 301.15,87.73 302.15,89.93 303.15,91.94 304.15,93.49 305.15,94.79 306.15,95.27 307.15,95.68 308.15,96.09 309.15,96.51 310.15,96.92 311.15,97.33 312.15,97.62 313.15,96.53 314.15,95.09 315.15,93.62 316.15,92.15 317.15,90.69 318.15,89.22 319.15,87.84 320.15,87.58 321.15,89.22 322.15,91.02 323.15,92.69 324.15,92.79 325.15,91.01 326.15,89.08 327.15,87.29 328.15,87.18 329.15,89.07 330.15,91.11 331.15,93.14 332.15,94.85 333.15,95.31 334.15,95.67 335.15,96 336.15,95.82 337.15,94.42 338.15,92.93 339.15,91.43 340.15,89.97 341.15,89.22 342.15,90.2 343.15,91.33 344.15,92.45 345.15,93.55 346.15,94.33 347.15,94.6 348.15,94.82 349.15,95.04 350.15,95.22 351.15,94.88 352.15,93.66 353.15,92.38 354.15,91.3 355.15,92.69 356.15,94.72 357.15,96.78 358.15,98.84 359.15,100.91 360.15,102.87 361.15,103.58 362.15,103.22 363.15,102.79 364.15,102.35 365.15,101.92 366.15,101.54 367.15,102.01 368.15,103.9 369.15,105.87 370.15,107.42 371.15,108.64 372.15,109.82 373.15,110.87 374.15,110.33 375.15,109.14 376.15,107.9 377.15,106.89 378.15,108.65 379.15,110.78 380.15,112.93 381.15,115.06 382.15,116.84 383.15,117.28 384.15,117.61 385.15,117.94 386.15,118.4 387.15,119.09 388.15,120.26 389.15,122.18 390.15,123.89 391.15,124.54 392.15,125.09 393.15,125.64 394.15,126.14 395.15,125.96 396.15,125.02 397.15,124.56 398.15,124.74 399.15,124.97 400.15,125.2 401.15,125.39 402.15,125.4 403.15,125.4 404.15,125.4 405.15,125.4 406.15,125.4 407.15,125.4"/>
</g>
<rect x="231.15" y="15.4" width="172.5" height="164.9" fill="none" stroke="#222" stroke-width="1.1"/>
<line x1="229.55" y1="173.88" x2="231.15" y2="173.88" stroke="#222" stroke-width="0.9"/><line x1="229.55" y1="166.34" x2="231.15" y2="166.34" stroke="#222" stroke-width="0.9"/><line x1="229.55" y1="160.48" x2="231.15" y2="160.48" stroke="#222" stroke-width="0.9"/><line x1="229.55" y1="155.7" x2="231.15" y2="155.7" stroke="#222" stroke-width="0.9"/><line x1="229.55" y1="151.66" x2="231.15" y2="151.66" stroke="#222" stroke-width="0.9"/><line x1="229.55" y1="148.15" x2="231.15" y2="148.15" stroke="#222" stroke-width="0.9"/><line x1="229.55" y1="145.06" x2="231.15" y2="145.06" stroke="#222" stroke-width="0.9"/><line x1="228.15" y1="142.3" x2="231.15" y2="142.3" stroke="#222" stroke-width="0.9"/><line x1="229.55" y1="124.12" x2="231.15" y2="124.12" stroke="#222" stroke-width="0.9"/><line x1="229.55" y1="113.48" x2="231.15" y2="113.48" stroke="#222" stroke-width="0.9"/><line x1="229.55" y1="105.94" x2="231.15" y2="105.94" stroke="#222" stroke-width="0.9"/><line x1="229.55" y1="100.08" x2="231.15" y2="100.08" stroke="#222" stroke-width="0.9"/><line x1="229.55" y1="95.3" x2="231.15" y2="95.3" stroke="#222" stroke-width="0.9"/><line x1="229.55" y1="91.26" x2="231.15" y2="91.26" stroke="#222" stroke-width="0.9"/><line x1="229.55" y1="87.75" x2="231.15" y2="87.75" stroke="#222" stroke-width="0.9"/><line x1="229.55" y1="84.66" x2="231.15" y2="84.66" stroke="#222" stroke-width="0.9"/><line x1="228.15" y1="81.9" x2="231.15" y2="81.9" stroke="#222" stroke-width="0.9"/><line x1="229.55" y1="63.72" x2="231.15" y2="63.72" stroke="#222" stroke-width="0.9"/><line x1="229.55" y1="53.08" x2="231.15" y2="53.08" stroke="#222" stroke-width="0.9"/><line x1="229.55" y1="45.54" x2="231.15" y2="45.54" stroke="#222" stroke-width="0.9"/><line x1="229.55" y1="39.68" x2="231.15" y2="39.68" stroke="#222" stroke-width="0.9"/><line x1="229.55" y1="34.9" x2="231.15" y2="34.9" stroke="#222" stroke-width="0.9"/><line x1="229.55" y1="30.86" x2="231.15" y2="30.86" stroke="#222" stroke-width="0.9"/><line x1="229.55" y1="27.35" x2="231.15" y2="27.35" stroke="#222" stroke-width="0.9"/><line x1="229.55" y1="24.26" x2="231.15" y2="24.26" stroke="#222" stroke-width="0.9"/><line x1="228.15" y1="21.5" x2="231.15" y2="21.5" stroke="#222" stroke-width="0.9"/><text transform="translate(224.75,20.9) rotate(-90)" text-anchor="middle" font-size="7.3" fill="#222" textLength="7.6" lengthAdjust="spacingAndGlyphs">10</text><text transform="translate(224.75,81.9) rotate(-90)" text-anchor="middle" font-size="7.3" fill="#222">1</text><text transform="translate(224.75,142.3) rotate(-90)" text-anchor="middle" font-size="7.3" fill="#222">0.1</text>
<line x1="255.95" y1="180.3" x2="255.95" y2="182.9" stroke="#222" stroke-width="0.9"/>
<text x="255.95" y="193.9" text-anchor="middle" font-size="8" textLength="15.8" lengthAdjust="spacingAndGlyphs" fill="#222">1900</text>
<line x1="282.09" y1="180.3" x2="282.09" y2="182.9" stroke="#222" stroke-width="0.9"/>
<text x="282.09" y="193.9" text-anchor="middle" font-size="8" textLength="15.8" lengthAdjust="spacingAndGlyphs" fill="#222">1920</text>
<line x1="308.23" y1="180.3" x2="308.23" y2="182.9" stroke="#222" stroke-width="0.9"/>
<text x="308.23" y="193.9" text-anchor="middle" font-size="8" textLength="15.8" lengthAdjust="spacingAndGlyphs" fill="#222">1940</text>
<line x1="334.37" y1="180.3" x2="334.37" y2="182.9" stroke="#222" stroke-width="0.9"/>
<text x="334.37" y="193.9" text-anchor="middle" font-size="8" textLength="15.8" lengthAdjust="spacingAndGlyphs" fill="#222">1960</text>
<line x1="360.51" y1="180.3" x2="360.51" y2="182.9" stroke="#222" stroke-width="0.9"/>
<text x="360.51" y="193.9" text-anchor="middle" font-size="8" textLength="15.8" lengthAdjust="spacingAndGlyphs" fill="#222">1980</text>
<line x1="386.65" y1="180.3" x2="386.65" y2="182.9" stroke="#222" stroke-width="0.9"/>
<text x="386.65" y="193.9" text-anchor="middle" font-size="8" textLength="15.8" lengthAdjust="spacingAndGlyphs" fill="#222">2000</text>
<text x="317.4" y="7.8" text-anchor="middle" font-size="9.8" fill="#111">CEU</text>
<g clip-path="url(#ca2)"><g filter="url(#bl)">
<polygon fill="#efefef" points="423.4,83.99 424.4,83.99 425.4,83.99 426.4,83.99 427.4,83.99 428.4,83.98 429.4,83.93 430.4,83.8 431.4,80.93 432.4,80.88 433.4,80.86 434.4,80.85 435.4,82.98 436.4,82.98 437.4,82.98 438.4,82.95 439.4,79.69 440.4,79.5 441.4,79.42 442.4,79.39 443.4,79.41 444.4,79.46 445.4,79.62 446.4,82.97 447.4,83.04 448.4,83.15 449.4,83.27 450.4,83.37 451.4,83.41 452.4,83.43 453.4,83.4 454.4,78.92 455.4,78.69 456.4,78.45 457.4,78.11 458.4,77.7 459.4,77.28 460.4,76.95 461.4,76.75 462.4,76.65 463.4,76.62 464.4,76.61 465.4,76.63 466.4,76.7 467.4,76.85 468.4,77.12 469.4,77.48 470.4,77.84 471.4,78.12 472.4,78.29 473.4,78.36 474.4,78.38 475.4,78.41 476.4,78.5 477.4,78.73 478.4,79.16 479.4,79.8 480.4,83.34 481.4,83.97 482.4,84.47 483.4,84.81 484.4,85 485.4,85.07 486.4,85.11 487.4,85.16 488.4,85.25 489.4,85.37 490.4,85.47 491.4,85.54 492.4,85.6 493.4,85.73 494.4,85.96 495.4,86.32 496.4,86.75 497.4,87.18 498.4,87.57 499.4,87.88 500.4,88.1 501.4,88.24 502.4,88.32 503.4,88.38 504.4,88.43 505.4,88.46 506.4,88.47 507.4,88.48 508.4,88.48 509.4,88.47 510.4,88.42 511.4,88.31 512.4,88.09 513.4,87.79 514.4,87.44 515.4,87.14 516.4,86.98 517.4,86.99 518.4,87.09 519.4,87.18 520.4,87.22 521.4,87.24 522.4,87.27 523.4,87.32 524.4,87.42 525.4,87.54 526.4,87.64 527.4,87.7 528.4,87.74 529.4,87.79 530.4,87.84 531.4,87.88 532.4,87.89 533.4,87.9 534.4,87.87 535.4,87.81 536.4,87.68 537.4,87.53 538.4,87.42 539.4,87.4 540.4,87.45 541.4,87.54 542.4,87.61 543.4,87.67 544.4,87.7 545.4,87.72 546.4,87.73 547.4,87.78 548.4,87.9 549.4,88.15 550.4,88.51 551.4,88.89 552.4,89.24 553.4,89.54 554.4,89.78 555.4,89.96 556.4,90.06 557.4,90.1 558.4,90.11 559.4,90.11 560.4,90.12 561.4,90.16 562.4,90.27 563.4,90.49 564.4,90.78 565.4,91.08 566.4,91.31 567.4,91.44 568.4,91.49 569.4,91.51 570.4,91.52 571.4,91.56 572.4,91.67 573.4,91.87 574.4,92.14 575.4,92.43 576.4,92.68 577.4,92.85 578.4,92.96 579.4,93.05 580.4,93.2 581.4,93.42 582.4,93.67 583.4,93.9 584.4,94.07 585.4,94.2 586.4,94.28 587.4,94.34 588.4,94.37 589.4,94.38 590.4,94.39 591.4,94.38 592.4,94.38 593.4,94.36 594.4,94.34 595.4,94.32 596.4,94.31 597.4,94.31 598.4,94.3 599.4,94.3 600.4,94.28 601.4,94.27 602.4,94.26 603.4,94.25 603.4,88.69 602.4,88.7 601.4,88.7 600.4,88.71 599.4,88.72 598.4,88.72 597.4,88.72 596.4,88.73 595.4,88.73 594.4,88.74 593.4,88.75 592.4,88.76 591.4,88.77 590.4,88.77 589.4,88.77 588.4,88.76 587.4,88.74 586.4,88.71 585.4,88.66 584.4,88.6 583.4,88.5 582.4,88.37 581.4,88.24 580.4,88.12 579.4,88.03 578.4,87.98 577.4,87.92 576.4,87.83 575.4,87.69 574.4,87.53 573.4,87.38 572.4,87.27 571.4,87.22 570.4,87.19 569.4,87.18 568.4,87.17 567.4,87.14 566.4,87.07 565.4,86.95 564.4,86.79 563.4,86.63 562.4,86.5 561.4,86.44 560.4,86.42 559.4,86.41 558.4,86.42 557.4,86.41 556.4,86.39 555.4,86.33 554.4,86.24 553.4,86.1 552.4,85.94 551.4,85.74 550.4,85.53 549.4,85.34 548.4,85.2 547.4,85.13 546.4,85.11 545.4,85.1 544.4,85.09 543.4,85.07 542.4,85.04 541.4,85 540.4,84.96 539.4,84.93 538.4,84.94 537.4,84.99 536.4,85.08 535.4,85.15 534.4,85.18 533.4,85.2 532.4,85.19 531.4,85.19 530.4,85.17 529.4,85.14 528.4,85.11 527.4,85.09 526.4,85.05 525.4,85 524.4,84.94 523.4,84.88 522.4,84.85 521.4,84.84 520.4,84.83 519.4,84.8 518.4,84.75 517.4,84.7 516.4,84.7 515.4,84.78 514.4,84.95 513.4,85.14 512.4,85.31 511.4,85.42 510.4,85.49 509.4,85.51 508.4,85.52 507.4,85.52 506.4,85.52 505.4,85.51 504.4,85.49 503.4,85.47 502.4,85.43 501.4,85.38 500.4,85.31 499.4,85.19 498.4,85.02 497.4,84.81 496.4,84.57 495.4,84.33 494.4,84.13 493.4,84 492.4,83.94 491.4,83.9 490.4,83.86 489.4,83.81 488.4,83.74 487.4,83.69 486.4,83.66 485.4,83.65 484.4,83.6 483.4,83.5 482.4,83.32 481.4,83.04 480.4,82.69 479.4,80.75 478.4,80.39 477.4,80.16 476.4,80.03 475.4,79.98 474.4,79.97 473.4,79.95 472.4,79.91 471.4,79.82 470.4,79.67 469.4,79.47 468.4,79.27 467.4,79.12 466.4,79.04 465.4,79 464.4,78.99 463.4,79 462.4,79.01 461.4,79.07 460.4,79.18 459.4,79.36 458.4,79.59 457.4,79.82 456.4,80 455.4,80.13 454.4,80.26 453.4,82.72 452.4,82.74 451.4,82.73 450.4,82.71 449.4,82.66 448.4,82.59 447.4,82.53 446.4,82.49 445.4,80.65 444.4,80.56 443.4,80.53 442.4,80.52 441.4,80.54 440.4,80.58 439.4,80.68 438.4,82.48 437.4,82.49 436.4,82.49 435.4,82.49 434.4,81.32 433.4,81.33 432.4,81.34 431.4,81.37 430.4,82.95 429.4,83.02 428.4,83.04 427.4,83.05 426.4,83.05 425.4,83.05 424.4,83.05 423.4,83.05"/>
<polygon fill="#e0e0e0" points="423.4,83.05 424.4,83.05 425.4,83.05 426.4,83.05 427.4,83.05 428.4,83.04 429.4,83.02 430.4,82.95 431.4,81.37 432.4,81.34 433.4,81.33 434.4,81.32 435.4,82.49 436.4,82.49 437.4,82.49 438.4,82.48 439.4,80.68 440.4,80.58 441.4,80.54 442.4,80.52 443.4,80.53 444.4,80.56 445.4,80.65 446.4,82.49 447.4,82.53 448.4,82.59 449.4,82.66 450.4,82.71 451.4,82.73 452.4,82.74 453.4,82.72 454.4,80.26 455.4,80.13 456.4,80 457.4,79.82 458.4,79.59 459.4,79.36 460.4,79.18 461.4,79.07 462.4,79.01 463.4,79 464.4,78.99 465.4,79 466.4,79.04 467.4,79.12 468.4,79.27 469.4,79.47 470.4,79.67 471.4,79.82 472.4,79.91 473.4,79.95 474.4,79.97 475.4,79.98 476.4,80.03 477.4,80.16 478.4,80.39 479.4,80.75 480.4,82.69 481.4,83.04 482.4,83.32 483.4,83.5 484.4,83.6 485.4,83.65 486.4,83.66 487.4,83.69 488.4,83.74 489.4,83.81 490.4,83.86 491.4,83.9 492.4,83.94 493.4,84 494.4,84.13 495.4,84.33 496.4,84.57 497.4,84.81 498.4,85.02 499.4,85.19 500.4,85.31 501.4,85.38 502.4,85.43 503.4,85.47 504.4,85.49 505.4,85.51 506.4,85.52 507.4,85.52 508.4,85.52 509.4,85.51 510.4,85.49 511.4,85.42 512.4,85.31 513.4,85.14 514.4,84.95 515.4,84.78 516.4,84.7 517.4,84.7 518.4,84.75 519.4,84.8 520.4,84.83 521.4,84.84 522.4,84.85 523.4,84.88 524.4,84.94 525.4,85 526.4,85.05 527.4,85.09 528.4,85.11 529.4,85.14 530.4,85.17 531.4,85.19 532.4,85.19 533.4,85.2 534.4,85.18 535.4,85.15 536.4,85.08 537.4,84.99 538.4,84.94 539.4,84.93 540.4,84.96 541.4,85 542.4,85.04 543.4,85.07 544.4,85.09 545.4,85.1 546.4,85.11 547.4,85.13 548.4,85.2 549.4,85.34 550.4,85.53 551.4,85.74 552.4,85.94 553.4,86.1 554.4,86.24 555.4,86.33 556.4,86.39 557.4,86.41 558.4,86.42 559.4,86.41 560.4,86.42 561.4,86.44 562.4,86.5 563.4,86.63 564.4,86.79 565.4,86.95 566.4,87.07 567.4,87.14 568.4,87.17 569.4,87.18 570.4,87.19 571.4,87.22 572.4,87.27 573.4,87.38 574.4,87.53 575.4,87.69 576.4,87.83 577.4,87.92 578.4,87.98 579.4,88.03 580.4,88.12 581.4,88.24 582.4,88.37 583.4,88.5 584.4,88.6 585.4,88.66 586.4,88.71 587.4,88.74 588.4,88.76 589.4,88.77 590.4,88.77 591.4,88.77 592.4,88.76 593.4,88.75 594.4,88.74 595.4,88.73 596.4,88.73 597.4,88.72 598.4,88.72 599.4,88.72 600.4,88.71 601.4,88.7 602.4,88.7 603.4,88.69 603.4,81.9 602.4,81.9 601.4,81.9 600.4,81.9 599.4,81.9 598.4,81.9 597.4,81.9 596.4,81.9 595.4,81.9 594.4,81.9 593.4,81.9 592.4,81.9 591.4,81.9 590.4,81.9 589.4,81.9 588.4,81.9 587.4,81.9 586.4,81.9 585.4,81.9 584.4,81.9 583.4,81.9 582.4,81.9 581.4,81.9 580.4,81.9 579.4,81.9 578.4,81.9 577.4,81.9 576.4,81.9 575.4,81.9 574.4,81.9 573.4,81.9 572.4,81.9 571.4,81.9 570.4,81.9 569.4,81.9 568.4,81.9 567.4,81.9 566.4,81.9 565.4,81.9 564.4,81.9 563.4,81.9 562.4,81.9 561.4,81.9 560.4,81.9 559.4,81.9 558.4,81.9 557.4,81.9 556.4,81.9 555.4,81.9 554.4,81.9 553.4,81.9 552.4,81.9 551.4,81.9 550.4,81.9 549.4,81.9 548.4,81.9 547.4,81.9 546.4,81.9 545.4,81.9 544.4,81.9 543.4,81.9 542.4,81.9 541.4,81.9 540.4,81.9 539.4,81.9 538.4,81.9 537.4,81.9 536.4,81.9 535.4,81.9 534.4,81.9 533.4,81.9 532.4,81.9 531.4,81.9 530.4,81.9 529.4,81.9 528.4,81.9 527.4,81.9 526.4,81.9 525.4,81.9 524.4,81.9 523.4,81.9 522.4,81.9 521.4,81.9 520.4,81.9 519.4,81.9 518.4,81.9 517.4,81.9 516.4,81.9 515.4,81.9 514.4,81.9 513.4,81.9 512.4,81.9 511.4,81.9 510.4,81.9 509.4,81.9 508.4,81.9 507.4,81.9 506.4,81.9 505.4,81.9 504.4,81.9 503.4,81.9 502.4,81.9 501.4,81.9 500.4,81.9 499.4,81.9 498.4,81.9 497.4,81.9 496.4,81.9 495.4,81.9 494.4,81.9 493.4,81.9 492.4,81.9 491.4,81.9 490.4,81.9 489.4,81.9 488.4,81.9 487.4,81.9 486.4,81.9 485.4,81.9 484.4,81.9 483.4,81.9 482.4,81.9 481.4,81.9 480.4,81.9 479.4,81.9 478.4,81.9 477.4,81.9 476.4,81.9 475.4,81.9 474.4,81.9 473.4,81.9 472.4,81.9 471.4,81.9 470.4,81.9 469.4,81.9 468.4,81.9 467.4,81.9 466.4,81.9 465.4,81.9 464.4,81.9 463.4,81.9 462.4,81.9 461.4,81.9 460.4,81.9 459.4,81.9 458.4,81.9 457.4,81.9 456.4,81.9 455.4,81.9 454.4,81.9 453.4,81.9 452.4,81.9 451.4,81.9 450.4,81.9 449.4,81.9 448.4,81.9 447.4,81.9 446.4,81.9 445.4,81.9 444.4,81.9 443.4,81.9 442.4,81.9 441.4,81.9 440.4,81.9 439.4,81.9 438.4,81.9 437.4,81.9 436.4,81.9 435.4,81.9 434.4,81.9 433.4,81.9 432.4,81.9 431.4,81.9 430.4,81.9 429.4,81.9 428.4,81.9 427.4,81.9 426.4,81.9 425.4,81.9 424.4,81.9 423.4,81.9"/>
<polygon fill="#bababa" points="423.4,81.9 424.4,81.9 425.4,81.9 426.4,81.9 427.4,81.9 428.4,81.9 429.4,81.9 430.4,81.9 431.4,81.9 432.4,81.9 433.4,81.9 434.4,81.9 435.4,81.9 436.4,81.9 437.4,81.9 438.4,81.9 439.4,81.9 440.4,81.9 441.4,81.9 442.4,81.9 443.4,81.9 444.4,81.9 445.4,81.9 446.4,81.9 447.4,81.9 448.4,81.9 449.4,81.9 450.4,81.9 451.4,81.9 452.4,81.9 453.4,81.9 454.4,81.9 455.4,81.9 456.4,81.9 457.4,81.9 458.4,81.9 459.4,81.9 460.4,81.9 461.4,81.9 462.4,81.9 463.4,81.9 464.4,81.9 465.4,81.9 466.4,81.9 467.4,81.9 468.4,81.9 469.4,81.9 470.4,81.9 471.4,81.9 472.4,81.9 473.4,81.9 474.4,81.9 475.4,81.9 476.4,81.9 477.4,81.9 478.4,81.9 479.4,81.9 480.4,81.9 481.4,81.9 482.4,81.9 483.4,81.9 484.4,81.9 485.4,81.9 486.4,81.9 487.4,81.9 488.4,81.9 489.4,81.9 490.4,81.9 491.4,81.9 492.4,81.9 493.4,81.9 494.4,81.9 495.4,81.9 496.4,81.9 497.4,81.9 498.4,81.9 499.4,81.9 500.4,81.9 501.4,81.9 502.4,81.9 503.4,81.9 504.4,81.9 505.4,81.9 506.4,81.9 507.4,81.9 508.4,81.9 509.4,81.9 510.4,81.9 511.4,81.9 512.4,81.9 513.4,81.9 514.4,81.9 515.4,81.9 516.4,81.9 517.4,81.9 518.4,81.9 519.4,81.9 520.4,81.9 521.4,81.9 522.4,81.9 523.4,81.9 524.4,81.9 525.4,81.9 526.4,81.9 527.4,81.9 528.4,81.9 529.4,81.9 530.4,81.9 531.4,81.9 532.4,81.9 533.4,81.9 534.4,81.9 535.4,81.9 536.4,81.9 537.4,81.9 538.4,81.9 539.4,81.9 540.4,81.9 541.4,81.9 542.4,81.9 543.4,81.9 544.4,81.9 545.4,81.9 546.4,81.9 547.4,81.9 548.4,81.9 549.4,81.9 550.4,81.9 551.4,81.9 552.4,81.9 553.4,81.9 554.4,81.9 555.4,81.9 556.4,81.9 557.4,81.9 558.4,81.9 559.4,81.9 560.4,81.9 561.4,81.9 562.4,81.9 563.4,81.9 564.4,81.9 565.4,81.9 566.4,81.9 567.4,81.9 568.4,81.9 569.4,81.9 570.4,81.9 571.4,81.9 572.4,81.9 573.4,81.9 574.4,81.9 575.4,81.9 576.4,81.9 577.4,81.9 578.4,81.9 579.4,81.9 580.4,81.9 581.4,81.9 582.4,81.9 583.4,81.9 584.4,81.9 585.4,81.9 586.4,81.9 587.4,81.9 588.4,81.9 589.4,81.9 590.4,81.9 591.4,81.9 592.4,81.9 593.4,81.9 594.4,81.9 595.4,81.9 596.4,81.9 597.4,81.9 598.4,81.9 599.4,81.9 600.4,81.9 601.4,81.9 602.4,81.9 603.4,81.9 603.4,47.7 602.4,47.7 601.4,47.7 600.4,47.7 599.4,47.66 598.4,47.58 597.4,47.51 596.4,47.46 595.4,47.75 594.4,48.28 593.4,48.76 592.4,48.27 591.4,47.36 590.4,47.14 589.4,47.44 588.4,47.79 587.4,48.13 586.4,48.53 585.4,49.64 584.4,50.9 583.4,52.15 582.4,53.14 581.4,52.77 580.4,52.37 579.4,52.91 578.4,54.13 577.4,55.4 576.4,56.67 575.4,57.94 574.4,59.2 573.4,60.34 572.4,59.82 571.4,58.99 570.4,58.15 569.4,57.45 568.4,58.59 567.4,59.87 566.4,61.16 565.4,62.44 564.4,63.73 563.4,64.91 562.4,64.77 561.4,63.97 560.4,63.13 559.4,62.33 558.4,62.06 557.4,62.87 556.4,63.77 555.4,64.67 554.4,65.6 553.4,66.9 552.4,68.95 551.4,71.06 550.4,72.98 549.4,72.52 548.4,71.27 547.4,70.02 546.4,69.39 545.4,69.61 544.4,69.9 543.4,70.19 542.4,70.49 541.4,70.78 540.4,71.13 539.4,72.17 538.4,73.34 537.4,74.4 536.4,74.08 535.4,72.36 534.4,70.53 533.4,68.87 532.4,69.17 531.4,69.63 530.4,70.04 529.4,69.73 528.4,69.46 527.4,70.62 526.4,72.79 525.4,74.94 524.4,75.84 523.4,74.22 522.4,72.39 521.4,70.78 520.4,71.73 519.4,73.53 518.4,75.38 517.4,77.05 516.4,76.52 515.4,75.27 514.4,73.98 513.4,72.72 512.4,71.5 511.4,70.28 510.4,69.07 509.4,67.88 508.4,67.12 507.4,67.22 506.4,67.39 505.4,67.56 504.4,67.73 503.4,67.93 502.4,68.51 501.4,69.63 500.4,70.81 499.4,72.1 498.4,73.57 497.4,75.04 496.4,76.45 495.4,76.95 494.4,76.19 493.4,75.41 492.4,75.62 491.4,76.83 490.4,78.11 489.4,79.23 488.4,78.4 487.4,77.4 486.4,76.56 485.4,77.65 484.4,78.9 483.4,80.15 482.4,81.35 481.4,81.86 480.4,81.9 479.4,81.9 478.4,81.98 477.4,83.07 476.4,84.87 475.4,86.7 474.4,88.03 473.4,86.75 472.4,85.25 471.4,83.78 470.4,82.89 469.4,85.04 468.4,87.39 467.4,89.13 466.4,90.44 465.4,91.71 464.4,92.87 463.4,92.57 462.4,91.23 461.4,89.81 460.4,88.39 459.4,87.05 458.4,86.67 457.4,86.97 456.4,87.13 455.4,84.91 454.4,82.04 453.4,80.8 452.4,79.83 451.4,80.46 450.4,81.18 449.4,81.32 448.4,80.9 447.4,80.52 446.4,81.09 445.4,82.24 444.4,83.79 443.4,85.28 442.4,85.7 441.4,84.64 440.4,83.45 439.4,82.27 438.4,81.3 437.4,80.5 436.4,80.57 435.4,81.5 434.4,82.49 433.4,83.25 432.4,82.82 431.4,82.29 430.4,81.71 429.4,80.56 428.4,79.22 427.4,78.92 426.4,78.9 425.4,78.9 424.4,78.9 423.4,78.9"/>
<polygon fill="#bdbdbd" points="423.4,78.9 424.4,78.9 425.4,78.9 426.4,78.9 427.4,78.92 428.4,79.22 429.4,80.56 430.4,81.71 431.4,82.29 432.4,82.82 433.4,83.25 434.4,82.49 435.4,81.5 436.4,80.57 437.4,80.5 438.4,81.3 439.4,82.27 440.4,83.45 441.4,84.64 442.4,85.7 443.4,85.28 444.4,83.79 445.4,82.24 446.4,81.09 447.4,80.52 448.4,80.9 449.4,81.32 450.4,81.18 451.4,80.46 452.4,79.83 453.4,80.8 454.4,82.04 455.4,84.91 456.4,87.13 457.4,86.97 458.4,86.67 459.4,87.05 460.4,88.39 461.4,89.81 462.4,91.23 463.4,92.57 464.4,92.87 465.4,91.71 466.4,90.44 467.4,89.13 468.4,87.39 469.4,85.04 470.4,82.89 471.4,83.78 472.4,85.25 473.4,86.75 474.4,88.03 475.4,86.7 476.4,84.87 477.4,83.07 478.4,81.98 479.4,81.9 480.4,81.9 481.4,81.86 482.4,81.35 483.4,80.15 484.4,78.9 485.4,77.65 486.4,76.56 487.4,77.4 488.4,78.4 489.4,79.23 490.4,78.11 491.4,76.83 492.4,75.62 493.4,75.41 494.4,76.19 495.4,76.95 496.4,76.45 497.4,75.04 498.4,73.57 499.4,72.1 500.4,70.81 501.4,69.63 502.4,68.51 503.4,67.93 504.4,67.73 505.4,67.56 506.4,67.39 507.4,67.22 508.4,67.12 509.4,67.88 510.4,69.07 511.4,70.28 512.4,71.5 513.4,72.72 514.4,73.98 515.4,75.27 516.4,76.52 517.4,77.05 518.4,75.38 519.4,73.53 520.4,71.73 521.4,70.78 522.4,72.39 523.4,74.22 524.4,75.84 525.4,74.94 526.4,72.79 527.4,70.62 528.4,69.46 529.4,69.73 530.4,70.04 531.4,69.63 532.4,69.17 533.4,68.87 534.4,70.53 535.4,72.36 536.4,74.08 537.4,74.4 538.4,73.34 539.4,72.17 540.4,71.13 541.4,70.78 542.4,70.49 543.4,70.19 544.4,69.9 545.4,69.61 546.4,69.39 547.4,70.02 548.4,71.27 549.4,72.52 550.4,72.98 551.4,71.06 552.4,68.95 553.4,66.9 554.4,65.6 555.4,64.67 556.4,63.77 557.4,62.87 558.4,62.06 559.4,62.33 560.4,63.13 561.4,63.97 562.4,64.77 563.4,64.91 564.4,63.73 565.4,62.44 566.4,61.16 567.4,59.87 568.4,58.59 569.4,57.45 570.4,58.15 571.4,58.99 572.4,59.82 573.4,60.34 574.4,59.2 575.4,57.94 576.4,56.67 577.4,55.4 578.4,54.13 579.4,52.91 580.4,52.37 581.4,52.77 582.4,53.14 583.4,52.15 584.4,50.9 585.4,49.64 586.4,48.53 587.4,48.13 588.4,47.79 589.4,47.44 590.4,47.14 591.4,47.36 592.4,48.27 593.4,48.76 594.4,48.28 595.4,47.75 596.4,47.46 597.4,47.51 598.4,47.58 599.4,47.66 600.4,47.7 601.4,47.7 602.4,47.7 603.4,47.7 603.4,44.03 602.4,44.03 601.4,44.03 600.4,44.02 599.4,43.98 598.4,43.91 597.4,43.83 596.4,43.78 595.4,44.07 594.4,44.6 593.4,45.07 592.4,44.58 591.4,43.67 590.4,43.45 589.4,43.75 588.4,44.1 587.4,44.44 586.4,44.85 585.4,45.99 584.4,47.27 583.4,48.55 582.4,49.58 581.4,49.26 580.4,48.9 579.4,49.47 578.4,50.71 577.4,52 576.4,53.3 575.4,54.62 574.4,55.95 573.4,57.13 572.4,56.66 571.4,55.85 570.4,55.02 569.4,54.33 568.4,55.46 567.4,56.76 566.4,58.07 565.4,59.41 564.4,60.76 563.4,62 562.4,61.91 561.4,61.14 560.4,60.31 559.4,59.51 558.4,59.24 557.4,60.06 556.4,60.97 555.4,61.89 554.4,62.86 553.4,64.21 552.4,66.34 551.4,68.54 550.4,70.55 549.4,70.18 548.4,69 547.4,67.79 546.4,67.16 545.4,67.39 544.4,67.69 543.4,67.99 542.4,68.3 541.4,68.61 540.4,68.98 539.4,70.03 538.4,71.2 537.4,72.24 536.4,71.87 535.4,70.12 534.4,68.27 533.4,66.6 532.4,66.9 531.4,67.37 530.4,67.79 529.4,67.49 528.4,67.24 527.4,68.41 526.4,70.59 525.4,72.77 524.4,73.71 523.4,72.11 522.4,70.3 521.4,68.69 520.4,69.65 519.4,71.46 518.4,73.34 517.4,75.03 516.4,74.5 515.4,73.21 514.4,71.84 513.4,70.48 512.4,69.18 511.4,67.91 510.4,66.66 509.4,65.47 508.4,64.7 507.4,64.8 506.4,64.97 505.4,65.15 504.4,65.32 503.4,65.53 502.4,66.13 501.4,67.28 500.4,68.49 499.4,69.84 498.4,71.39 497.4,72.97 496.4,74.5 495.4,75.13 494.4,74.48 493.4,73.77 492.4,74.02 491.4,75.25 490.4,76.56 489.4,77.72 488.4,76.92 487.4,75.95 486.4,75.13 485.4,76.23 484.4,77.51 483.4,78.83 482.4,80.15 481.4,80.88 480.4,81.2 479.4,82.9 478.4,83.24 477.4,84.48 476.4,86.37 475.4,88.23 474.4,89.57 473.4,88.29 472.4,86.82 471.4,85.4 470.4,84.61 469.4,86.86 468.4,89.32 467.4,91.14 466.4,92.49 465.4,93.78 464.4,94.95 463.4,94.64 462.4,93.29 461.4,91.84 460.4,90.36 459.4,88.92 458.4,88.42 457.4,88.59 456.4,88.64 455.4,86.34 454.4,83.39 453.4,80.07 452.4,79.09 451.4,79.73 450.4,80.46 449.4,80.65 448.4,80.29 447.4,79.95 446.4,80.56 445.4,83.32 444.4,84.92 443.4,86.44 442.4,86.87 441.4,85.79 440.4,84.57 439.4,83.32 438.4,80.79 437.4,79.97 436.4,80.04 435.4,80.97 434.4,83.01 433.4,83.76 432.4,83.32 431.4,82.77 430.4,80.8 429.4,79.6 428.4,78.23 427.4,77.92 426.4,77.91 425.4,77.91 424.4,77.91 423.4,77.91"/>
<polygon fill="#c6c6c6" points="423.4,77.91 424.4,77.91 425.4,77.91 426.4,77.91 427.4,77.92 428.4,78.23 429.4,79.6 430.4,80.8 431.4,82.77 432.4,83.32 433.4,83.76 434.4,83.01 435.4,80.97 436.4,80.04 437.4,79.97 438.4,80.79 439.4,83.32 440.4,84.57 441.4,85.79 442.4,86.87 443.4,86.44 444.4,84.92 445.4,83.32 446.4,80.56 447.4,79.95 448.4,80.29 449.4,80.65 450.4,80.46 451.4,79.73 452.4,79.09 453.4,80.07 454.4,83.39 455.4,86.34 456.4,88.64 457.4,88.59 458.4,88.42 459.4,88.92 460.4,90.36 461.4,91.84 462.4,93.29 463.4,94.64 464.4,94.95 465.4,93.78 466.4,92.49 467.4,91.14 468.4,89.32 469.4,86.86 470.4,84.61 471.4,85.4 472.4,86.82 473.4,88.29 474.4,89.57 475.4,88.23 476.4,86.37 477.4,84.48 478.4,83.24 479.4,82.9 480.4,81.2 481.4,80.88 482.4,80.15 483.4,78.83 484.4,77.51 485.4,76.23 486.4,75.13 487.4,75.95 488.4,76.92 489.4,77.72 490.4,76.56 491.4,75.25 492.4,74.02 493.4,73.77 494.4,74.48 495.4,75.13 496.4,74.5 497.4,72.97 498.4,71.39 499.4,69.84 500.4,68.49 501.4,67.28 502.4,66.13 503.4,65.53 504.4,65.32 505.4,65.15 506.4,64.97 507.4,64.8 508.4,64.7 509.4,65.47 510.4,66.66 511.4,67.91 512.4,69.18 513.4,70.48 514.4,71.84 515.4,73.21 516.4,74.5 517.4,75.03 518.4,73.34 519.4,71.46 520.4,69.65 521.4,68.69 522.4,70.3 523.4,72.11 524.4,73.71 525.4,72.77 526.4,70.59 527.4,68.41 528.4,67.24 529.4,67.49 530.4,67.79 531.4,67.37 532.4,66.9 533.4,66.6 534.4,68.27 535.4,70.12 536.4,71.87 537.4,72.24 538.4,71.2 539.4,70.03 540.4,68.98 541.4,68.61 542.4,68.3 543.4,67.99 544.4,67.69 545.4,67.39 546.4,67.16 547.4,67.79 548.4,69 549.4,70.18 550.4,70.55 551.4,68.54 552.4,66.34 553.4,64.21 554.4,62.86 555.4,61.89 556.4,60.97 557.4,60.06 558.4,59.24 559.4,59.51 560.4,60.31 561.4,61.14 562.4,61.91 563.4,62 564.4,60.76 565.4,59.41 566.4,58.07 567.4,56.76 568.4,55.46 569.4,54.33 570.4,55.02 571.4,55.85 572.4,56.66 573.4,57.13 574.4,55.95 575.4,54.62 576.4,53.3 577.4,52 578.4,50.71 579.4,49.47 580.4,48.9 581.4,49.26 582.4,49.58 583.4,48.55 584.4,47.27 585.4,45.99 586.4,44.85 587.4,44.44 588.4,44.1 589.4,43.75 590.4,43.45 591.4,43.67 592.4,44.58 593.4,45.07 594.4,44.6 595.4,44.07 596.4,43.78 597.4,43.83 598.4,43.91 599.4,43.98 600.4,44.02 601.4,44.03 602.4,44.03 603.4,44.03 603.4,40.37 602.4,40.36 601.4,40.36 600.4,40.35 599.4,40.31 598.4,40.23 597.4,40.15 596.4,40.1 595.4,40.39 594.4,40.92 593.4,41.38 592.4,40.89 591.4,39.98 590.4,39.76 589.4,40.06 588.4,40.41 587.4,40.76 586.4,41.18 585.4,42.33 584.4,43.63 583.4,44.95 582.4,46.02 581.4,45.75 580.4,45.43 579.4,46.03 578.4,47.29 577.4,48.6 576.4,49.93 575.4,51.3 574.4,52.69 573.4,53.93 572.4,53.5 571.4,52.72 570.4,51.89 569.4,51.2 568.4,52.34 567.4,53.65 566.4,54.99 565.4,56.38 564.4,57.79 563.4,59.1 562.4,59.06 561.4,58.32 560.4,57.5 559.4,56.7 558.4,56.43 557.4,57.25 556.4,58.16 555.4,59.11 554.4,60.12 553.4,61.53 552.4,63.73 551.4,66.02 550.4,68.13 549.4,67.85 548.4,66.73 547.4,65.55 546.4,64.94 545.4,65.17 544.4,65.47 543.4,65.78 542.4,66.11 541.4,66.44 540.4,66.84 539.4,67.9 538.4,69.06 537.4,70.07 536.4,69.66 535.4,67.87 534.4,66.01 533.4,64.33 532.4,64.64 531.4,65.11 530.4,65.54 529.4,65.25 528.4,65.01 527.4,66.2 526.4,68.4 525.4,70.6 524.4,71.57 523.4,70 522.4,68.21 521.4,66.6 520.4,67.57 519.4,69.39 518.4,71.29 517.4,73.01 516.4,72.49 515.4,71.15 514.4,69.69 513.4,68.25 512.4,66.86 511.4,65.54 510.4,64.26 509.4,63.05 508.4,62.28 507.4,62.38 506.4,62.56 505.4,62.73 504.4,62.92 503.4,63.14 502.4,63.75 501.4,64.92 500.4,66.17 499.4,67.58 498.4,69.21 497.4,70.9 496.4,72.55 495.4,73.31 494.4,72.77 493.4,72.14 492.4,72.43 491.4,73.68 490.4,75.01 489.4,76.2 488.4,75.44 487.4,74.51 486.4,73.71 485.4,74.82 484.4,76.12 483.4,77.51 482.4,78.96 481.4,79.9 480.4,80.49 479.4,83.89 478.4,84.49 477.4,85.9 476.4,87.86 475.4,89.75 474.4,91.1 473.4,89.84 472.4,88.38 471.4,87.02 470.4,86.32 469.4,88.68 468.4,91.24 467.4,93.14 466.4,94.54 465.4,95.85 464.4,97.02 463.4,96.71 462.4,95.35 461.4,93.87 460.4,92.34 459.4,90.8 458.4,90.17 457.4,90.22 456.4,90.16 455.4,87.77 454.4,84.73 453.4,79.34 452.4,78.35 451.4,78.99 450.4,79.75 449.4,79.98 448.4,79.68 447.4,79.39 446.4,80.04 445.4,84.39 444.4,86.06 443.4,87.6 442.4,88.04 441.4,86.94 440.4,85.69 439.4,84.36 438.4,80.27 437.4,79.44 436.4,79.51 435.4,80.44 434.4,83.53 433.4,84.27 432.4,83.83 431.4,83.25 430.4,79.89 429.4,78.63 428.4,77.24 427.4,76.93 426.4,76.91 425.4,76.91 424.4,76.91 423.4,76.91"/>
<polygon fill="#d2d2d2" points="423.4,76.91 424.4,76.91 425.4,76.91 426.4,76.91 427.4,76.93 428.4,77.24 429.4,78.63 430.4,79.89 431.4,83.25 432.4,83.83 433.4,84.27 434.4,83.53 435.4,80.44 436.4,79.51 437.4,79.44 438.4,80.27 439.4,84.36 440.4,85.69 441.4,86.94 442.4,88.04 443.4,87.6 444.4,86.06 445.4,84.39 446.4,80.04 447.4,79.39 448.4,79.68 449.4,79.98 450.4,79.75 451.4,78.99 452.4,78.35 453.4,79.34 454.4,84.73 455.4,87.77 456.4,90.16 457.4,90.22 458.4,90.17 459.4,90.8 460.4,92.34 461.4,93.87 462.4,95.35 463.4,96.71 464.4,97.02 465.4,95.85 466.4,94.54 467.4,93.14 468.4,91.24 469.4,88.68 470.4,86.32 471.4,87.02 472.4,88.38 473.4,89.84 474.4,91.1 475.4,89.75 476.4,87.86 477.4,85.9 478.4,84.49 479.4,83.89 480.4,80.49 481.4,79.9 482.4,78.96 483.4,77.51 484.4,76.12 485.4,74.82 486.4,73.71 487.4,74.51 488.4,75.44 489.4,76.2 490.4,75.01 491.4,73.68 492.4,72.43 493.4,72.14 494.4,72.77 495.4,73.31 496.4,72.55 497.4,70.9 498.4,69.21 499.4,67.58 500.4,66.17 501.4,64.92 502.4,63.75 503.4,63.14 504.4,62.92 505.4,62.73 506.4,62.56 507.4,62.38 508.4,62.28 509.4,63.05 510.4,64.26 511.4,65.54 512.4,66.86 513.4,68.25 514.4,69.69 515.4,71.15 516.4,72.49 517.4,73.01 518.4,71.29 519.4,69.39 520.4,67.57 521.4,66.6 522.4,68.21 523.4,70 524.4,71.57 525.4,70.6 526.4,68.4 527.4,66.2 528.4,65.01 529.4,65.25 530.4,65.54 531.4,65.11 532.4,64.64 533.4,64.33 534.4,66.01 535.4,67.87 536.4,69.66 537.4,70.07 538.4,69.06 539.4,67.9 540.4,66.84 541.4,66.44 542.4,66.11 543.4,65.78 544.4,65.47 545.4,65.17 546.4,64.94 547.4,65.55 548.4,66.73 549.4,67.85 550.4,68.13 551.4,66.02 552.4,63.73 553.4,61.53 554.4,60.12 555.4,59.11 556.4,58.16 557.4,57.25 558.4,56.43 559.4,56.7 560.4,57.5 561.4,58.32 562.4,59.06 563.4,59.1 564.4,57.79 565.4,56.38 566.4,54.99 567.4,53.65 568.4,52.34 569.4,51.2 570.4,51.89 571.4,52.72 572.4,53.5 573.4,53.93 574.4,52.69 575.4,51.3 576.4,49.93 577.4,48.6 578.4,47.29 579.4,46.03 580.4,45.43 581.4,45.75 582.4,46.02 583.4,44.95 584.4,43.63 585.4,42.33 586.4,41.18 587.4,40.76 588.4,40.41 589.4,40.06 590.4,39.76 591.4,39.98 592.4,40.89 593.4,41.38 594.4,40.92 595.4,40.39 596.4,40.1 597.4,40.15 598.4,40.23 599.4,40.31 600.4,40.35 601.4,40.36 602.4,40.36 603.4,40.37 603.4,36.7 602.4,36.7 601.4,36.69 600.4,36.68 599.4,36.63 598.4,36.56 597.4,36.48 596.4,36.43 595.4,36.71 594.4,37.23 593.4,37.69 592.4,37.2 591.4,36.29 590.4,36.07 589.4,36.37 588.4,36.72 587.4,37.08 586.4,37.51 585.4,38.67 584.4,40 583.4,41.34 582.4,42.46 581.4,42.24 580.4,41.96 579.4,42.59 578.4,43.86 577.4,45.2 576.4,46.57 575.4,47.99 574.4,49.43 573.4,50.73 572.4,50.34 571.4,49.58 570.4,48.76 569.4,48.08 568.4,49.22 567.4,50.54 566.4,51.91 565.4,53.34 564.4,54.82 563.4,56.2 562.4,56.21 561.4,55.49 560.4,54.68 559.4,53.88 558.4,53.61 557.4,54.43 556.4,55.36 555.4,56.33 554.4,57.38 553.4,58.85 552.4,61.12 551.4,63.5 550.4,65.7 549.4,65.51 548.4,64.47 547.4,63.32 546.4,62.72 545.4,62.96 544.4,63.26 543.4,63.58 542.4,63.92 541.4,64.27 540.4,64.69 539.4,65.77 538.4,66.93 537.4,67.91 536.4,67.45 535.4,65.63 534.4,63.75 533.4,62.07 532.4,62.37 531.4,62.85 530.4,63.28 529.4,63.01 528.4,62.79 527.4,63.99 526.4,66.2 525.4,68.43 524.4,69.43 523.4,67.89 522.4,66.11 521.4,64.52 520.4,65.49 519.4,67.32 518.4,69.25 517.4,71 516.4,70.47 515.4,69.09 514.4,67.55 513.4,66.01 512.4,64.55 511.4,63.16 510.4,61.86 509.4,60.64 508.4,59.87 507.4,59.97 506.4,60.14 505.4,60.32 504.4,60.51 503.4,60.75 502.4,61.38 501.4,62.57 500.4,63.85 499.4,65.32 498.4,67.03 497.4,68.83 496.4,70.6 495.4,71.49 494.4,71.06 493.4,70.5 492.4,70.83 491.4,72.1 490.4,73.45 489.4,74.68 488.4,73.97 487.4,73.06 486.4,72.28 485.4,73.4 484.4,74.73 483.4,76.18 482.4,77.77 481.4,78.91 480.4,79.79 479.4,84.89 478.4,85.75 477.4,87.31 476.4,89.35 475.4,91.28 474.4,92.63 473.4,91.38 472.4,89.95 471.4,88.64 470.4,88.03 469.4,90.5 468.4,93.17 467.4,95.14 466.4,96.58 465.4,97.91 464.4,99.09 463.4,98.78 462.4,97.41 461.4,95.91 460.4,94.31 459.4,92.68 458.4,91.93 457.4,91.84 456.4,91.67 455.4,89.2 454.4,86.08 453.4,78.62 452.4,77.6 451.4,78.25 450.4,79.03 449.4,79.31 448.4,79.06 447.4,78.83 446.4,79.51 445.4,85.46 444.4,87.2 443.4,88.75 442.4,89.2 441.4,88.1 440.4,86.81 439.4,85.4 438.4,79.75 437.4,78.91 436.4,78.98 435.4,79.91 434.4,84.05 433.4,84.78 432.4,84.33 431.4,83.73 430.4,78.98 429.4,77.66 428.4,76.26 427.4,75.94 426.4,75.92 425.4,75.92 424.4,75.92 423.4,75.92"/>
<polygon fill="#dedede" points="423.4,75.92 424.4,75.92 425.4,75.92 426.4,75.92 427.4,75.94 428.4,76.26 429.4,77.66 430.4,78.98 431.4,83.73 432.4,84.33 433.4,84.78 434.4,84.05 435.4,79.91 436.4,78.98 437.4,78.91 438.4,79.75 439.4,85.4 440.4,86.81 441.4,88.1 442.4,89.2 443.4,88.75 444.4,87.2 445.4,85.46 446.4,79.51 447.4,78.83 448.4,79.06 449.4,79.31 450.4,79.03 451.4,78.25 452.4,77.6 453.4,78.62 454.4,86.08 455.4,89.2 456.4,91.67 457.4,91.84 458.4,91.93 459.4,92.68 460.4,94.31 461.4,95.91 462.4,97.41 463.4,98.78 464.4,99.09 465.4,97.91 466.4,96.58 467.4,95.14 468.4,93.17 469.4,90.5 470.4,88.03 471.4,88.64 472.4,89.95 473.4,91.38 474.4,92.63 475.4,91.28 476.4,89.35 477.4,87.31 478.4,85.75 479.4,84.89 480.4,79.79 481.4,78.91 482.4,77.77 483.4,76.18 484.4,74.73 485.4,73.4 486.4,72.28 487.4,73.06 488.4,73.97 489.4,74.68 490.4,73.45 491.4,72.1 492.4,70.83 493.4,70.5 494.4,71.06 495.4,71.49 496.4,70.6 497.4,68.83 498.4,67.03 499.4,65.32 500.4,63.85 501.4,62.57 502.4,61.38 503.4,60.75 504.4,60.51 505.4,60.32 506.4,60.14 507.4,59.97 508.4,59.87 509.4,60.64 510.4,61.86 511.4,63.16 512.4,64.55 513.4,66.01 514.4,67.55 515.4,69.09 516.4,70.47 517.4,71 518.4,69.25 519.4,67.32 520.4,65.49 521.4,64.52 522.4,66.11 523.4,67.89 524.4,69.43 525.4,68.43 526.4,66.2 527.4,63.99 528.4,62.79 529.4,63.01 530.4,63.28 531.4,62.85 532.4,62.37 533.4,62.07 534.4,63.75 535.4,65.63 536.4,67.45 537.4,67.91 538.4,66.93 539.4,65.77 540.4,64.69 541.4,64.27 542.4,63.92 543.4,63.58 544.4,63.26 545.4,62.96 546.4,62.72 547.4,63.32 548.4,64.47 549.4,65.51 550.4,65.7 551.4,63.5 552.4,61.12 553.4,58.85 554.4,57.38 555.4,56.33 556.4,55.36 557.4,54.43 558.4,53.61 559.4,53.88 560.4,54.68 561.4,55.49 562.4,56.21 563.4,56.2 564.4,54.82 565.4,53.34 566.4,51.91 567.4,50.54 568.4,49.22 569.4,48.08 570.4,48.76 571.4,49.58 572.4,50.34 573.4,50.73 574.4,49.43 575.4,47.99 576.4,46.57 577.4,45.2 578.4,43.86 579.4,42.59 580.4,41.96 581.4,42.24 582.4,42.46 583.4,41.34 584.4,40 585.4,38.67 586.4,37.51 587.4,37.08 588.4,36.72 589.4,36.37 590.4,36.07 591.4,36.29 592.4,37.2 593.4,37.69 594.4,37.23 595.4,36.71 596.4,36.43 597.4,36.48 598.4,36.56 599.4,36.63 600.4,36.68 601.4,36.69 602.4,36.7 603.4,36.7 603.4,33.03 602.4,33.03 601.4,33.02 600.4,33.01 599.4,32.96 598.4,32.88 597.4,32.8 596.4,32.75 595.4,33.03 594.4,33.55 593.4,34.01 592.4,33.51 591.4,32.59 590.4,32.38 589.4,32.68 588.4,33.03 587.4,33.39 586.4,33.84 585.4,35.02 584.4,36.36 583.4,37.74 582.4,38.9 581.4,38.72 580.4,38.49 579.4,39.15 578.4,40.44 577.4,41.8 576.4,43.2 575.4,44.67 574.4,46.18 573.4,47.53 572.4,47.18 571.4,46.44 570.4,45.63 569.4,44.95 568.4,46.1 567.4,47.43 566.4,48.83 565.4,50.31 564.4,51.85 563.4,53.29 562.4,53.35 561.4,52.66 560.4,51.86 559.4,51.06 558.4,50.8 557.4,51.62 556.4,52.56 555.4,53.55 554.4,54.64 553.4,56.17 552.4,58.51 551.4,60.98 550.4,63.28 549.4,63.18 548.4,62.2 547.4,61.09 546.4,60.5 545.4,60.74 544.4,61.05 543.4,61.37 542.4,61.73 541.4,62.1 540.4,62.54 539.4,63.64 538.4,64.79 537.4,65.74 536.4,65.25 535.4,63.39 534.4,61.49 533.4,59.8 532.4,60.11 531.4,60.59 530.4,61.03 529.4,60.77 528.4,60.57 527.4,61.77 526.4,64.01 525.4,66.26 524.4,67.3 523.4,65.78 522.4,64.02 521.4,62.43 520.4,63.41 519.4,65.25 518.4,67.2 517.4,68.98 516.4,68.46 515.4,67.03 514.4,65.41 513.4,63.77 512.4,62.23 511.4,60.79 510.4,59.45 509.4,58.22 508.4,57.45 507.4,57.55 506.4,57.72 505.4,57.91 504.4,58.11 503.4,58.35 502.4,59 501.4,60.21 500.4,61.53 499.4,63.06 498.4,64.86 497.4,66.76 496.4,68.66 495.4,69.67 494.4,69.35 493.4,68.86 492.4,69.23 491.4,70.53 490.4,71.9 489.4,73.16 488.4,72.49 487.4,71.61 486.4,70.85 485.4,71.98 484.4,73.34 483.4,74.86 482.4,76.58 481.4,77.93 480.4,79.09 479.4,85.89 478.4,87.01 477.4,88.73 476.4,90.85 475.4,92.8 474.4,94.17 473.4,92.92 472.4,91.51 471.4,90.26 470.4,89.74 469.4,92.33 468.4,95.1 467.4,97.15 466.4,98.63 465.4,99.98 464.4,101.16 463.4,100.85 462.4,99.47 461.4,97.94 460.4,96.29 459.4,94.56 458.4,93.68 457.4,93.46 456.4,93.18 455.4,90.63 454.4,87.43 453.4,77.89 452.4,76.86 451.4,77.52 450.4,78.32 449.4,78.64 448.4,78.45 447.4,78.27 446.4,78.98 445.4,86.53 444.4,88.33 443.4,89.91 442.4,90.37 441.4,89.25 440.4,87.93 439.4,86.45 438.4,79.24 437.4,78.38 436.4,78.45 435.4,79.38 434.4,84.56 433.4,85.3 432.4,84.83 431.4,84.21 430.4,78.06 429.4,76.7 428.4,75.27 427.4,74.95 426.4,74.93 425.4,74.93 424.4,74.93 423.4,74.93"/>
<polygon fill="#eaeaea" points="423.4,74.93 424.4,74.93 425.4,74.93 426.4,74.93 427.4,74.95 428.4,75.27 429.4,76.7 430.4,78.06 431.4,84.21 432.4,84.83 433.4,85.3 434.4,84.56 435.4,79.38 436.4,78.45 437.4,78.38 438.4,79.24 439.4,86.45 440.4,87.93 441.4,89.25 442.4,90.37 443.4,89.91 444.4,88.33 445.4,86.53 446.4,78.98 447.4,78.27 448.4,78.45 449.4,78.64 450.4,78.32 451.4,77.52 452.4,76.86 453.4,77.89 454.4,87.43 455.4,90.63 456.4,93.18 457.4,93.46 458.4,93.68 459.4,94.56 460.4,96.29 461.4,97.94 462.4,99.47 463.4,100.85 464.4,101.16 465.4,99.98 466.4,98.63 467.4,97.15 468.4,95.1 469.4,92.33 470.4,89.74 471.4,90.26 472.4,91.51 473.4,92.92 474.4,94.17 475.4,92.8 476.4,90.85 477.4,88.73 478.4,87.01 479.4,85.89 480.4,79.09 481.4,77.93 482.4,76.58 483.4,74.86 484.4,73.34 485.4,71.98 486.4,70.85 487.4,71.61 488.4,72.49 489.4,73.16 490.4,71.9 491.4,70.53 492.4,69.23 493.4,68.86 494.4,69.35 495.4,69.67 496.4,68.66 497.4,66.76 498.4,64.86 499.4,63.06 500.4,61.53 501.4,60.21 502.4,59 503.4,58.35 504.4,58.11 505.4,57.91 506.4,57.72 507.4,57.55 508.4,57.45 509.4,58.22 510.4,59.45 511.4,60.79 512.4,62.23 513.4,63.77 514.4,65.41 515.4,67.03 516.4,68.46 517.4,68.98 518.4,67.2 519.4,65.25 520.4,63.41 521.4,62.43 522.4,64.02 523.4,65.78 524.4,67.3 525.4,66.26 526.4,64.01 527.4,61.77 528.4,60.57 529.4,60.77 530.4,61.03 531.4,60.59 532.4,60.11 533.4,59.8 534.4,61.49 535.4,63.39 536.4,65.25 537.4,65.74 538.4,64.79 539.4,63.64 540.4,62.54 541.4,62.1 542.4,61.73 543.4,61.37 544.4,61.05 545.4,60.74 546.4,60.5 547.4,61.09 548.4,62.2 549.4,63.18 550.4,63.28 551.4,60.98 552.4,58.51 553.4,56.17 554.4,54.64 555.4,53.55 556.4,52.56 557.4,51.62 558.4,50.8 559.4,51.06 560.4,51.86 561.4,52.66 562.4,53.35 563.4,53.29 564.4,51.85 565.4,50.31 566.4,48.83 567.4,47.43 568.4,46.1 569.4,44.95 570.4,45.63 571.4,46.44 572.4,47.18 573.4,47.53 574.4,46.18 575.4,44.67 576.4,43.2 577.4,41.8 578.4,40.44 579.4,39.15 580.4,38.49 581.4,38.72 582.4,38.9 583.4,37.74 584.4,36.36 585.4,35.02 586.4,33.84 587.4,33.39 588.4,33.03 589.4,32.68 590.4,32.38 591.4,32.59 592.4,33.51 593.4,34.01 594.4,33.55 595.4,33.03 596.4,32.75 597.4,32.8 598.4,32.88 599.4,32.96 600.4,33.01 601.4,33.02 602.4,33.03 603.4,33.03 603.4,29.37 602.4,29.36 601.4,29.35 600.4,29.33 599.4,29.28 598.4,29.2 597.4,29.12 596.4,29.07 595.4,29.35 594.4,29.87 593.4,30.32 592.4,29.82 591.4,28.9 590.4,28.69 589.4,28.99 588.4,29.34 587.4,29.71 586.4,30.16 585.4,31.36 584.4,32.73 583.4,34.14 582.4,35.34 581.4,35.21 580.4,35.02 579.4,35.71 578.4,37.02 577.4,38.39 576.4,39.83 575.4,41.35 574.4,42.92 573.4,44.33 572.4,44.02 571.4,43.3 570.4,42.5 569.4,41.82 568.4,42.98 567.4,44.32 566.4,45.74 565.4,47.27 564.4,48.88 563.4,50.39 562.4,50.5 561.4,49.84 560.4,49.04 559.4,48.25 558.4,47.98 557.4,48.81 556.4,49.76 555.4,50.77 554.4,51.9 553.4,53.49 552.4,55.91 551.4,58.45 550.4,60.85 549.4,60.85 548.4,59.93 547.4,58.85 546.4,58.28 545.4,58.52 544.4,58.83 543.4,59.17 542.4,59.54 541.4,59.94 540.4,60.4 539.4,61.51 538.4,62.65 537.4,63.57 536.4,63.04 535.4,61.15 534.4,59.23 533.4,57.54 532.4,57.85 531.4,58.33 530.4,58.78 529.4,58.53 528.4,58.34 527.4,59.56 526.4,61.81 525.4,64.09 524.4,65.16 523.4,63.68 522.4,61.92 521.4,60.34 520.4,61.32 519.4,63.18 518.4,65.16 517.4,66.96 516.4,66.45 515.4,64.97 514.4,63.27 513.4,61.54 512.4,59.91 511.4,58.42 510.4,57.05 509.4,55.81 508.4,55.03 507.4,55.13 506.4,55.31 505.4,55.5 504.4,55.7 503.4,55.96 502.4,56.62 501.4,57.86 500.4,59.21 499.4,60.8 498.4,62.68 497.4,64.69 496.4,66.71 495.4,67.85 494.4,67.64 493.4,67.23 492.4,67.64 491.4,68.95 490.4,70.35 489.4,71.64 488.4,71.01 487.4,70.17 486.4,69.42 485.4,70.57 484.4,71.95 483.4,73.54 482.4,75.38 481.4,76.95 480.4,78.39 479.4,86.88 478.4,88.26 477.4,90.14 476.4,92.34 475.4,94.33 474.4,95.7 473.4,94.46 472.4,93.08 471.4,91.88 470.4,91.45 469.4,94.15 468.4,97.02 467.4,99.15 466.4,100.68 465.4,102.04 464.4,103.23 463.4,102.92 462.4,101.53 461.4,99.97 460.4,98.26 459.4,96.44 458.4,95.44 457.4,95.09 456.4,94.69 455.4,92.06 454.4,88.77 453.4,77.16 452.4,76.12 451.4,76.78 450.4,77.61 449.4,77.97 448.4,77.84 447.4,77.7 446.4,78.46 445.4,87.6 444.4,89.47 443.4,91.07 442.4,91.53 441.4,90.41 440.4,89.06 439.4,87.49 438.4,78.72 437.4,77.85 436.4,77.92 435.4,78.84 434.4,85.08 433.4,85.81 432.4,85.34 431.4,84.69 430.4,77.15 429.4,75.73 428.4,74.28 427.4,73.96 426.4,73.93 425.4,73.93 424.4,73.93 423.4,73.93"/>
<polygon fill="#f4f4f4" points="423.4,73.93 424.4,73.93 425.4,73.93 426.4,73.93 427.4,73.96 428.4,74.28 429.4,75.73 430.4,77.15 431.4,84.69 432.4,85.34 433.4,85.81 434.4,85.08 435.4,78.84 436.4,77.92 437.4,77.85 438.4,78.72 439.4,87.49 440.4,89.06 441.4,90.41 442.4,91.53 443.4,91.07 444.4,89.47 445.4,87.6 446.4,78.46 447.4,77.7 448.4,77.84 449.4,77.97 450.4,77.61 451.4,76.78 452.4,76.12 453.4,77.16 454.4,88.77 455.4,92.06 456.4,94.69 457.4,95.09 458.4,95.44 459.4,96.44 460.4,98.26 461.4,99.97 462.4,101.53 463.4,102.92 464.4,103.23 465.4,102.04 466.4,100.68 467.4,99.15 468.4,97.02 469.4,94.15 470.4,91.45 471.4,91.88 472.4,93.08 473.4,94.46 474.4,95.7 475.4,94.33 476.4,92.34 477.4,90.14 478.4,88.26 479.4,86.88 480.4,78.39 481.4,76.95 482.4,75.38 483.4,73.54 484.4,71.95 485.4,70.57 486.4,69.42 487.4,70.17 488.4,71.01 489.4,71.64 490.4,70.35 491.4,68.95 492.4,67.64 493.4,67.23 494.4,67.64 495.4,67.85 496.4,66.71 497.4,64.69 498.4,62.68 499.4,60.8 500.4,59.21 501.4,57.86 502.4,56.62 503.4,55.96 504.4,55.7 505.4,55.5 506.4,55.31 507.4,55.13 508.4,55.03 509.4,55.81 510.4,57.05 511.4,58.42 512.4,59.91 513.4,61.54 514.4,63.27 515.4,64.97 516.4,66.45 517.4,66.96 518.4,65.16 519.4,63.18 520.4,61.32 521.4,60.34 522.4,61.92 523.4,63.68 524.4,65.16 525.4,64.09 526.4,61.81 527.4,59.56 528.4,58.34 529.4,58.53 530.4,58.78 531.4,58.33 532.4,57.85 533.4,57.54 534.4,59.23 535.4,61.15 536.4,63.04 537.4,63.57 538.4,62.65 539.4,61.51 540.4,60.4 541.4,59.94 542.4,59.54 543.4,59.17 544.4,58.83 545.4,58.52 546.4,58.28 547.4,58.85 548.4,59.93 549.4,60.85 550.4,60.85 551.4,58.45 552.4,55.91 553.4,53.49 554.4,51.9 555.4,50.77 556.4,49.76 557.4,48.81 558.4,47.98 559.4,48.25 560.4,49.04 561.4,49.84 562.4,50.5 563.4,50.39 564.4,48.88 565.4,47.27 566.4,45.74 567.4,44.32 568.4,42.98 569.4,41.82 570.4,42.5 571.4,43.3 572.4,44.02 573.4,44.33 574.4,42.92 575.4,41.35 576.4,39.83 577.4,38.39 578.4,37.02 579.4,35.71 580.4,35.02 581.4,35.21 582.4,35.34 583.4,34.14 584.4,32.73 585.4,31.36 586.4,30.16 587.4,29.71 588.4,29.34 589.4,28.99 590.4,28.69 591.4,28.9 592.4,29.82 593.4,30.32 594.4,29.87 595.4,29.35 596.4,29.07 597.4,29.12 598.4,29.2 599.4,29.28 600.4,29.33 601.4,29.35 602.4,29.36 603.4,29.37 603.4,25.7 602.4,25.69 601.4,25.68 600.4,25.66 599.4,25.61 598.4,25.53 597.4,25.45 596.4,25.39 595.4,25.67 594.4,26.18 593.4,26.63 592.4,26.13 591.4,25.21 590.4,24.99 589.4,25.3 588.4,25.65 587.4,26.03 586.4,26.49 585.4,27.7 584.4,29.09 583.4,30.54 582.4,31.78 581.4,31.7 580.4,31.55 579.4,32.27 578.4,33.6 577.4,34.99 576.4,36.47 575.4,38.04 574.4,39.66 573.4,41.13 572.4,40.86 571.4,40.16 570.4,39.37 569.4,38.7 568.4,39.85 567.4,41.21 566.4,42.66 565.4,44.24 564.4,45.92 563.4,47.49 562.4,47.65 561.4,47.01 560.4,46.23 559.4,45.43 558.4,45.17 557.4,46 556.4,46.95 555.4,47.99 554.4,49.16 553.4,50.81 552.4,53.3 551.4,55.93 550.4,58.43 549.4,58.51 548.4,57.66 547.4,56.62 546.4,56.06 545.4,56.3 544.4,56.62 543.4,56.96 542.4,57.35 541.4,57.77 540.4,58.25 539.4,59.38 538.4,60.52 537.4,61.41 536.4,60.83 535.4,58.91 534.4,56.98 533.4,55.27 532.4,55.58 531.4,56.07 530.4,56.53 529.4,56.29 528.4,56.12 527.4,57.35 526.4,59.62 525.4,61.92 524.4,63.02 523.4,61.57 522.4,59.83 521.4,58.25 520.4,59.24 519.4,61.11 518.4,63.12 517.4,64.95 516.4,64.43 515.4,62.91 514.4,61.13 513.4,59.3 512.4,57.59 511.4,56.04 510.4,54.65 509.4,53.39 508.4,52.61 507.4,52.71 506.4,52.89 505.4,53.08 504.4,53.3 503.4,53.57 502.4,54.24 501.4,55.5 500.4,56.9 499.4,58.54 498.4,60.5 497.4,62.62 496.4,64.76 495.4,66.03 494.4,65.93 493.4,65.59 492.4,66.04 491.4,67.37 490.4,68.79 489.4,70.12 488.4,69.53 487.4,68.72 486.4,67.99 485.4,69.15 484.4,70.57 483.4,72.22 482.4,74.19 481.4,75.96 480.4,77.68 479.4,87.88 478.4,89.52 477.4,91.55 476.4,93.83 475.4,95.85 474.4,97.24 473.4,96.01 472.4,94.65 471.4,93.5 470.4,93.16 469.4,95.97 468.4,98.95 467.4,101.16 466.4,102.73 465.4,104.11 464.4,105.31 463.4,104.99 462.4,103.59 461.4,102.01 460.4,100.24 459.4,98.32 458.4,97.19 457.4,96.71 456.4,96.2 455.4,93.49 454.4,90.12 453.4,76.43 452.4,75.37 451.4,76.05 450.4,76.89 449.4,77.3 448.4,77.22 447.4,77.14 446.4,77.93 445.4,88.67 444.4,90.61 443.4,92.23 442.4,92.7 441.4,91.56 440.4,90.18 439.4,88.54 438.4,78.2 437.4,77.32 436.4,77.39 435.4,78.31 434.4,85.6 433.4,86.32 432.4,85.84 431.4,85.16 430.4,76.24 429.4,74.77 428.4,73.3 427.4,72.97 426.4,72.94 425.4,72.94 424.4,72.94 423.4,72.94"/>
</g></g>
<g clip-path="url(#ca2)" fill="none" stroke-linejoin="round">
<line x1="427.4" y1="81.9" x2="599.9" y2="81.9" stroke="#333" stroke-width="1.6"/>
<polyline stroke="#e41a1c" stroke-width="1.4" points="423.4,81.33 424.4,81.33 425.4,81.33 426.4,81.33 427.4,81.33 428.4,81.39 429.4,81.65 430.4,81.86 431.4,81.97 432.4,82.07 433.4,82.16 434.4,82.01 435.4,81.82 436.4,81.65 437.4,81.63 438.4,81.79 439.4,81.97 440.4,82.19 441.4,82.42 442.4,82.62 443.4,82.54 444.4,82.26 445.4,81.97 446.4,81.75 447.4,81.64 448.4,81.71 449.4,81.79 450.4,81.76 451.4,81.63 452.4,81.51 453.4,81.69 454.4,81.93 455.4,82.47 456.4,82.89 457.4,82.86 458.4,82.81 459.4,82.88 460.4,83.13 461.4,83.4 462.4,83.67 463.4,83.93 464.4,83.98 465.4,83.76 466.4,83.52 467.4,83.27 468.4,82.94 469.4,82.5 470.4,82.09 471.4,82.26 472.4,82.54 473.4,82.82 474.4,83.06 475.4,82.81 476.4,82.46 477.4,82.12 478.4,81.92 479.4,81.9 480.4,81.9 481.4,81.89 482.4,81.79 483.4,81.57 484.4,81.33 485.4,81.09 486.4,80.89 487.4,81.05 488.4,81.23 489.4,81.39 490.4,81.18 491.4,80.94 492.4,80.71 493.4,80.67 494.4,80.82 495.4,80.96 496.4,80.86 497.4,80.6 498.4,80.32 499.4,80.04 500.4,79.79 501.4,79.57 502.4,79.36 503.4,79.25 504.4,79.21 505.4,79.18 506.4,79.14 507.4,79.11 508.4,79.09 509.4,79.24 510.4,79.46 511.4,79.69 512.4,79.92 513.4,80.16 514.4,80.39 515.4,80.64 516.4,80.88 517.4,80.98 518.4,80.66 519.4,80.31 520.4,79.97 521.4,79.79 522.4,80.09 523.4,80.44 524.4,80.75 525.4,80.58 526.4,80.17 527.4,79.76 528.4,79.54 529.4,79.59 530.4,79.65 531.4,79.57 532.4,79.48 533.4,79.42 534.4,79.74 535.4,80.09 536.4,80.41 537.4,80.48 538.4,80.27 539.4,80.05 540.4,79.85 541.4,79.79 542.4,79.73 543.4,79.68 544.4,79.62 545.4,79.56 546.4,79.52 547.4,79.64 548.4,79.88 549.4,80.12 550.4,80.21 551.4,79.84 552.4,79.44 553.4,79.05 554.4,78.8 555.4,78.63 556.4,78.46 557.4,78.28 558.4,78.13 559.4,78.18 560.4,78.33 561.4,78.49 562.4,78.64 563.4,78.67 564.4,78.45 565.4,78.2 566.4,77.96 567.4,77.71 568.4,77.47 569.4,77.26 570.4,77.39 571.4,77.55 572.4,77.71 573.4,77.8 574.4,77.59 575.4,77.35 576.4,77.11 577.4,76.86 578.4,76.62 579.4,76.39 580.4,76.29 581.4,76.37 582.4,76.44 583.4,76.25 584.4,76.01 585.4,75.77 586.4,75.56 587.4,75.48 588.4,75.42 589.4,75.35 590.4,75.3 591.4,75.34 592.4,75.51 593.4,75.6 594.4,75.51 595.4,75.41 596.4,75.36 597.4,75.37 598.4,75.38 599.4,75.39 600.4,75.4 601.4,75.4 602.4,75.4 603.4,75.4"/>
<polyline stroke="#4daf4a" stroke-width="1.4" points="423.4,80.91 424.4,80.91 425.4,80.91 426.4,80.91 427.4,80.92 428.4,81.01 429.4,81.46 430.4,81.84 431.4,82.03 432.4,82.2 433.4,82.34 434.4,82.09 435.4,81.77 436.4,81.46 437.4,81.44 438.4,81.7 439.4,82.02 440.4,82.41 441.4,82.8 442.4,83.16 443.4,83.01 444.4,82.52 445.4,82.01 446.4,81.63 447.4,81.44 448.4,81.57 449.4,81.71 450.4,81.66 451.4,81.42 452.4,81.22 453.4,81.54 454.4,81.95 455.4,82.89 456.4,83.63 457.4,83.57 458.4,83.47 459.4,83.6 460.4,84.04 461.4,84.51 462.4,84.98 463.4,85.42 464.4,85.52 465.4,85.14 466.4,84.72 467.4,84.29 468.4,83.71 469.4,82.94 470.4,82.23 471.4,82.52 472.4,83.01 473.4,83.5 474.4,83.92 475.4,83.49 476.4,82.88 477.4,82.29 478.4,81.93 479.4,81.9 480.4,81.9 481.4,81.89 482.4,81.72 483.4,81.32 484.4,80.91 485.4,80.5 486.4,80.14 487.4,80.42 488.4,80.74 489.4,81.02 490.4,80.65 491.4,80.23 492.4,79.83 493.4,79.76 494.4,80.02 495.4,80.27 496.4,80.1 497.4,79.64 498.4,79.15 499.4,78.67 500.4,78.24 501.4,77.85 502.4,77.48 503.4,77.29 504.4,77.22 505.4,77.17 506.4,77.11 507.4,77.06 508.4,77.02 509.4,77.27 510.4,77.67 511.4,78.07 512.4,78.47 513.4,78.87 514.4,79.29 515.4,79.71 516.4,80.12 517.4,80.3 518.4,79.75 519.4,79.14 520.4,78.55 521.4,78.23 522.4,78.76 523.4,79.37 524.4,79.9 525.4,79.6 526.4,78.89 527.4,78.18 528.4,77.8 529.4,77.88 530.4,77.99 531.4,77.85 532.4,77.7 533.4,77.6 534.4,78.15 535.4,78.75 536.4,79.32 537.4,79.43 538.4,79.07 539.4,78.69 540.4,78.35 541.4,78.23 542.4,78.13 543.4,78.04 544.4,77.94 545.4,77.84 546.4,77.77 547.4,77.98 548.4,78.39 549.4,78.8 550.4,78.96 551.4,78.32 552.4,77.63 553.4,76.95 554.4,76.52 555.4,76.21 556.4,75.92 557.4,75.62 558.4,75.35 559.4,75.44 560.4,75.71 561.4,75.98 562.4,76.25 563.4,76.29 564.4,75.9 565.4,75.48 566.4,75.05 567.4,74.63 568.4,74.21 569.4,73.83 570.4,74.06 571.4,74.34 572.4,74.61 573.4,74.78 574.4,74.41 575.4,73.99 576.4,73.57 577.4,73.15 578.4,72.74 579.4,72.33 580.4,72.15 581.4,72.29 582.4,72.41 583.4,72.08 584.4,71.67 585.4,71.26 586.4,70.89 587.4,70.75 588.4,70.64 589.4,70.53 590.4,70.43 591.4,70.5 592.4,70.8 593.4,70.96 594.4,70.81 595.4,70.63 596.4,70.53 597.4,70.55 598.4,70.58 599.4,70.6 600.4,70.61 601.4,70.61 602.4,70.61 603.4,70.61"/>
<polyline stroke="#377eb8" stroke-width="1.4" points="423.4,80.55 424.4,80.55 425.4,80.55 426.4,80.55 427.4,80.56 428.4,80.69 429.4,81.3 430.4,81.82 431.4,82.07 432.4,82.31 433.4,82.51 434.4,82.16 435.4,81.72 436.4,81.3 437.4,81.27 438.4,81.63 439.4,82.07 440.4,82.6 441.4,83.13 442.4,83.61 443.4,83.42 444.4,82.75 445.4,82.05 446.4,81.53 447.4,81.28 448.4,81.45 449.4,81.64 450.4,81.57 451.4,81.25 452.4,80.97 453.4,81.41 454.4,81.96 455.4,83.25 456.4,84.25 457.4,84.18 458.4,84.04 459.4,84.22 460.4,84.82 461.4,85.46 462.4,86.1 463.4,86.7 464.4,86.84 465.4,86.32 466.4,85.74 467.4,85.15 468.4,84.37 469.4,83.31 470.4,82.35 471.4,82.75 472.4,83.41 473.4,84.08 474.4,84.66 475.4,84.06 476.4,83.24 477.4,82.43 478.4,81.94 479.4,81.9 480.4,81.9 481.4,81.88 482.4,81.65 483.4,81.11 484.4,80.55 485.4,79.99 486.4,79.5 487.4,79.88 488.4,80.32 489.4,80.7 490.4,80.2 491.4,79.62 492.4,79.07 493.4,78.98 494.4,79.33 495.4,79.67 496.4,79.45 497.4,78.81 498.4,78.15 499.4,77.49 500.4,76.91 501.4,76.38 502.4,75.87 503.4,75.61 504.4,75.52 505.4,75.45 506.4,75.37 507.4,75.29 508.4,75.25 509.4,75.59 510.4,76.13 511.4,76.67 512.4,77.22 513.4,77.77 514.4,78.34 515.4,78.92 516.4,79.48 517.4,79.72 518.4,78.97 519.4,78.13 520.4,77.33 521.4,76.9 522.4,77.62 523.4,78.45 524.4,79.18 525.4,78.77 526.4,77.8 527.4,76.82 528.4,76.3 529.4,76.42 530.4,76.56 531.4,76.38 532.4,76.17 533.4,76.03 534.4,76.78 535.4,77.61 536.4,78.38 537.4,78.53 538.4,78.05 539.4,77.52 540.4,77.05 541.4,76.9 542.4,76.76 543.4,76.63 544.4,76.5 545.4,76.37 546.4,76.27 547.4,76.56 548.4,77.12 549.4,77.68 550.4,77.89 551.4,77.02 552.4,76.07 553.4,75.15 554.4,74.56 555.4,74.15 556.4,73.74 557.4,73.34 558.4,72.97 559.4,73.09 560.4,73.45 561.4,73.83 562.4,74.19 563.4,74.25 564.4,73.72 565.4,73.14 566.4,72.57 567.4,71.99 568.4,71.41 569.4,70.9 570.4,71.21 571.4,71.59 572.4,71.97 573.4,72.2 574.4,71.69 575.4,71.12 576.4,70.55 577.4,69.97 578.4,69.4 579.4,68.86 580.4,68.61 581.4,68.79 582.4,68.96 583.4,68.51 584.4,67.95 585.4,67.38 586.4,66.88 587.4,66.7 588.4,66.55 589.4,66.4 590.4,66.26 591.4,66.36 592.4,66.76 593.4,66.99 594.4,66.77 595.4,66.53 596.4,66.4 597.4,66.42 598.4,66.46 599.4,66.49 600.4,66.51 601.4,66.51 602.4,66.51 603.4,66.51"/>
<polyline stroke="#ff7f00" stroke-width="1.4" points="423.4,80.01 424.4,80.01 425.4,80.01 426.4,80.01 427.4,80.02 428.4,80.21 429.4,81.06 430.4,81.78 431.4,82.14 432.4,82.48 433.4,82.75 434.4,82.27 435.4,81.65 436.4,81.06 437.4,81.02 438.4,81.52 439.4,82.14 440.4,82.87 441.4,83.62 442.4,84.3 443.4,84.03 444.4,83.09 445.4,82.12 446.4,81.39 447.4,81.03 448.4,81.27 449.4,81.54 450.4,81.44 451.4,80.99 452.4,80.6 453.4,81.21 454.4,81.99 455.4,83.79 456.4,85.2 457.4,85.09 458.4,84.9 459.4,85.14 460.4,85.99 461.4,86.88 462.4,87.78 463.4,88.62 464.4,88.81 465.4,88.08 466.4,87.28 467.4,86.46 468.4,85.36 469.4,83.88 470.4,82.53 471.4,83.08 472.4,84.01 473.4,84.96 474.4,85.76 475.4,84.93 476.4,83.77 477.4,82.64 478.4,81.95 479.4,81.9 480.4,81.9 481.4,81.88 482.4,81.55 483.4,80.8 484.4,80.01 485.4,79.22 486.4,78.54 487.4,79.07 488.4,79.69 489.4,80.22 490.4,79.51 491.4,78.71 492.4,77.94 493.4,77.81 494.4,78.3 495.4,78.78 496.4,78.46 497.4,77.58 498.4,76.65 499.4,75.73 500.4,74.91 501.4,74.17 502.4,73.46 503.4,73.1 504.4,72.97 505.4,72.87 506.4,72.76 507.4,72.65 508.4,72.59 509.4,73.07 510.4,73.82 511.4,74.58 512.4,75.35 513.4,76.11 514.4,76.91 515.4,77.72 516.4,78.51 517.4,78.84 518.4,77.79 519.4,76.63 520.4,75.5 521.4,74.89 522.4,75.91 523.4,77.06 524.4,78.09 525.4,77.52 526.4,76.16 527.4,74.79 528.4,74.07 529.4,74.23 530.4,74.43 531.4,74.17 532.4,73.88 533.4,73.69 534.4,74.74 535.4,75.89 536.4,76.97 537.4,77.18 538.4,76.5 539.4,75.77 540.4,75.11 541.4,74.89 542.4,74.71 543.4,74.53 544.4,74.34 545.4,74.16 546.4,74.02 547.4,74.42 548.4,75.2 549.4,75.99 550.4,76.28 551.4,75.07 552.4,73.74 553.4,72.45 554.4,71.63 555.4,71.05 556.4,70.48 557.4,69.91 558.4,69.4 559.4,69.57 560.4,70.07 561.4,70.6 562.4,71.1 563.4,71.19 564.4,70.45 565.4,69.64 566.4,68.83 567.4,68.02 568.4,67.21 569.4,66.5 570.4,66.94 571.4,67.47 572.4,67.99 573.4,68.31 574.4,67.6 575.4,66.8 576.4,66 577.4,65.2 578.4,64.4 579.4,63.64 580.4,63.29 581.4,63.55 582.4,63.78 583.4,63.16 584.4,62.37 585.4,61.58 586.4,60.87 587.4,60.62 588.4,60.41 589.4,60.19 590.4,60 591.4,60.14 592.4,60.71 593.4,61.02 594.4,60.72 595.4,60.39 596.4,60.2 597.4,60.23 598.4,60.28 599.4,60.33 600.4,60.35 601.4,60.35 602.4,60.35 603.4,60.35"/>
<polyline stroke="#984ea3" stroke-width="1.4" points="423.4,79.56 424.4,79.56 425.4,79.56 426.4,79.56 427.4,79.57 428.4,79.81 429.4,80.86 430.4,81.75 431.4,82.2 432.4,82.62 433.4,82.95 434.4,82.36 435.4,81.59 436.4,80.86 437.4,80.81 438.4,81.43 439.4,82.19 440.4,83.11 441.4,84.03 442.4,84.87 443.4,84.53 444.4,83.37 445.4,82.17 446.4,81.27 447.4,80.82 448.4,81.12 449.4,81.45 450.4,81.33 451.4,80.78 452.4,80.29 453.4,81.04 454.4,82.01 455.4,84.24 456.4,85.98 457.4,85.86 458.4,85.62 459.4,85.91 460.4,86.96 461.4,88.07 462.4,89.18 463.4,90.22 464.4,90.46 465.4,89.56 466.4,88.56 467.4,87.54 468.4,86.18 469.4,84.35 470.4,82.68 471.4,83.37 472.4,84.51 473.4,85.68 474.4,86.68 475.4,85.65 476.4,84.22 477.4,82.81 478.4,81.96 479.4,81.9 480.4,81.9 481.4,81.87 482.4,81.47 483.4,80.53 484.4,79.56 485.4,78.59 486.4,77.74 487.4,78.39 488.4,79.17 489.4,79.82 490.4,78.95 491.4,77.94 492.4,77 493.4,76.84 494.4,77.45 495.4,78.04 496.4,77.65 497.4,76.55 498.4,75.4 499.4,74.26 500.4,73.25 501.4,72.33 502.4,71.46 503.4,71 504.4,70.85 505.4,70.71 506.4,70.58 507.4,70.45 508.4,70.37 509.4,70.97 510.4,71.89 511.4,72.84 512.4,73.79 513.4,74.74 514.4,75.72 515.4,76.73 516.4,77.7 517.4,78.12 518.4,76.81 519.4,75.37 520.4,73.97 521.4,73.23 522.4,74.49 523.4,75.91 524.4,77.18 525.4,76.47 526.4,74.79 527.4,73.1 528.4,72.2 529.4,72.4 530.4,72.65 531.4,72.33 532.4,71.97 533.4,71.73 534.4,73.03 535.4,74.46 536.4,75.8 537.4,76.05 538.4,75.22 539.4,74.31 540.4,73.5 541.4,73.23 542.4,73 543.4,72.77 544.4,72.54 545.4,72.31 546.4,72.14 547.4,72.64 548.4,73.61 549.4,74.58 550.4,74.94 551.4,73.45 552.4,71.8 553.4,70.2 554.4,69.18 555.4,68.46 556.4,67.76 557.4,67.06 558.4,66.42 559.4,66.63 560.4,67.26 561.4,67.91 562.4,68.53 563.4,68.64 564.4,67.73 565.4,66.72 566.4,65.72 567.4,64.72 568.4,63.71 569.4,62.83 570.4,63.37 571.4,64.03 572.4,64.68 573.4,65.08 574.4,64.2 575.4,63.21 576.4,62.22 577.4,61.23 578.4,60.24 579.4,59.29 580.4,58.87 581.4,59.18 582.4,59.47 583.4,58.7 584.4,57.72 585.4,56.74 586.4,55.87 587.4,55.56 588.4,55.29 589.4,55.02 590.4,54.79 591.4,54.96 592.4,55.67 593.4,56.05 594.4,55.68 595.4,55.26 596.4,55.04 597.4,55.07 598.4,55.13 599.4,55.19 600.4,55.22 601.4,55.22 602.4,55.22 603.4,55.22"/>
<polyline stroke="#111" stroke-width="1.5" stroke-dasharray="3.8,3.4" points="423.4,81.8 424.4,81.8 425.4,81.8 426.4,81.8 427.4,81.8 428.4,81.81 429.4,81.85 430.4,81.89 431.4,81.91 432.4,81.93 433.4,81.95 434.4,81.92 435.4,81.89 436.4,81.85 437.4,81.85 438.4,81.88 439.4,81.91 440.4,81.95 441.4,82 442.4,82.03 443.4,82.02 444.4,81.97 445.4,81.91 446.4,81.87 447.4,81.85 448.4,81.87 449.4,81.88 450.4,81.87 451.4,81.85 452.4,81.83 453.4,81.86 454.4,81.9 455.4,82.01 456.4,82.08 457.4,82.08 458.4,82.07 459.4,82.08 460.4,82.13 461.4,82.18 462.4,82.23 463.4,82.27 464.4,82.28 465.4,82.24 466.4,82.2 467.4,82.15 468.4,82.09 469.4,82.01 470.4,81.93 471.4,81.97 472.4,82.02 473.4,82.07 474.4,82.11 475.4,82.07 476.4,82 477.4,81.94 478.4,81.9 479.4,81.9 480.4,81.9 481.4,81.9 482.4,81.88 483.4,81.84 484.4,81.8 485.4,81.75 486.4,81.71 487.4,81.74 488.4,81.78 489.4,81.81 490.4,81.77 491.4,81.72 492.4,81.68 493.4,81.67 494.4,81.7 495.4,81.73 496.4,81.71 497.4,81.66 498.4,81.61 499.4,81.56 500.4,81.51 501.4,81.47 502.4,81.43 503.4,81.41 504.4,81.4 505.4,81.4 506.4,81.39 507.4,81.39 508.4,81.38 509.4,81.41 510.4,81.45 511.4,81.49 512.4,81.54 513.4,81.58 514.4,81.62 515.4,81.67 516.4,81.71 517.4,81.73 518.4,81.67 519.4,81.61 520.4,81.54 521.4,81.51 522.4,81.57 523.4,81.63 524.4,81.69 525.4,81.66 526.4,81.58 527.4,81.51 528.4,81.46 529.4,81.47 530.4,81.48 531.4,81.47 532.4,81.45 533.4,81.44 534.4,81.5 535.4,81.57 536.4,81.63 537.4,81.64 538.4,81.6 539.4,81.56 540.4,81.52 541.4,81.51 542.4,81.5 543.4,81.49 544.4,81.48 545.4,81.47 546.4,81.46 547.4,81.48 548.4,81.53 549.4,81.57 550.4,81.59 551.4,81.52 552.4,81.45 553.4,81.37 554.4,81.33 555.4,81.3 556.4,81.27 557.4,81.23 558.4,81.21 559.4,81.21 560.4,81.24 561.4,81.27 562.4,81.3 563.4,81.31 564.4,81.26 565.4,81.22 566.4,81.17 567.4,81.13 568.4,81.08 569.4,81.04 570.4,81.07 571.4,81.1 572.4,81.13 573.4,81.15 574.4,81.11 575.4,81.06 576.4,81.02 577.4,80.97 578.4,80.93 579.4,80.89 580.4,80.87 581.4,80.88 582.4,80.89 583.4,80.86 584.4,80.81 585.4,80.77 586.4,80.73 587.4,80.72 588.4,80.71 589.4,80.69 590.4,80.68 591.4,80.69 592.4,80.72 593.4,80.74 594.4,80.72 595.4,80.7 596.4,80.69 597.4,80.7 598.4,80.7 599.4,80.7 600.4,80.7 601.4,80.7 602.4,80.7 603.4,80.7"/>
<polyline stroke="#111" stroke-width="1.5" stroke-dasharray="3.8,3.4" points="423.4,78.9 424.4,78.9 425.4,78.9 426.4,78.9 427.4,78.92 428.4,79.22 429.4,80.56 430.4,81.71 431.4,82.29 432.4,82.82 433.4,83.25 434.4,82.49 435.4,81.5 436.4,80.57 437.4,80.5 438.4,81.3 439.4,82.27 440.4,83.45 441.4,84.64 442.4,85.7 443.4,85.28 444.4,83.79 445.4,82.24 446.4,81.09 447.4,80.52 448.4,80.9 449.4,81.32 450.4,81.18 451.4,80.46 452.4,79.83 453.4,80.8 454.4,82.04 455.4,84.91 456.4,87.13 457.4,86.97 458.4,86.67 459.4,87.05 460.4,88.39 461.4,89.81 462.4,91.23 463.4,92.57 464.4,92.87 465.4,91.71 466.4,90.44 467.4,89.13 468.4,87.39 469.4,85.04 470.4,82.89 471.4,83.78 472.4,85.25 473.4,86.75 474.4,88.03 475.4,86.7 476.4,84.87 477.4,83.07 478.4,81.98 479.4,81.9 480.4,81.9 481.4,81.86 482.4,81.35 483.4,80.15 484.4,78.9 485.4,77.65 486.4,76.56 487.4,77.4 488.4,78.4 489.4,79.23 490.4,78.11 491.4,76.83 492.4,75.62 493.4,75.41 494.4,76.19 495.4,76.95 496.4,76.45 497.4,75.04 498.4,73.57 499.4,72.1 500.4,70.81 501.4,69.63 502.4,68.51 503.4,67.93 504.4,67.73 505.4,67.56 506.4,67.39 507.4,67.22 508.4,67.12 509.4,67.88 510.4,69.07 511.4,70.28 512.4,71.5 513.4,72.72 514.4,73.98 515.4,75.27 516.4,76.52 517.4,77.05 518.4,75.38 519.4,73.53 520.4,71.73 521.4,70.78 522.4,72.39 523.4,74.22 524.4,75.84 525.4,74.94 526.4,72.79 527.4,70.62 528.4,69.46 529.4,69.73 530.4,70.04 531.4,69.63 532.4,69.17 533.4,68.87 534.4,70.53 535.4,72.36 536.4,74.08 537.4,74.4 538.4,73.34 539.4,72.17 540.4,71.13 541.4,70.78 542.4,70.49 543.4,70.19 544.4,69.9 545.4,69.61 546.4,69.39 547.4,70.02 548.4,71.27 549.4,72.52 550.4,72.98 551.4,71.06 552.4,68.95 553.4,66.9 554.4,65.6 555.4,64.67 556.4,63.77 557.4,62.87 558.4,62.06 559.4,62.33 560.4,63.13 561.4,63.97 562.4,64.77 563.4,64.91 564.4,63.73 565.4,62.44 566.4,61.16 567.4,59.87 568.4,58.59 569.4,57.45 570.4,58.15 571.4,58.99 572.4,59.82 573.4,60.34 574.4,59.2 575.4,57.94 576.4,56.67 577.4,55.4 578.4,54.13 579.4,52.91 580.4,52.37 581.4,52.77 582.4,53.14 583.4,52.15 584.4,50.9 585.4,49.64 586.4,48.53 587.4,48.13 588.4,47.79 589.4,47.44 590.4,47.14 591.4,47.36 592.4,48.27 593.4,48.76 594.4,48.28 595.4,47.75 596.4,47.46 597.4,47.51 598.4,47.58 599.4,47.66 600.4,47.7 601.4,47.7 602.4,47.7 603.4,47.7"/>
</g>
<rect x="427.4" y="15.4" width="172.5" height="164.9" fill="none" stroke="#222" stroke-width="1.1"/>
<line x1="425.8" y1="173.88" x2="427.4" y2="173.88" stroke="#222" stroke-width="0.9"/><line x1="425.8" y1="166.34" x2="427.4" y2="166.34" stroke="#222" stroke-width="0.9"/><line x1="425.8" y1="160.48" x2="427.4" y2="160.48" stroke="#222" stroke-width="0.9"/><line x1="425.8" y1="155.7" x2="427.4" y2="155.7" stroke="#222" stroke-width="0.9"/><line x1="425.8" y1="151.66" x2="427.4" y2="151.66" stroke="#222" stroke-width="0.9"/><line x1="425.8" y1="148.15" x2="427.4" y2="148.15" stroke="#222" stroke-width="0.9"/><line x1="425.8" y1="145.06" x2="427.4" y2="145.06" stroke="#222" stroke-width="0.9"/><line x1="424.4" y1="142.3" x2="427.4" y2="142.3" stroke="#222" stroke-width="0.9"/><line x1="425.8" y1="124.12" x2="427.4" y2="124.12" stroke="#222" stroke-width="0.9"/><line x1="425.8" y1="113.48" x2="427.4" y2="113.48" stroke="#222" stroke-width="0.9"/><line x1="425.8" y1="105.94" x2="427.4" y2="105.94" stroke="#222" stroke-width="0.9"/><line x1="425.8" y1="100.08" x2="427.4" y2="100.08" stroke="#222" stroke-width="0.9"/><line x1="425.8" y1="95.3" x2="427.4" y2="95.3" stroke="#222" stroke-width="0.9"/><line x1="425.8" y1="91.26" x2="427.4" y2="91.26" stroke="#222" stroke-width="0.9"/><line x1="425.8" y1="87.75" x2="427.4" y2="87.75" stroke="#222" stroke-width="0.9"/><line x1="425.8" y1="84.66" x2="427.4" y2="84.66" stroke="#222" stroke-width="0.9"/><line x1="424.4" y1="81.9" x2="427.4" y2="81.9" stroke="#222" stroke-width="0.9"/><line x1="425.8" y1="63.72" x2="427.4" y2="63.72" stroke="#222" stroke-width="0.9"/><line x1="425.8" y1="53.08" x2="427.4" y2="53.08" stroke="#222" stroke-width="0.9"/><line x1="425.8" y1="45.54" x2="427.4" y2="45.54" stroke="#222" stroke-width="0.9"/><line x1="425.8" y1="39.68" x2="427.4" y2="39.68" stroke="#222" stroke-width="0.9"/><line x1="425.8" y1="34.9" x2="427.4" y2="34.9" stroke="#222" stroke-width="0.9"/><line x1="425.8" y1="30.86" x2="427.4" y2="30.86" stroke="#222" stroke-width="0.9"/><line x1="425.8" y1="27.35" x2="427.4" y2="27.35" stroke="#222" stroke-width="0.9"/><line x1="425.8" y1="24.26" x2="427.4" y2="24.26" stroke="#222" stroke-width="0.9"/><line x1="424.4" y1="21.5" x2="427.4" y2="21.5" stroke="#222" stroke-width="0.9"/><text transform="translate(421,20.9) rotate(-90)" text-anchor="middle" font-size="7.3" fill="#222" textLength="7.6" lengthAdjust="spacingAndGlyphs">10</text><text transform="translate(421,81.9) rotate(-90)" text-anchor="middle" font-size="7.3" fill="#222">1</text><text transform="translate(421,142.3) rotate(-90)" text-anchor="middle" font-size="7.3" fill="#222">0.1</text>
<line x1="452.2" y1="180.3" x2="452.2" y2="182.9" stroke="#222" stroke-width="0.9"/>
<text x="452.2" y="193.9" text-anchor="middle" font-size="8" textLength="15.8" lengthAdjust="spacingAndGlyphs" fill="#222">1900</text>
<line x1="478.34" y1="180.3" x2="478.34" y2="182.9" stroke="#222" stroke-width="0.9"/>
<text x="478.34" y="193.9" text-anchor="middle" font-size="8" textLength="15.8" lengthAdjust="spacingAndGlyphs" fill="#222">1920</text>
<line x1="504.48" y1="180.3" x2="504.48" y2="182.9" stroke="#222" stroke-width="0.9"/>
<text x="504.48" y="193.9" text-anchor="middle" font-size="8" textLength="15.8" lengthAdjust="spacingAndGlyphs" fill="#222">1940</text>
<line x1="530.62" y1="180.3" x2="530.62" y2="182.9" stroke="#222" stroke-width="0.9"/>
<text x="530.62" y="193.9" text-anchor="middle" font-size="8" textLength="15.8" lengthAdjust="spacingAndGlyphs" fill="#222">1960</text>
<line x1="556.76" y1="180.3" x2="556.76" y2="182.9" stroke="#222" stroke-width="0.9"/>
<text x="556.76" y="193.9" text-anchor="middle" font-size="8" textLength="15.8" lengthAdjust="spacingAndGlyphs" fill="#222">1980</text>
<line x1="582.9" y1="180.3" x2="582.9" y2="182.9" stroke="#222" stroke-width="0.9"/>
<text x="582.9" y="193.9" text-anchor="middle" font-size="8" textLength="15.8" lengthAdjust="spacingAndGlyphs" fill="#222">2000</text>
<text x="513.65" y="7.8" text-anchor="middle" font-size="9.8" fill="#111">MED</text>
<line x1="433.7" y1="123.9" x2="449" y2="123.9" stroke="#e41a1c" stroke-width="1.2"/>
<text x="455.4" y="126.8" font-size="7.9" fill="#222">CRU</text>
<line x1="433.7" y1="133.26" x2="449" y2="133.26" stroke="#377eb8" stroke-width="1.2"/>
<text x="455.4" y="136.16" font-size="7.9" fill="#222">E-OBS</text>
<line x1="433.7" y1="142.62" x2="449" y2="142.62" stroke="#4daf4a" stroke-width="1.2"/>
<text x="455.4" y="145.52" font-size="7.9" fill="#222">GPCC</text>
<line x1="433.7" y1="151.98" x2="449" y2="151.98" stroke="#984ea3" stroke-width="1.2"/>
<text x="455.4" y="154.88" font-size="7.9" fill="#222">PREC/L</text>
<line x1="433.7" y1="161.34" x2="449" y2="161.34" stroke="#ff7f00" stroke-width="1.2"/>
<text x="455.4" y="164.24" font-size="7.9" fill="#222">U.Del</text>
<line x1="433.7" y1="170.7" x2="449" y2="170.7" stroke="#111" stroke-width="1.2" stroke-dasharray="4.3,3.8"/>
<text x="455.4" y="173.6" font-size="7.9" fill="#222">90% CI</text>
<text x="1.5" y="7.7" font-size="12" font-weight="bold" fill="#000">a</text>
<text transform="translate(8.6,94.6) rotate(-90)" text-anchor="middle" font-size="9.6" fill="#111">RR</text>
<rect x="41.5" y="278.1" width="12.32" height="27" fill="#c6dbef" stroke="#9ecae1" stroke-width="0.8"/>
<rect x="54.62" y="275.4" width="12.32" height="29.1" fill="#c6dbef" stroke="#9ecae1" stroke-width="0.8"/>
<rect x="67.75" y="291.5" width="12.32" height="38.1" fill="#c6dbef" stroke="#9ecae1" stroke-width="0.8"/>
<rect x="80.88" y="275.8" width="12.32" height="31.1" fill="#c6dbef" stroke="#9ecae1" stroke-width="0.8"/>
<rect x="94" y="264.9" width="12.32" height="20.8" fill="#c6dbef" stroke="#9ecae1" stroke-width="0.8"/>
<rect x="107.12" y="269.3" width="12.32" height="27" fill="#c6dbef" stroke="#9ecae1" stroke-width="0.8"/>
<rect x="120.25" y="274.3" width="12.32" height="28.1" fill="#c6dbef" stroke="#9ecae1" stroke-width="0.8"/>
<rect x="133.38" y="284.3" width="12.32" height="33" fill="#c6dbef" stroke="#9ecae1" stroke-width="0.8"/>
<rect x="146.5" y="279.1" width="12.32" height="36.9" fill="#c6dbef" stroke="#9ecae1" stroke-width="0.8"/>
<rect x="159.62" y="285.1" width="12.32" height="32" fill="#c6dbef" stroke="#9ecae1" stroke-width="0.8"/>
<rect x="172.75" y="290.2" width="12.32" height="31.5" fill="#c6dbef" stroke="#9ecae1" stroke-width="0.8"/>
<rect x="185.88" y="311.8" width="12.32" height="43.6" fill="#c6dbef" stroke="#9ecae1" stroke-width="0.8"/>
<line x1="35.4" y1="291.9" x2="208.4" y2="291.9" stroke="#555" stroke-width="1.9"/>
<line x1="41.7" y1="290.9" x2="53.62" y2="290.9" stroke="#2166ac" stroke-width="1.7"/>
<line x1="54.83" y1="288.5" x2="66.75" y2="288.5" stroke="#2166ac" stroke-width="1.7"/>
<line x1="67.95" y1="307.3" x2="79.88" y2="307.3" stroke="#2166ac" stroke-width="1.7"/>
<line x1="81.07" y1="289.7" x2="93" y2="289.7" stroke="#2166ac" stroke-width="1.7"/>
<line x1="94.2" y1="273.8" x2="106.12" y2="273.8" stroke="#2166ac" stroke-width="1.7"/>
<line x1="107.32" y1="281.7" x2="119.25" y2="281.7" stroke="#2166ac" stroke-width="1.7"/>
<line x1="120.45" y1="288" x2="132.38" y2="288" stroke="#2166ac" stroke-width="1.7"/>
<line x1="133.57" y1="299.1" x2="145.5" y2="299.1" stroke="#2166ac" stroke-width="1.7"/>
<line x1="146.7" y1="295.2" x2="158.62" y2="295.2" stroke="#2166ac" stroke-width="1.7"/>
<line x1="159.82" y1="298.8" x2="171.75" y2="298.8" stroke="#2166ac" stroke-width="1.7"/>
<line x1="172.95" y1="304" x2="184.88" y2="304" stroke="#2166ac" stroke-width="1.7"/>
<line x1="186.07" y1="331.4" x2="198" y2="331.4" stroke="#2166ac" stroke-width="1.7"/>
<rect x="35.4" y="225.6" width="173" height="164.3" fill="none" stroke="#222" stroke-width="1.1"/>
<line x1="33.8" y1="383.58" x2="35.4" y2="383.58" stroke="#222" stroke-width="0.9"/><line x1="33.8" y1="376.06" x2="35.4" y2="376.06" stroke="#222" stroke-width="0.9"/><line x1="33.8" y1="370.22" x2="35.4" y2="370.22" stroke="#222" stroke-width="0.9"/><line x1="33.8" y1="365.46" x2="35.4" y2="365.46" stroke="#222" stroke-width="0.9"/><line x1="33.8" y1="361.43" x2="35.4" y2="361.43" stroke="#222" stroke-width="0.9"/><line x1="33.8" y1="357.93" x2="35.4" y2="357.93" stroke="#222" stroke-width="0.9"/><line x1="33.8" y1="354.85" x2="35.4" y2="354.85" stroke="#222" stroke-width="0.9"/><line x1="32.4" y1="352.1" x2="35.4" y2="352.1" stroke="#222" stroke-width="0.9"/><line x1="33.8" y1="333.98" x2="35.4" y2="333.98" stroke="#222" stroke-width="0.9"/><line x1="33.8" y1="323.38" x2="35.4" y2="323.38" stroke="#222" stroke-width="0.9"/><line x1="33.8" y1="315.86" x2="35.4" y2="315.86" stroke="#222" stroke-width="0.9"/><line x1="33.8" y1="310.02" x2="35.4" y2="310.02" stroke="#222" stroke-width="0.9"/><line x1="33.8" y1="305.26" x2="35.4" y2="305.26" stroke="#222" stroke-width="0.9"/><line x1="33.8" y1="301.23" x2="35.4" y2="301.23" stroke="#222" stroke-width="0.9"/><line x1="33.8" y1="297.73" x2="35.4" y2="297.73" stroke="#222" stroke-width="0.9"/><line x1="33.8" y1="294.65" x2="35.4" y2="294.65" stroke="#222" stroke-width="0.9"/><line x1="32.4" y1="291.9" x2="35.4" y2="291.9" stroke="#222" stroke-width="0.9"/><line x1="33.8" y1="273.78" x2="35.4" y2="273.78" stroke="#222" stroke-width="0.9"/><line x1="33.8" y1="263.18" x2="35.4" y2="263.18" stroke="#222" stroke-width="0.9"/><line x1="33.8" y1="255.66" x2="35.4" y2="255.66" stroke="#222" stroke-width="0.9"/><line x1="33.8" y1="249.82" x2="35.4" y2="249.82" stroke="#222" stroke-width="0.9"/><line x1="33.8" y1="245.06" x2="35.4" y2="245.06" stroke="#222" stroke-width="0.9"/><line x1="33.8" y1="241.03" x2="35.4" y2="241.03" stroke="#222" stroke-width="0.9"/><line x1="33.8" y1="237.53" x2="35.4" y2="237.53" stroke="#222" stroke-width="0.9"/><line x1="33.8" y1="234.45" x2="35.4" y2="234.45" stroke="#222" stroke-width="0.9"/><line x1="32.4" y1="231.7" x2="35.4" y2="231.7" stroke="#222" stroke-width="0.9"/><text transform="translate(29,231.1) rotate(-90)" text-anchor="middle" font-size="7.3" fill="#222" textLength="7.6" lengthAdjust="spacingAndGlyphs">10</text><text transform="translate(29,291.9) rotate(-90)" text-anchor="middle" font-size="7.3" fill="#222">1</text><text transform="translate(29,352.1) rotate(-90)" text-anchor="middle" font-size="7.3" fill="#222">0.1</text>
<line x1="60.5" y1="389.9" x2="60.5" y2="392.5" stroke="#222" stroke-width="0.9"/>
<text x="60.5" y="403.8" text-anchor="middle" font-size="8" textLength="15.8" lengthAdjust="spacingAndGlyphs" fill="#222">1900</text>
<line x1="86.58" y1="389.9" x2="86.58" y2="392.5" stroke="#222" stroke-width="0.9"/>
<text x="86.58" y="403.8" text-anchor="middle" font-size="8" textLength="15.8" lengthAdjust="spacingAndGlyphs" fill="#222">1920</text>
<line x1="112.66" y1="389.9" x2="112.66" y2="392.5" stroke="#222" stroke-width="0.9"/>
<text x="112.66" y="403.8" text-anchor="middle" font-size="8" textLength="15.8" lengthAdjust="spacingAndGlyphs" fill="#222">1940</text>
<line x1="138.74" y1="389.9" x2="138.74" y2="392.5" stroke="#222" stroke-width="0.9"/>
<text x="138.74" y="403.8" text-anchor="middle" font-size="8" textLength="15.8" lengthAdjust="spacingAndGlyphs" fill="#222">1960</text>
<line x1="164.82" y1="389.9" x2="164.82" y2="392.5" stroke="#222" stroke-width="0.9"/>
<text x="164.82" y="403.8" text-anchor="middle" font-size="8" textLength="15.8" lengthAdjust="spacingAndGlyphs" fill="#222">1980</text>
<line x1="190.9" y1="389.9" x2="190.9" y2="392.5" stroke="#222" stroke-width="0.9"/>
<text x="190.9" y="403.8" text-anchor="middle" font-size="8" textLength="15.8" lengthAdjust="spacingAndGlyphs" fill="#222">2000</text>
<text x="121.9" y="217.6" text-anchor="middle" font-size="9.8" fill="#111">NEU</text>
<rect x="237.7" y="268.7" width="12.32" height="26.3" fill="#c6dbef" stroke="#9ecae1" stroke-width="0.8"/>
<rect x="250.82" y="278.5" width="12.32" height="31.2" fill="#c6dbef" stroke="#9ecae1" stroke-width="0.8"/>
<rect x="263.95" y="278" width="12.32" height="30.5" fill="#c6dbef" stroke="#9ecae1" stroke-width="0.8"/>
<rect x="277.07" y="269.3" width="12.32" height="27.1" fill="#c6dbef" stroke="#9ecae1" stroke-width="0.8"/>
<rect x="290.2" y="258.5" width="12.32" height="26.1" fill="#c6dbef" stroke="#9ecae1" stroke-width="0.8"/>
<rect x="303.32" y="260.4" width="12.32" height="20.5" fill="#c6dbef" stroke="#9ecae1" stroke-width="0.8"/>
<rect x="316.45" y="263.1" width="12.32" height="21.8" fill="#c6dbef" stroke="#9ecae1" stroke-width="0.8"/>
<rect x="329.57" y="266.3" width="12.32" height="26" fill="#c6dbef" stroke="#9ecae1" stroke-width="0.8"/>
<rect x="342.7" y="259.4" width="12.32" height="24" fill="#c6dbef" stroke="#9ecae1" stroke-width="0.8"/>
<rect x="355.82" y="268" width="12.32" height="29" fill="#c6dbef" stroke="#9ecae1" stroke-width="0.8"/>
<rect x="368.95" y="263.7" width="12.32" height="25.7" fill="#c6dbef" stroke="#9ecae1" stroke-width="0.8"/>
<rect x="382.07" y="271.1" width="12.32" height="23.9" fill="#c6dbef" stroke="#9ecae1" stroke-width="0.8"/>
<line x1="231.6" y1="291.9" x2="404.6" y2="291.9" stroke="#555" stroke-width="1.9"/>
<line x1="237.9" y1="280.8" x2="249.82" y2="280.8" stroke="#2166ac" stroke-width="1.7"/>
<line x1="251.02" y1="292" x2="262.95" y2="292" stroke="#2166ac" stroke-width="1.7"/>
<line x1="264.15" y1="291.2" x2="276.07" y2="291.2" stroke="#2166ac" stroke-width="1.7"/>
<line x1="277.27" y1="281.5" x2="289.2" y2="281.5" stroke="#2166ac" stroke-width="1.7"/>
<line x1="290.4" y1="269.8" x2="302.32" y2="269.8" stroke="#2166ac" stroke-width="1.7"/>
<line x1="303.52" y1="269.6" x2="315.45" y2="269.6" stroke="#2166ac" stroke-width="1.7"/>
<line x1="316.65" y1="273" x2="328.57" y2="273" stroke="#2166ac" stroke-width="1.7"/>
<line x1="329.77" y1="277.9" x2="341.7" y2="277.9" stroke="#2166ac" stroke-width="1.7"/>
<line x1="342.9" y1="269.6" x2="354.82" y2="269.6" stroke="#2166ac" stroke-width="1.7"/>
<line x1="356.02" y1="280.9" x2="367.95" y2="280.9" stroke="#2166ac" stroke-width="1.7"/>
<line x1="369.15" y1="274.2" x2="381.07" y2="274.2" stroke="#2166ac" stroke-width="1.7"/>
<line x1="382.27" y1="282.4" x2="394.2" y2="282.4" stroke="#2166ac" stroke-width="1.7"/>
<rect x="231.6" y="225.6" width="173" height="164.3" fill="none" stroke="#222" stroke-width="1.1"/>
<line x1="230" y1="383.58" x2="231.6" y2="383.58" stroke="#222" stroke-width="0.9"/><line x1="230" y1="376.06" x2="231.6" y2="376.06" stroke="#222" stroke-width="0.9"/><line x1="230" y1="370.22" x2="231.6" y2="370.22" stroke="#222" stroke-width="0.9"/><line x1="230" y1="365.46" x2="231.6" y2="365.46" stroke="#222" stroke-width="0.9"/><line x1="230" y1="361.43" x2="231.6" y2="361.43" stroke="#222" stroke-width="0.9"/><line x1="230" y1="357.93" x2="231.6" y2="357.93" stroke="#222" stroke-width="0.9"/><line x1="230" y1="354.85" x2="231.6" y2="354.85" stroke="#222" stroke-width="0.9"/><line x1="228.6" y1="352.1" x2="231.6" y2="352.1" stroke="#222" stroke-width="0.9"/><line x1="230" y1="333.98" x2="231.6" y2="333.98" stroke="#222" stroke-width="0.9"/><line x1="230" y1="323.38" x2="231.6" y2="323.38" stroke="#222" stroke-width="0.9"/><line x1="230" y1="315.86" x2="231.6" y2="315.86" stroke="#222" stroke-width="0.9"/><line x1="230" y1="310.02" x2="231.6" y2="310.02" stroke="#222" stroke-width="0.9"/><line x1="230" y1="305.26" x2="231.6" y2="305.26" stroke="#222" stroke-width="0.9"/><line x1="230" y1="301.23" x2="231.6" y2="301.23" stroke="#222" stroke-width="0.9"/><line x1="230" y1="297.73" x2="231.6" y2="297.73" stroke="#222" stroke-width="0.9"/><line x1="230" y1="294.65" x2="231.6" y2="294.65" stroke="#222" stroke-width="0.9"/><line x1="228.6" y1="291.9" x2="231.6" y2="291.9" stroke="#222" stroke-width="0.9"/><line x1="230" y1="273.78" x2="231.6" y2="273.78" stroke="#222" stroke-width="0.9"/><line x1="230" y1="263.18" x2="231.6" y2="263.18" stroke="#222" stroke-width="0.9"/><line x1="230" y1="255.66" x2="231.6" y2="255.66" stroke="#222" stroke-width="0.9"/><line x1="230" y1="249.82" x2="231.6" y2="249.82" stroke="#222" stroke-width="0.9"/><line x1="230" y1="245.06" x2="231.6" y2="245.06" stroke="#222" stroke-width="0.9"/><line x1="230" y1="241.03" x2="231.6" y2="241.03" stroke="#222" stroke-width="0.9"/><line x1="230" y1="237.53" x2="231.6" y2="237.53" stroke="#222" stroke-width="0.9"/><line x1="230" y1="234.45" x2="231.6" y2="234.45" stroke="#222" stroke-width="0.9"/><line x1="228.6" y1="231.7" x2="231.6" y2="231.7" stroke="#222" stroke-width="0.9"/><text transform="translate(225.2,231.1) rotate(-90)" text-anchor="middle" font-size="7.3" fill="#222" textLength="7.6" lengthAdjust="spacingAndGlyphs">10</text><text transform="translate(225.2,291.9) rotate(-90)" text-anchor="middle" font-size="7.3" fill="#222">1</text><text transform="translate(225.2,352.1) rotate(-90)" text-anchor="middle" font-size="7.3" fill="#222">0.1</text>
<line x1="256.7" y1="389.9" x2="256.7" y2="392.5" stroke="#222" stroke-width="0.9"/>
<text x="256.7" y="403.8" text-anchor="middle" font-size="8" textLength="15.8" lengthAdjust="spacingAndGlyphs" fill="#222">1900</text>
<line x1="282.78" y1="389.9" x2="282.78" y2="392.5" stroke="#222" stroke-width="0.9"/>
<text x="282.78" y="403.8" text-anchor="middle" font-size="8" textLength="15.8" lengthAdjust="spacingAndGlyphs" fill="#222">1920</text>
<line x1="308.86" y1="389.9" x2="308.86" y2="392.5" stroke="#222" stroke-width="0.9"/>
<text x="308.86" y="403.8" text-anchor="middle" font-size="8" textLength="15.8" lengthAdjust="spacingAndGlyphs" fill="#222">1940</text>
<line x1="334.94" y1="389.9" x2="334.94" y2="392.5" stroke="#222" stroke-width="0.9"/>
<text x="334.94" y="403.8" text-anchor="middle" font-size="8" textLength="15.8" lengthAdjust="spacingAndGlyphs" fill="#222">1960</text>
<line x1="361.02" y1="389.9" x2="361.02" y2="392.5" stroke="#222" stroke-width="0.9"/>
<text x="361.02" y="403.8" text-anchor="middle" font-size="8" textLength="15.8" lengthAdjust="spacingAndGlyphs" fill="#222">1980</text>
<line x1="387.1" y1="389.9" x2="387.1" y2="392.5" stroke="#222" stroke-width="0.9"/>
<text x="387.1" y="403.8" text-anchor="middle" font-size="8" textLength="15.8" lengthAdjust="spacingAndGlyphs" fill="#222">2000</text>
<text x="318.1" y="217.6" text-anchor="middle" font-size="9.8" fill="#111">CEU</text>
<rect x="433.9" y="269.7" width="12.32" height="24.7" fill="#c6dbef" stroke="#9ecae1" stroke-width="0.8"/>
<rect x="447.02" y="277.8" width="12.32" height="26.2" fill="#c6dbef" stroke="#9ecae1" stroke-width="0.8"/>
<rect x="460.15" y="281.8" width="12.32" height="29.4" fill="#c6dbef" stroke="#9ecae1" stroke-width="0.8"/>
<rect x="473.27" y="257.7" width="12.32" height="20.7" fill="#c6dbef" stroke="#9ecae1" stroke-width="0.8"/>
<rect x="486.4" y="260.2" width="12.32" height="21.3" fill="#c6dbef" stroke="#9ecae1" stroke-width="0.8"/>
<rect x="499.52" y="259.6" width="12.32" height="22.3" fill="#c6dbef" stroke="#9ecae1" stroke-width="0.8"/>
<rect x="512.65" y="263.7" width="12.32" height="22" fill="#c6dbef" stroke="#9ecae1" stroke-width="0.8"/>
<rect x="525.77" y="266.1" width="12.32" height="22.6" fill="#c6dbef" stroke="#9ecae1" stroke-width="0.8"/>
<rect x="538.9" y="259.5" width="12.32" height="22.7" fill="#c6dbef" stroke="#9ecae1" stroke-width="0.8"/>
<rect x="552.02" y="253" width="12.32" height="18.8" fill="#c6dbef" stroke="#9ecae1" stroke-width="0.8"/>
<rect x="565.15" y="248.9" width="12.32" height="15.7" fill="#c6dbef" stroke="#9ecae1" stroke-width="0.8"/>
<rect x="578.27" y="252.6" width="12.32" height="15.7" fill="#c6dbef" stroke="#9ecae1" stroke-width="0.8"/>
<line x1="427.8" y1="291.9" x2="600.8" y2="291.9" stroke="#555" stroke-width="1.9"/>
<line x1="434.1" y1="281.3" x2="446.02" y2="281.3" stroke="#2166ac" stroke-width="1.7"/>
<line x1="447.23" y1="289.6" x2="459.15" y2="289.6" stroke="#2166ac" stroke-width="1.7"/>
<line x1="460.35" y1="295.3" x2="472.27" y2="295.3" stroke="#2166ac" stroke-width="1.7"/>
<line x1="473.48" y1="266.9" x2="485.4" y2="266.9" stroke="#2166ac" stroke-width="1.7"/>
<line x1="486.6" y1="269.8" x2="498.52" y2="269.8" stroke="#2166ac" stroke-width="1.7"/>
<line x1="499.73" y1="269.8" x2="511.65" y2="269.8" stroke="#2166ac" stroke-width="1.7"/>
<line x1="512.85" y1="273.8" x2="524.77" y2="273.8" stroke="#2166ac" stroke-width="1.7"/>
<line x1="525.98" y1="276.1" x2="537.9" y2="276.1" stroke="#2166ac" stroke-width="1.7"/>
<line x1="539.1" y1="269.9" x2="551.02" y2="269.9" stroke="#2166ac" stroke-width="1.7"/>
<line x1="552.23" y1="261.5" x2="564.15" y2="261.5" stroke="#2166ac" stroke-width="1.7"/>
<line x1="565.35" y1="255.9" x2="577.27" y2="255.9" stroke="#2166ac" stroke-width="1.7"/>
<line x1="578.48" y1="259.9" x2="590.4" y2="259.9" stroke="#2166ac" stroke-width="1.7"/>
<rect x="427.8" y="225.6" width="173" height="164.3" fill="none" stroke="#222" stroke-width="1.1"/>
<line x1="426.2" y1="383.58" x2="427.8" y2="383.58" stroke="#222" stroke-width="0.9"/><line x1="426.2" y1="376.06" x2="427.8" y2="376.06" stroke="#222" stroke-width="0.9"/><line x1="426.2" y1="370.22" x2="427.8" y2="370.22" stroke="#222" stroke-width="0.9"/><line x1="426.2" y1="365.46" x2="427.8" y2="365.46" stroke="#222" stroke-width="0.9"/><line x1="426.2" y1="361.43" x2="427.8" y2="361.43" stroke="#222" stroke-width="0.9"/><line x1="426.2" y1="357.93" x2="427.8" y2="357.93" stroke="#222" stroke-width="0.9"/><line x1="426.2" y1="354.85" x2="427.8" y2="354.85" stroke="#222" stroke-width="0.9"/><line x1="424.8" y1="352.1" x2="427.8" y2="352.1" stroke="#222" stroke-width="0.9"/><line x1="426.2" y1="333.98" x2="427.8" y2="333.98" stroke="#222" stroke-width="0.9"/><line x1="426.2" y1="323.38" x2="427.8" y2="323.38" stroke="#222" stroke-width="0.9"/><line x1="426.2" y1="315.86" x2="427.8" y2="315.86" stroke="#222" stroke-width="0.9"/><line x1="426.2" y1="310.02" x2="427.8" y2="310.02" stroke="#222" stroke-width="0.9"/><line x1="426.2" y1="305.26" x2="427.8" y2="305.26" stroke="#222" stroke-width="0.9"/><line x1="426.2" y1="301.23" x2="427.8" y2="301.23" stroke="#222" stroke-width="0.9"/><line x1="426.2" y1="297.73" x2="427.8" y2="297.73" stroke="#222" stroke-width="0.9"/><line x1="426.2" y1="294.65" x2="427.8" y2="294.65" stroke="#222" stroke-width="0.9"/><line x1="424.8" y1="291.9" x2="427.8" y2="291.9" stroke="#222" stroke-width="0.9"/><line x1="426.2" y1="273.78" x2="427.8" y2="273.78" stroke="#222" stroke-width="0.9"/><line x1="426.2" y1="263.18" x2="427.8" y2="263.18" stroke="#222" stroke-width="0.9"/><line x1="426.2" y1="255.66" x2="427.8" y2="255.66" stroke="#222" stroke-width="0.9"/><line x1="426.2" y1="249.82" x2="427.8" y2="249.82" stroke="#222" stroke-width="0.9"/><line x1="426.2" y1="245.06" x2="427.8" y2="245.06" stroke="#222" stroke-width="0.9"/><line x1="426.2" y1="241.03" x2="427.8" y2="241.03" stroke="#222" stroke-width="0.9"/><line x1="426.2" y1="237.53" x2="427.8" y2="237.53" stroke="#222" stroke-width="0.9"/><line x1="426.2" y1="234.45" x2="427.8" y2="234.45" stroke="#222" stroke-width="0.9"/><line x1="424.8" y1="231.7" x2="427.8" y2="231.7" stroke="#222" stroke-width="0.9"/><text transform="translate(421.4,231.1) rotate(-90)" text-anchor="middle" font-size="7.3" fill="#222" textLength="7.6" lengthAdjust="spacingAndGlyphs">10</text><text transform="translate(421.4,291.9) rotate(-90)" text-anchor="middle" font-size="7.3" fill="#222">1</text><text transform="translate(421.4,352.1) rotate(-90)" text-anchor="middle" font-size="7.3" fill="#222">0.1</text>
<line x1="452.9" y1="389.9" x2="452.9" y2="392.5" stroke="#222" stroke-width="0.9"/>
<text x="452.9" y="403.8" text-anchor="middle" font-size="8" textLength="15.8" lengthAdjust="spacingAndGlyphs" fill="#222">1900</text>
<line x1="478.98" y1="389.9" x2="478.98" y2="392.5" stroke="#222" stroke-width="0.9"/>
<text x="478.98" y="403.8" text-anchor="middle" font-size="8" textLength="15.8" lengthAdjust="spacingAndGlyphs" fill="#222">1920</text>
<line x1="505.06" y1="389.9" x2="505.06" y2="392.5" stroke="#222" stroke-width="0.9"/>
<text x="505.06" y="403.8" text-anchor="middle" font-size="8" textLength="15.8" lengthAdjust="spacingAndGlyphs" fill="#222">1940</text>
<line x1="531.14" y1="389.9" x2="531.14" y2="392.5" stroke="#222" stroke-width="0.9"/>
<text x="531.14" y="403.8" text-anchor="middle" font-size="8" textLength="15.8" lengthAdjust="spacingAndGlyphs" fill="#222">1960</text>
<line x1="557.22" y1="389.9" x2="557.22" y2="392.5" stroke="#222" stroke-width="0.9"/>
<text x="557.22" y="403.8" text-anchor="middle" font-size="8" textLength="15.8" lengthAdjust="spacingAndGlyphs" fill="#222">1980</text>
<line x1="583.3" y1="389.9" x2="583.3" y2="392.5" stroke="#222" stroke-width="0.9"/>
<text x="583.3" y="403.8" text-anchor="middle" font-size="8" textLength="15.8" lengthAdjust="spacingAndGlyphs" fill="#222">2000</text>
<text x="514.3" y="217.6" text-anchor="middle" font-size="9.8" fill="#111">MED</text>
<text x="1.5" y="223.8" font-size="12" font-weight="bold" fill="#000">b</text>
<text transform="translate(9.3,304.4) rotate(-90)" text-anchor="middle" font-size="9.6" fill="#111">RR</text>
<line x1="529.6" y1="371.6" x2="544.3" y2="371.6" stroke="#3a7fc1" stroke-width="1.1"/>
<line x1="530.2" y1="380.6" x2="544.1" y2="380.6" stroke="#c6dbef" stroke-width="5.2" stroke-linecap="round"/>
<text x="551.2" y="374.4" font-size="7.9" textLength="45.6" lengthAdjust="spacingAndGlyphs" fill="#222">Best estimate</text>
<text x="551.2" y="383.7" font-size="7.9" fill="#222">90% CI</text>
</g></svg></body></html>
